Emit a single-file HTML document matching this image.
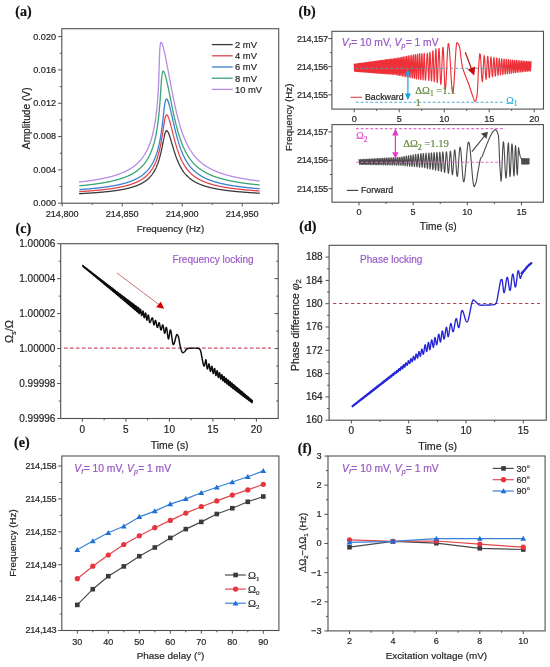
<!DOCTYPE html>
<html><head><meta charset="utf-8"><style>
html,body{margin:0;padding:0;background:#fff;width:550px;height:667px;overflow:hidden}
svg{display:block;filter:blur(0.3px)}
text{font-family:"Liberation Sans",sans-serif}
</style></head><body>
<svg width="550" height="667" viewBox="0 0 550 667">
<text x="15.3" y="15.8" style="font-family:Liberation Serif;font-weight:bold" font-size="14" fill="#111" stroke="#111" stroke-width="0.2">(a)</text>
<path d="M79.60 193.65 L79.90 193.64 L80.20 193.62 L80.50 193.61 L80.80 193.59 L81.10 193.58 L81.40 193.56 L81.70 193.54 L81.99 193.53 L82.29 193.51 L82.59 193.50 L82.89 193.48 L83.19 193.46 L83.49 193.45 L83.79 193.43 L84.09 193.41 L84.39 193.40 L84.68 193.38 L84.98 193.36 L85.28 193.35 L85.58 193.33 L85.88 193.31 L86.18 193.29 L86.48 193.28 L86.78 193.26 L87.07 193.24 L87.37 193.22 L87.67 193.21 L87.97 193.19 L88.27 193.17 L88.57 193.15 L88.87 193.13 L89.17 193.11 L89.47 193.09 L89.76 193.07 L90.06 193.06 L90.36 193.04 L90.66 193.02 L90.96 193.00 L91.26 192.98 L91.56 192.96 L91.86 192.94 L92.15 192.92 L92.45 192.90 L92.75 192.88 L93.05 192.85 L93.35 192.83 L93.65 192.81 L93.95 192.79 L94.24 192.77 L94.54 192.75 L94.84 192.73 L95.14 192.70 L95.44 192.68 L95.74 192.66 L96.04 192.64 L96.34 192.61 L96.63 192.59 L96.93 192.57 L97.23 192.54 L97.53 192.52 L97.83 192.50 L98.13 192.47 L98.43 192.45 L98.72 192.43 L99.02 192.40 L99.32 192.38 L99.62 192.35 L99.92 192.33 L100.22 192.30 L100.52 192.27 L100.81 192.25 L101.11 192.22 L101.41 192.20 L101.71 192.17 L102.01 192.14 L102.31 192.12 L102.61 192.09 L102.90 192.06 L103.20 192.03 L103.50 192.01 L103.80 191.98 L104.10 191.95 L104.40 191.92 L104.69 191.89 L104.99 191.86 L105.29 191.83 L105.59 191.80 L105.89 191.77 L106.19 191.74 L106.48 191.71 L106.78 191.68 L107.08 191.65 L107.38 191.62 L107.68 191.59 L107.98 191.55 L108.27 191.52 L108.57 191.49 L108.87 191.45 L109.17 191.42 L109.47 191.39 L109.77 191.35 L110.06 191.32 L110.36 191.28 L110.66 191.25 L110.96 191.21 L111.26 191.18 L111.56 191.14 L111.85 191.10 L112.15 191.07 L112.45 191.03 L112.75 190.99 L113.05 190.95 L113.34 190.91 L113.64 190.87 L113.94 190.83 L114.24 190.79 L114.54 190.75 L114.83 190.71 L115.13 190.67 L115.43 190.63 L115.73 190.59 L116.03 190.55 L116.33 190.50 L116.62 190.46 L116.92 190.41 L117.22 190.37 L117.52 190.32 L117.81 190.28 L118.11 190.23 L118.41 190.19 L118.71 190.14 L119.01 190.09 L119.30 190.04 L119.60 189.99 L119.90 189.94 L120.20 189.89 L120.50 189.84 L120.79 189.79 L121.09 189.74 L121.39 189.68 L121.69 189.63 L121.98 189.58 L122.28 189.52 L122.58 189.47 L122.88 189.41 L123.17 189.35 L123.47 189.29 L123.77 189.24 L124.07 189.18 L124.37 189.12 L124.66 189.06 L124.96 188.99 L125.26 188.93 L125.56 188.87 L125.85 188.80 L126.15 188.74 L126.45 188.67 L126.74 188.61 L127.04 188.54 L127.34 188.47 L127.64 188.40 L127.93 188.33 L128.23 188.26 L128.53 188.18 L128.83 188.11 L129.12 188.03 L129.42 187.96 L129.72 187.88 L130.01 187.80 L130.31 187.72 L130.61 187.64 L130.91 187.56 L131.20 187.48 L131.50 187.39 L131.80 187.30 L132.09 187.22 L132.39 187.13 L132.69 187.04 L132.98 186.95 L133.28 186.85 L133.58 186.76 L133.87 186.66 L134.17 186.56 L134.47 186.46 L134.76 186.36 L135.06 186.26 L135.36 186.15 L135.65 186.05 L135.95 185.94 L136.24 185.83 L136.54 185.72 L136.84 185.60 L137.13 185.48 L137.43 185.37 L137.73 185.24 L138.02 185.12 L138.32 185.00 L138.61 184.87 L138.91 184.74 L139.20 184.60 L139.50 184.47 L139.80 184.33 L140.09 184.19 L140.39 184.05 L140.68 183.90 L140.98 183.75 L141.27 183.60 L141.57 183.44 L141.86 183.28 L142.16 183.12 L142.45 182.95 L142.75 182.78 L143.04 182.61 L143.34 182.43 L143.63 182.25 L143.93 182.06 L144.22 181.88 L144.51 181.68 L144.81 181.48 L145.10 181.28 L145.40 181.07 L145.69 180.86 L145.98 180.64 L146.28 180.42 L146.57 180.19 L146.86 179.95 L147.16 179.71 L147.45 179.47 L147.74 179.21 L148.03 178.95 L148.32 178.70 L148.59 178.44 L148.86 178.18 L149.12 177.92 L149.38 177.67 L149.63 177.41 L149.87 177.15 L150.11 176.90 L150.34 176.64 L150.56 176.39 L150.78 176.13 L151.00 175.88 L151.21 175.62 L151.41 175.37 L151.61 175.11 L151.81 174.86 L152.00 174.61 L152.18 174.36 L152.37 174.10 L152.55 173.85 L152.72 173.60 L152.89 173.35 L153.06 173.10 L153.23 172.85 L153.39 172.60 L153.55 172.35 L153.70 172.10 L153.85 171.85 L154.00 171.60 L154.15 171.36 L154.29 171.11 L154.43 170.86 L154.57 170.62 L154.71 170.37 L154.84 170.13 L154.97 169.88 L155.10 169.64 L155.23 169.39 L155.35 169.15 L155.47 168.91 L155.59 168.66 L155.71 168.42 L155.82 168.18 L155.94 167.94 L156.05 167.70 L156.16 167.46 L156.27 167.22 L156.37 166.98 L156.48 166.74 L156.58 166.50 L156.68 166.26 L156.78 166.02 L156.88 165.79 L156.98 165.55 L157.07 165.32 L157.17 165.08 L157.26 164.85 L157.35 164.61 L157.44 164.38 L157.53 164.15 L157.61 163.91 L157.70 163.68 L157.78 163.45 L157.87 163.22 L157.95 162.99 L158.03 162.76 L158.11 162.53 L158.19 162.30 L158.27 162.07 L158.34 161.84 L158.42 161.62 L158.49 161.39 L158.57 161.17 L158.64 160.94 L158.71 160.72 L158.78 160.49 L158.85 160.27 L158.92 160.05 L158.99 159.82 L159.06 159.60 L159.12 159.38 L159.19 159.16 L159.25 158.94 L159.32 158.72 L159.38 158.50 L159.44 158.29 L159.51 158.07 L159.57 157.85 L159.63 157.64 L159.69 157.42 L159.75 157.21 L159.80 156.99 L159.86 156.78 L159.92 156.57 L159.97 156.36 L160.03 156.14 L160.08 155.93 L160.14 155.72 L160.19 155.51 L160.25 155.31 L160.30 155.10 L160.35 154.89 L160.40 154.68 L160.45 154.48 L160.50 154.27 L160.55 154.07 L160.60 153.87 L160.65 153.66 L160.70 153.46 L160.75 153.26 L160.80 153.06 L160.84 152.86 L160.89 152.66 L160.94 152.46 L160.98 152.26 L161.03 152.07 L161.07 151.87 L161.12 151.67 L161.16 151.48 L161.20 151.28 L161.25 151.09 L161.29 150.90 L161.33 150.71 L161.37 150.51 L161.41 150.32 L161.46 150.13 L161.50 149.95 L161.54 149.76 L161.58 149.57 L161.62 149.38 L161.66 149.20 L161.70 149.01 L161.73 148.83 L161.77 148.65 L161.81 148.46 L161.85 148.28 L161.89 148.10 L161.92 147.92 L161.96 147.74 L162.00 147.56 L162.03 147.38 L162.07 147.21 L162.10 147.03 L162.14 146.85 L162.18 146.68 L162.21 146.51 L162.24 146.33 L162.28 146.16 L162.31 145.99 L162.35 145.82 L162.38 145.65 L162.41 145.48 L162.45 145.31 L162.48 145.15 L162.51 144.98 L162.55 144.81 L162.58 144.65 L162.61 144.49 L162.64 144.32 L162.67 144.16 L162.71 144.00 L162.74 143.84 L162.77 143.68 L162.80 143.52 L162.83 143.37 L162.86 143.21 L162.89 143.05 L162.92 142.90 L162.95 142.74 L162.98 142.59 L163.01 142.44 L163.04 142.29 L163.07 142.14 L163.10 141.99 L163.13 141.84 L163.16 141.69 L163.18 141.54 L163.21 141.40 L163.24 141.25 L163.27 141.11 L163.30 140.96 L163.32 140.82 L163.35 140.68 L163.38 140.54 L163.41 140.40 L163.43 140.26 L163.46 140.12 L163.49 139.99 L163.52 139.85 L163.54 139.72 L163.57 139.58 L163.60 139.45 L163.62 139.32 L163.65 139.19 L163.67 139.06 L163.70 138.93 L163.73 138.80 L163.75 138.67 L163.78 138.54 L163.80 138.42 L163.83 138.29 L163.86 138.17 L163.88 138.05 L163.91 137.93 L163.93 137.81 L163.96 137.69 L163.98 137.57 L164.01 137.45 L164.03 137.33 L164.06 137.22 L164.08 137.10 L164.10 136.99 L164.13 136.87 L164.15 136.76 L164.18 136.65 L164.20 136.54 L164.23 136.43 L164.25 136.32 L164.28 136.22 L164.30 136.11 L164.32 136.01 L164.35 135.90 L164.37 135.80 L164.39 135.70 L164.42 135.60 L164.44 135.50 L164.47 135.40 L164.49 135.30 L164.51 135.20 L164.54 135.11 L164.56 135.01 L164.58 134.92 L164.61 134.82 L164.63 134.73 L164.65 134.64 L164.68 134.55 L164.70 134.46 L164.72 134.37 L164.74 134.29 L164.77 134.20 L164.79 134.12 L164.81 134.03 L164.84 133.95 L164.86 133.87 L164.88 133.79 L164.91 133.71 L164.93 133.63 L164.95 133.55 L164.97 133.47 L165.00 133.40 L165.02 133.32 L165.04 133.25 L165.06 133.18 L165.09 133.11 L165.11 133.04 L165.13 132.97 L165.15 132.90 L165.18 132.83 L165.20 132.76 L165.22 132.70 L165.24 132.63 L165.27 132.57 L165.29 132.51 L165.31 132.45 L165.33 132.39 L165.36 132.33 L165.38 132.27 L165.40 132.21 L165.42 132.16 L165.45 132.10 L165.47 132.05 L165.49 132.00 L165.51 131.95 L165.54 131.90 L165.56 131.85 L165.58 131.80 L165.60 131.75 L165.63 131.70 L165.65 131.66 L165.67 131.62 L165.69 131.57 L165.72 131.53 L165.74 131.49 L165.76 131.45 L165.78 131.41 L165.81 131.37 L165.83 131.34 L165.85 131.30 L165.87 131.27 L165.90 131.23 L165.92 131.20 L165.94 131.17 L165.96 131.14 L165.99 131.11 L166.01 131.08 L166.03 131.05 L166.06 131.03 L166.08 131.00 L166.10 130.98 L166.12 130.96 L166.15 130.94 L166.17 130.92 L166.19 130.90 L166.22 130.88 L166.24 130.86 L166.26 130.84 L166.28 130.83 L166.31 130.81 L166.33 130.80 L166.35 130.79 L166.38 130.78 L166.40 130.77 L166.42 130.76 L166.45 130.75 L166.47 130.75 L166.49 130.74 L166.52 130.74 L166.54 130.73 L166.56 130.73 L166.59 130.73 L166.61 130.73 L166.64 130.73 L166.67 130.73 L166.69 130.74 L166.72 130.74 L166.75 130.74 L166.77 130.75 L166.80 130.76 L166.83 130.77 L166.86 130.78 L166.88 130.79 L166.91 130.80 L166.94 130.81 L166.96 130.83 L166.99 130.84 L167.02 130.86 L167.05 130.87 L167.08 130.89 L167.10 130.91 L167.13 130.93 L167.16 130.95 L167.19 130.98 L167.21 131.00 L167.24 131.02 L167.27 131.05 L167.30 131.08 L167.33 131.10 L167.36 131.13 L167.38 131.16 L167.41 131.19 L167.44 131.23 L167.47 131.26 L167.50 131.29 L167.53 131.33 L167.56 131.37 L167.58 131.40 L167.61 131.44 L167.64 131.48 L167.67 131.52 L167.70 131.56 L167.73 131.61 L167.76 131.65 L167.79 131.70 L167.82 131.74 L167.85 131.79 L167.88 131.84 L167.91 131.89 L167.94 131.94 L167.97 131.99 L168.00 132.04 L168.03 132.09 L168.06 132.15 L168.09 132.20 L168.12 132.26 L168.15 132.32 L168.18 132.38 L168.21 132.44 L168.24 132.50 L168.27 132.56 L168.30 132.62 L168.33 132.69 L168.36 132.75 L168.39 132.82 L168.42 132.89 L168.46 132.95 L168.49 133.02 L168.52 133.09 L168.55 133.16 L168.58 133.24 L168.61 133.31 L168.65 133.38 L168.68 133.46 L168.71 133.54 L168.74 133.61 L168.77 133.69 L168.81 133.77 L168.84 133.85 L168.87 133.93 L168.90 134.02 L168.94 134.10 L168.97 134.19 L169.00 134.27 L169.04 134.36 L169.07 134.45 L169.10 134.53 L169.14 134.62 L169.17 134.72 L169.20 134.81 L169.24 134.90 L169.27 134.99 L169.31 135.09 L169.34 135.18 L169.38 135.28 L169.41 135.38 L169.44 135.48 L169.48 135.58 L169.51 135.68 L169.55 135.78 L169.58 135.88 L169.62 135.99 L169.65 136.09 L169.69 136.20 L169.73 136.31 L169.76 136.41 L169.80 136.52 L169.83 136.63 L169.87 136.74 L169.91 136.85 L169.94 136.97 L169.98 137.08 L170.02 137.20 L170.05 137.31 L170.09 137.43 L170.13 137.55 L170.17 137.66 L170.20 137.78 L170.24 137.91 L170.28 138.03 L170.32 138.15 L170.36 138.27 L170.39 138.40 L170.43 138.52 L170.47 138.65 L170.51 138.78 L170.55 138.90 L170.59 139.03 L170.63 139.16 L170.67 139.29 L170.71 139.43 L170.75 139.56 L170.79 139.69 L170.83 139.83 L170.87 139.96 L170.91 140.10 L170.95 140.24 L170.99 140.38 L171.03 140.52 L171.08 140.66 L171.12 140.80 L171.16 140.94 L171.20 141.08 L171.24 141.23 L171.29 141.37 L171.33 141.52 L171.37 141.66 L171.42 141.81 L171.46 141.96 L171.50 142.11 L171.55 142.26 L171.59 142.41 L171.64 142.56 L171.68 142.72 L171.73 142.87 L171.77 143.03 L171.82 143.18 L171.86 143.34 L171.91 143.50 L171.95 143.65 L172.00 143.81 L172.05 143.97 L172.09 144.13 L172.14 144.30 L172.19 144.46 L172.24 144.62 L172.28 144.79 L172.33 144.95 L172.38 145.12 L172.43 145.28 L172.48 145.45 L172.53 145.62 L172.58 145.79 L172.63 145.96 L172.68 146.13 L172.73 146.30 L172.78 146.48 L172.83 146.65 L172.88 146.82 L172.93 147.00 L172.99 147.18 L173.04 147.35 L173.09 147.53 L173.14 147.71 L173.20 147.89 L173.25 148.07 L173.31 148.25 L173.36 148.43 L173.42 148.61 L173.47 148.80 L173.53 148.98 L173.58 149.17 L173.64 149.35 L173.70 149.54 L173.75 149.73 L173.81 149.91 L173.87 150.10 L173.93 150.29 L173.99 150.48 L174.05 150.67 L174.11 150.86 L174.17 151.06 L174.23 151.25 L174.29 151.44 L174.35 151.64 L174.41 151.83 L174.47 152.03 L174.54 152.23 L174.60 152.43 L174.66 152.62 L174.73 152.82 L174.79 153.02 L174.86 153.22 L174.93 153.43 L174.99 153.63 L175.06 153.83 L175.13 154.03 L175.20 154.24 L175.27 154.44 L175.34 154.65 L175.41 154.86 L175.48 155.06 L175.55 155.27 L175.62 155.48 L175.69 155.69 L175.77 155.90 L175.84 156.11 L175.92 156.32 L175.99 156.53 L176.07 156.74 L176.14 156.96 L176.22 157.17 L176.30 157.38 L176.38 157.60 L176.46 157.82 L176.54 158.03 L176.62 158.25 L176.70 158.47 L176.79 158.68 L176.87 158.90 L176.96 159.12 L177.04 159.34 L177.13 159.56 L177.22 159.79 L177.31 160.01 L177.40 160.23 L177.49 160.45 L177.58 160.68 L177.67 160.90 L177.76 161.13 L177.86 161.35 L177.96 161.58 L178.05 161.81 L178.15 162.03 L178.25 162.26 L178.35 162.49 L178.45 162.72 L178.56 162.95 L178.66 163.18 L178.77 163.41 L178.87 163.64 L178.98 163.87 L179.09 164.11 L179.20 164.34 L179.31 164.57 L179.43 164.81 L179.54 165.04 L179.66 165.28 L179.78 165.51 L179.90 165.75 L180.02 165.98 L180.15 166.22 L180.27 166.46 L180.40 166.70 L180.53 166.94 L180.66 167.18 L180.79 167.41 L180.93 167.65 L181.06 167.90 L181.20 168.14 L181.34 168.38 L181.49 168.62 L181.63 168.86 L181.78 169.11 L181.93 169.35 L182.09 169.59 L182.24 169.84 L182.40 170.08 L182.56 170.33 L182.72 170.57 L182.89 170.82 L183.06 171.07 L183.23 171.31 L183.41 171.56 L183.59 171.81 L183.77 172.06 L183.96 172.31 L184.14 172.56 L184.34 172.81 L184.53 173.06 L184.73 173.31 L184.94 173.56 L185.15 173.81 L185.36 174.06 L185.58 174.31 L185.80 174.56 L186.02 174.82 L186.25 175.07 L186.49 175.32 L186.73 175.58 L186.98 175.83 L187.23 176.09 L187.49 176.34 L187.75 176.60 L188.02 176.85 L188.30 177.11 L188.58 177.37 L188.87 177.62 L189.17 177.88 L189.48 178.14 L189.78 178.39 L190.09 178.64 L190.40 178.88 L190.70 179.11 L191.01 179.34 L191.32 179.57 L191.62 179.79 L191.93 180.00 L192.24 180.21 L192.54 180.42 L192.85 180.62 L193.15 180.81 L193.46 181.00 L193.76 181.19 L194.07 181.38 L194.38 181.56 L194.68 181.73 L194.99 181.91 L195.29 182.07 L195.60 182.24 L195.90 182.40 L196.21 182.56 L196.51 182.72 L196.82 182.87 L197.12 183.02 L197.42 183.17 L197.73 183.31 L198.03 183.46 L198.34 183.59 L198.64 183.73 L198.95 183.87 L199.25 184.00 L199.55 184.13 L199.86 184.25 L200.16 184.38 L200.47 184.50 L200.77 184.62 L201.07 184.74 L201.38 184.86 L201.68 184.97 L201.98 185.08 L202.29 185.19 L202.59 185.30 L202.90 185.41 L203.20 185.51 L203.50 185.62 L203.81 185.72 L204.11 185.82 L204.41 185.92 L204.72 186.02 L205.02 186.11 L205.32 186.21 L205.63 186.30 L205.93 186.39 L206.23 186.48 L206.54 186.57 L206.84 186.66 L207.14 186.74 L207.44 186.83 L207.75 186.91 L208.05 186.99 L208.35 187.07 L208.66 187.15 L208.96 187.23 L209.26 187.31 L209.56 187.38 L209.87 187.46 L210.17 187.53 L210.47 187.61 L210.78 187.68 L211.08 187.75 L211.38 187.82 L211.68 187.89 L211.99 187.96 L212.29 188.03 L212.59 188.10 L212.89 188.16 L213.20 188.23 L213.50 188.29 L213.80 188.35 L214.10 188.42 L214.41 188.48 L214.71 188.54 L215.01 188.60 L215.31 188.66 L215.62 188.72 L215.92 188.78 L216.22 188.83 L216.52 188.89 L216.82 188.95 L217.13 189.00 L217.43 189.06 L217.73 189.11 L218.03 189.16 L218.34 189.22 L218.64 189.27 L218.94 189.32 L219.24 189.37 L219.54 189.42 L219.85 189.47 L220.15 189.52 L220.45 189.57 L220.75 189.62 L221.05 189.66 L221.36 189.71 L221.66 189.76 L221.96 189.80 L222.26 189.85 L222.56 189.89 L222.87 189.94 L223.17 189.98 L223.47 190.03 L223.77 190.07 L224.07 190.11 L224.38 190.15 L224.68 190.20 L224.98 190.24 L225.28 190.28 L225.58 190.32 L225.88 190.36 L226.19 190.40 L226.49 190.44 L226.79 190.48 L227.09 190.52 L227.39 190.55 L227.70 190.59 L228.00 190.63 L228.30 190.67 L228.60 190.70 L228.90 190.74 L229.20 190.78 L229.51 190.81 L229.81 190.85 L230.11 190.88 L230.41 190.92 L230.71 190.95 L231.01 190.98 L231.32 191.02 L231.62 191.05 L231.92 191.08 L232.22 191.12 L232.52 191.15 L232.82 191.18 L233.13 191.21 L233.43 191.24 L233.73 191.28 L234.03 191.31 L234.33 191.34 L234.63 191.37 L234.93 191.40 L235.24 191.43 L235.54 191.46 L235.84 191.49 L236.14 191.52 L236.44 191.54 L236.74 191.57 L237.05 191.60 L237.35 191.63 L237.65 191.66 L237.95 191.68 L238.25 191.71 L238.55 191.74 L238.85 191.77 L239.16 191.79 L239.46 191.82 L239.76 191.85 L240.06 191.87 L240.36 191.90 L240.66 191.92 L240.96 191.95 L241.27 191.97 L241.57 192.00 L241.87 192.02 L242.17 192.05 L242.47 192.07 L242.77 192.10 L243.07 192.12 L243.37 192.14 L243.68 192.17 L243.98 192.19 L244.28 192.21 L244.58 192.24 L244.88 192.26 L245.18 192.28 L245.48 192.31 L245.79 192.33 L246.09 192.35 L246.39 192.37 L246.69 192.39 L246.99 192.42 L247.29 192.44 L247.59 192.46 L247.89 192.48 L248.20 192.50 L248.50 192.52 L248.80 192.54 L249.10 192.56 L249.40 192.58 L249.70 192.60 L250.00 192.62 L250.30 192.64 L250.61 192.66 L250.91 192.68 L251.21 192.70 L251.51 192.72 L251.81 192.74 L252.11 192.76 L252.41 192.78 L252.71 192.80 L253.01 192.82 L253.32 192.84 L253.62 192.85 L253.92 192.87 L254.22 192.89 L254.52 192.91 L254.82 192.93 L255.12 192.95 L255.42 192.96 L255.72 192.98 L256.03 193.00 L256.33 193.02 L256.63 193.03 L256.93 193.05 L257.23 193.07 L257.53 193.08 L257.83 193.10 L258.13 193.12 L258.43 193.13 L258.74 193.15 L259.04 193.17 L259.34 193.18" fill="none" stroke="#3a3a3a" stroke-width="1.3" stroke-linejoin="round" stroke-linecap="round" />
<path d="M79.68 191.60 L79.97 191.59 L80.27 191.57 L80.57 191.55 L80.87 191.53 L81.17 191.51 L81.47 191.49 L81.77 191.47 L82.07 191.46 L82.37 191.44 L82.66 191.42 L82.96 191.40 L83.26 191.38 L83.56 191.36 L83.86 191.34 L84.16 191.32 L84.46 191.30 L84.76 191.28 L85.06 191.26 L85.35 191.24 L85.65 191.22 L85.95 191.20 L86.25 191.17 L86.55 191.15 L86.85 191.13 L87.15 191.11 L87.45 191.09 L87.74 191.07 L88.04 191.04 L88.34 191.02 L88.64 191.00 L88.94 190.98 L89.24 190.96 L89.54 190.93 L89.84 190.91 L90.13 190.89 L90.43 190.86 L90.73 190.84 L91.03 190.82 L91.33 190.79 L91.63 190.77 L91.93 190.74 L92.22 190.72 L92.52 190.70 L92.82 190.67 L93.12 190.65 L93.42 190.62 L93.72 190.59 L94.02 190.57 L94.32 190.54 L94.61 190.52 L94.91 190.49 L95.21 190.46 L95.51 190.44 L95.81 190.41 L96.11 190.38 L96.41 190.36 L96.70 190.33 L97.00 190.30 L97.30 190.27 L97.60 190.25 L97.90 190.22 L98.20 190.19 L98.50 190.16 L98.79 190.13 L99.09 190.10 L99.39 190.07 L99.69 190.04 L99.99 190.01 L100.29 189.98 L100.59 189.95 L100.88 189.92 L101.18 189.89 L101.48 189.86 L101.78 189.83 L102.08 189.79 L102.38 189.76 L102.67 189.73 L102.97 189.70 L103.27 189.66 L103.57 189.63 L103.87 189.60 L104.17 189.56 L104.46 189.53 L104.76 189.49 L105.06 189.46 L105.36 189.42 L105.66 189.39 L105.96 189.35 L106.25 189.31 L106.55 189.28 L106.85 189.24 L107.15 189.20 L107.45 189.16 L107.75 189.13 L108.04 189.09 L108.34 189.05 L108.64 189.01 L108.94 188.97 L109.24 188.93 L109.54 188.89 L109.83 188.85 L110.13 188.81 L110.43 188.77 L110.73 188.72 L111.03 188.68 L111.32 188.64 L111.62 188.59 L111.92 188.55 L112.22 188.51 L112.52 188.46 L112.81 188.42 L113.11 188.37 L113.41 188.32 L113.71 188.28 L114.01 188.23 L114.30 188.18 L114.60 188.13 L114.90 188.09 L115.20 188.04 L115.50 187.99 L115.79 187.94 L116.09 187.89 L116.39 187.83 L116.69 187.78 L116.99 187.73 L117.28 187.68 L117.58 187.62 L117.88 187.57 L118.18 187.51 L118.48 187.46 L118.77 187.40 L119.07 187.34 L119.37 187.28 L119.67 187.23 L119.96 187.17 L120.26 187.11 L120.56 187.05 L120.86 186.99 L121.15 186.92 L121.45 186.86 L121.75 186.80 L122.05 186.73 L122.34 186.67 L122.64 186.60 L122.94 186.53 L123.24 186.47 L123.53 186.40 L123.83 186.33 L124.13 186.26 L124.43 186.19 L124.72 186.11 L125.02 186.04 L125.32 185.97 L125.62 185.89 L125.91 185.82 L126.21 185.74 L126.51 185.66 L126.80 185.58 L127.10 185.50 L127.40 185.42 L127.70 185.34 L127.99 185.25 L128.29 185.17 L128.59 185.08 L128.88 184.99 L129.18 184.90 L129.48 184.81 L129.78 184.72 L130.07 184.63 L130.37 184.54 L130.67 184.44 L130.96 184.34 L131.26 184.24 L131.56 184.14 L131.85 184.04 L132.15 183.94 L132.45 183.83 L132.74 183.73 L133.04 183.62 L133.33 183.51 L133.63 183.40 L133.93 183.28 L134.22 183.17 L134.52 183.05 L134.82 182.93 L135.11 182.81 L135.41 182.69 L135.70 182.56 L136.00 182.43 L136.30 182.30 L136.59 182.17 L136.89 182.03 L137.18 181.90 L137.48 181.76 L137.77 181.62 L138.07 181.47 L138.37 181.32 L138.66 181.17 L138.96 181.02 L139.25 180.86 L139.55 180.71 L139.84 180.54 L140.14 180.38 L140.43 180.21 L140.73 180.04 L141.02 179.86 L141.32 179.68 L141.61 179.50 L141.90 179.32 L142.20 179.13 L142.49 178.93 L142.79 178.73 L143.08 178.53 L143.38 178.32 L143.67 178.11 L143.96 177.90 L144.26 177.68 L144.55 177.45 L144.84 177.22 L145.14 176.98 L145.43 176.74 L145.72 176.49 L146.02 176.24 L146.31 175.98 L146.60 175.71 L146.89 175.44 L147.18 175.16 L147.48 174.88 L147.77 174.58 L148.06 174.28 L148.35 173.97 L148.64 173.66 L148.92 173.34 L149.20 173.03 L149.46 172.72 L149.72 172.40 L149.98 172.09 L150.22 171.78 L150.46 171.46 L150.70 171.15 L150.93 170.84 L151.15 170.53 L151.37 170.22 L151.58 169.91 L151.79 169.60 L151.99 169.29 L152.19 168.98 L152.38 168.67 L152.57 168.36 L152.76 168.06 L152.94 167.75 L153.12 167.44 L153.29 167.14 L153.46 166.83 L153.63 166.53 L153.79 166.22 L153.95 165.92 L154.11 165.61 L154.26 165.31 L154.41 165.01 L154.56 164.70 L154.70 164.40 L154.84 164.10 L154.98 163.80 L155.12 163.50 L155.25 163.20 L155.38 162.90 L155.51 162.60 L155.64 162.31 L155.76 162.01 L155.88 161.71 L156.00 161.42 L156.12 161.12 L156.23 160.82 L156.35 160.53 L156.46 160.24 L156.57 159.94 L156.68 159.65 L156.78 159.36 L156.89 159.07 L156.99 158.78 L157.09 158.48 L157.19 158.20 L157.29 157.91 L157.38 157.62 L157.48 157.33 L157.57 157.04 L157.66 156.76 L157.75 156.47 L157.84 156.18 L157.93 155.90 L158.01 155.62 L158.10 155.33 L158.18 155.05 L158.26 154.77 L158.34 154.49 L158.42 154.21 L158.50 153.93 L158.58 153.65 L158.65 153.37 L158.73 153.09 L158.80 152.81 L158.88 152.54 L158.95 152.26 L159.02 151.99 L159.09 151.71 L159.16 151.44 L159.23 151.17 L159.30 150.89 L159.36 150.62 L159.43 150.35 L159.49 150.08 L159.56 149.81 L159.62 149.54 L159.68 149.28 L159.74 149.01 L159.80 148.74 L159.86 148.48 L159.92 148.21 L159.98 147.95 L160.04 147.69 L160.10 147.42 L160.15 147.16 L160.21 146.90 L160.26 146.64 L160.32 146.38 L160.37 146.13 L160.42 145.87 L160.48 145.61 L160.53 145.36 L160.58 145.10 L160.63 144.85 L160.68 144.59 L160.73 144.34 L160.78 144.09 L160.83 143.84 L160.87 143.59 L160.92 143.34 L160.97 143.09 L161.02 142.84 L161.06 142.60 L161.11 142.35 L161.15 142.11 L161.20 141.86 L161.24 141.62 L161.28 141.38 L161.33 141.14 L161.37 140.90 L161.41 140.66 L161.45 140.42 L161.49 140.18 L161.53 139.95 L161.58 139.71 L161.62 139.48 L161.65 139.24 L161.69 139.01 L161.73 138.78 L161.77 138.55 L161.81 138.32 L161.85 138.09 L161.89 137.86 L161.92 137.63 L161.96 137.40 L162.00 137.18 L162.03 136.95 L162.07 136.73 L162.10 136.51 L162.14 136.29 L162.17 136.07 L162.21 135.85 L162.24 135.63 L162.28 135.41 L162.31 135.19 L162.34 134.98 L162.38 134.76 L162.41 134.55 L162.44 134.34 L162.47 134.13 L162.51 133.91 L162.54 133.70 L162.57 133.50 L162.60 133.29 L162.63 133.08 L162.66 132.88 L162.69 132.67 L162.73 132.47 L162.76 132.27 L162.79 132.06 L162.82 131.86 L162.84 131.66 L162.87 131.47 L162.90 131.27 L162.93 131.07 L162.96 130.88 L162.99 130.68 L163.02 130.49 L163.05 130.30 L163.07 130.11 L163.10 129.92 L163.13 129.73 L163.16 129.54 L163.19 129.35 L163.21 129.17 L163.24 128.98 L163.27 128.80 L163.29 128.62 L163.32 128.44 L163.35 128.26 L163.37 128.08 L163.40 127.90 L163.42 127.72 L163.45 127.55 L163.48 127.37 L163.50 127.20 L163.53 127.03 L163.55 126.86 L163.58 126.69 L163.60 126.52 L163.63 126.35 L163.65 126.18 L163.68 126.02 L163.70 125.85 L163.73 125.69 L163.75 125.53 L163.77 125.37 L163.80 125.21 L163.82 125.05 L163.85 124.89 L163.87 124.73 L163.89 124.58 L163.92 124.42 L163.94 124.27 L163.96 124.12 L163.99 123.97 L164.01 123.82 L164.03 123.67 L164.06 123.52 L164.08 123.38 L164.10 123.23 L164.13 123.09 L164.15 122.95 L164.17 122.81 L164.20 122.67 L164.22 122.53 L164.24 122.39 L164.26 122.25 L164.29 122.12 L164.31 121.98 L164.33 121.85 L164.35 121.72 L164.37 121.59 L164.40 121.46 L164.42 121.33 L164.44 121.20 L164.46 121.08 L164.48 120.95 L164.51 120.83 L164.53 120.71 L164.55 120.59 L164.57 120.47 L164.59 120.35 L164.62 120.23 L164.64 120.12 L164.66 120.00 L164.68 119.89 L164.70 119.78 L164.72 119.67 L164.75 119.56 L164.77 119.45 L164.79 119.34 L164.81 119.24 L164.83 119.13 L164.85 119.03 L164.87 118.93 L164.90 118.82 L164.92 118.73 L164.94 118.63 L164.96 118.53 L164.98 118.43 L165.00 118.34 L165.02 118.25 L165.05 118.15 L165.07 118.06 L165.09 117.97 L165.11 117.88 L165.13 117.80 L165.15 117.71 L165.17 117.63 L165.19 117.54 L165.22 117.46 L165.24 117.38 L165.26 117.30 L165.28 117.22 L165.30 117.15 L165.32 117.07 L165.34 117.00 L165.37 116.92 L165.39 116.85 L165.41 116.78 L165.43 116.71 L165.45 116.64 L165.47 116.58 L165.49 116.51 L165.52 116.45 L165.54 116.39 L165.56 116.32 L165.58 116.26 L165.60 116.20 L165.62 116.15 L165.64 116.09 L165.67 116.04 L165.69 115.98 L165.71 115.93 L165.73 115.88 L165.75 115.83 L165.77 115.78 L165.80 115.73 L165.82 115.69 L165.84 115.64 L165.86 115.60 L165.88 115.56 L165.91 115.52 L165.93 115.48 L165.95 115.44 L165.97 115.40 L165.99 115.37 L166.02 115.33 L166.04 115.30 L166.06 115.27 L166.08 115.24 L166.11 115.21 L166.13 115.18 L166.15 115.15 L166.17 115.13 L166.20 115.11 L166.22 115.08 L166.24 115.06 L166.26 115.04 L166.29 115.02 L166.31 115.01 L166.33 114.99 L166.35 114.98 L166.38 114.96 L166.40 114.95 L166.42 114.94 L166.45 114.93 L166.47 114.92 L166.49 114.92 L166.52 114.91 L166.54 114.91 L166.56 114.90 L166.59 114.90 L166.61 114.90 L166.64 114.90 L166.67 114.91 L166.69 114.91 L166.72 114.91 L166.75 114.92 L166.77 114.93 L166.80 114.94 L166.83 114.95 L166.86 114.96 L166.88 114.97 L166.91 114.99 L166.94 115.00 L166.97 115.02 L166.99 115.04 L167.02 115.06 L167.05 115.08 L167.08 115.10 L167.11 115.12 L167.13 115.15 L167.16 115.18 L167.19 115.20 L167.22 115.23 L167.25 115.26 L167.28 115.29 L167.31 115.33 L167.33 115.36 L167.36 115.40 L167.39 115.43 L167.42 115.47 L167.45 115.51 L167.48 115.55 L167.51 115.59 L167.54 115.63 L167.57 115.68 L167.60 115.72 L167.63 115.77 L167.66 115.82 L167.69 115.87 L167.72 115.92 L167.75 115.97 L167.78 116.03 L167.81 116.08 L167.84 116.14 L167.87 116.19 L167.90 116.25 L167.93 116.31 L167.96 116.37 L167.99 116.44 L168.02 116.50 L168.05 116.57 L168.08 116.63 L168.11 116.70 L168.15 116.77 L168.18 116.84 L168.21 116.91 L168.24 116.98 L168.27 117.06 L168.30 117.13 L168.34 117.21 L168.37 117.29 L168.40 117.37 L168.43 117.45 L168.46 117.53 L168.50 117.61 L168.53 117.70 L168.56 117.78 L168.60 117.87 L168.63 117.96 L168.66 118.05 L168.69 118.14 L168.73 118.23 L168.76 118.32 L168.80 118.42 L168.83 118.51 L168.86 118.61 L168.90 118.71 L168.93 118.81 L168.97 118.91 L169.00 119.01 L169.03 119.11 L169.07 119.22 L169.10 119.32 L169.14 119.43 L169.17 119.54 L169.21 119.65 L169.24 119.76 L169.28 119.87 L169.31 119.98 L169.35 120.10 L169.39 120.21 L169.42 120.33 L169.46 120.45 L169.49 120.57 L169.53 120.69 L169.57 120.81 L169.60 120.93 L169.64 121.06 L169.68 121.18 L169.71 121.31 L169.75 121.44 L169.79 121.57 L169.83 121.70 L169.86 121.83 L169.90 121.96 L169.94 122.09 L169.98 122.23 L170.02 122.37 L170.06 122.50 L170.09 122.64 L170.13 122.78 L170.17 122.92 L170.21 123.06 L170.25 123.21 L170.29 123.35 L170.33 123.50 L170.37 123.65 L170.41 123.79 L170.45 123.94 L170.49 124.09 L170.53 124.24 L170.57 124.40 L170.61 124.55 L170.65 124.71 L170.70 124.86 L170.74 125.02 L170.78 125.18 L170.82 125.34 L170.86 125.50 L170.90 125.66 L170.95 125.82 L170.99 125.99 L171.03 126.15 L171.08 126.32 L171.12 126.49 L171.16 126.66 L171.21 126.83 L171.25 127.00 L171.29 127.17 L171.34 127.34 L171.38 127.52 L171.43 127.69 L171.47 127.87 L171.52 128.05 L171.56 128.23 L171.61 128.41 L171.65 128.59 L171.70 128.77 L171.75 128.95 L171.79 129.14 L171.84 129.32 L171.89 129.51 L171.93 129.70 L171.98 129.88 L172.03 130.07 L172.08 130.26 L172.13 130.46 L172.18 130.65 L172.22 130.84 L172.27 131.04 L172.32 131.23 L172.37 131.43 L172.42 131.63 L172.47 131.83 L172.52 132.03 L172.57 132.23 L172.62 132.43 L172.68 132.64 L172.73 132.84 L172.78 133.05 L172.83 133.25 L172.88 133.46 L172.94 133.67 L172.99 133.88 L173.04 134.09 L173.10 134.30 L173.15 134.51 L173.21 134.73 L173.26 134.94 L173.31 135.16 L173.37 135.37 L173.43 135.59 L173.48 135.81 L173.54 136.03 L173.60 136.25 L173.65 136.47 L173.71 136.69 L173.77 136.92 L173.83 137.14 L173.89 137.37 L173.94 137.59 L174.00 137.82 L174.06 138.05 L174.12 138.28 L174.18 138.51 L174.25 138.74 L174.31 138.97 L174.37 139.20 L174.43 139.43 L174.49 139.67 L174.56 139.91 L174.62 140.14 L174.69 140.38 L174.75 140.62 L174.82 140.86 L174.88 141.10 L174.95 141.34 L175.01 141.58 L175.08 141.82 L175.15 142.07 L175.22 142.31 L175.29 142.56 L175.36 142.80 L175.43 143.05 L175.50 143.30 L175.57 143.55 L175.64 143.80 L175.71 144.05 L175.78 144.30 L175.86 144.55 L175.93 144.80 L176.01 145.06 L176.08 145.31 L176.16 145.57 L176.24 145.82 L176.31 146.08 L176.39 146.34 L176.47 146.60 L176.55 146.86 L176.63 147.12 L176.71 147.38 L176.79 147.64 L176.87 147.90 L176.96 148.17 L177.04 148.43 L177.13 148.70 L177.21 148.96 L177.30 149.23 L177.39 149.50 L177.48 149.77 L177.56 150.03 L177.65 150.30 L177.75 150.57 L177.84 150.85 L177.93 151.12 L178.03 151.39 L178.12 151.66 L178.22 151.94 L178.31 152.21 L178.41 152.49 L178.51 152.77 L178.61 153.04 L178.71 153.32 L178.82 153.60 L178.92 153.88 L179.03 154.16 L179.13 154.44 L179.24 154.72 L179.35 155.00 L179.46 155.28 L179.57 155.57 L179.69 155.85 L179.80 156.14 L179.92 156.42 L180.04 156.71 L180.16 156.99 L180.28 157.28 L180.40 157.57 L180.52 157.86 L180.65 158.15 L180.78 158.43 L180.91 158.73 L181.04 159.02 L181.17 159.31 L181.31 159.60 L181.44 159.89 L181.58 160.19 L181.73 160.48 L181.87 160.77 L182.01 161.07 L182.16 161.36 L182.31 161.66 L182.47 161.96 L182.62 162.25 L182.78 162.55 L182.94 162.85 L183.10 163.15 L183.27 163.45 L183.44 163.75 L183.61 164.05 L183.78 164.35 L183.96 164.65 L184.14 164.95 L184.33 165.26 L184.51 165.56 L184.70 165.86 L184.90 166.17 L185.10 166.47 L185.30 166.78 L185.51 167.08 L185.72 167.39 L185.93 167.70 L186.15 168.00 L186.37 168.31 L186.60 168.62 L186.83 168.93 L187.07 169.24 L187.31 169.55 L187.56 169.86 L187.82 170.17 L188.08 170.48 L188.34 170.79 L188.61 171.10 L188.89 171.41 L189.18 171.72 L189.47 172.04 L189.77 172.35 L190.08 172.66 L190.39 172.97 L190.69 173.27 L191.00 173.56 L191.31 173.85 L191.62 174.13 L191.93 174.41 L192.23 174.67 L192.54 174.93 L192.85 175.19 L193.16 175.44 L193.46 175.68 L193.77 175.92 L194.08 176.16 L194.38 176.39 L194.69 176.61 L195.00 176.83 L195.30 177.04 L195.61 177.25 L195.91 177.46 L196.22 177.66 L196.53 177.86 L196.83 178.06 L197.14 178.25 L197.44 178.43 L197.75 178.61 L198.05 178.79 L198.36 178.97 L198.66 179.14 L198.97 179.31 L199.27 179.48 L199.58 179.64 L199.88 179.80 L200.19 179.96 L200.49 180.12 L200.80 180.27 L201.10 180.42 L201.41 180.56 L201.71 180.71 L202.02 180.85 L202.32 180.99 L202.62 181.13 L202.93 181.26 L203.23 181.39 L203.54 181.52 L203.84 181.65 L204.14 181.78 L204.45 181.90 L204.75 182.02 L205.06 182.14 L205.36 182.26 L205.66 182.38 L205.97 182.49 L206.27 182.61 L206.57 182.72 L206.88 182.83 L207.18 182.94 L207.48 183.04 L207.79 183.15 L208.09 183.25 L208.39 183.35 L208.70 183.45 L209.00 183.55 L209.30 183.65 L209.61 183.74 L209.91 183.84 L210.21 183.93 L210.52 184.02 L210.82 184.11 L211.12 184.20 L211.43 184.29 L211.73 184.38 L212.03 184.46 L212.33 184.55 L212.64 184.63 L212.94 184.71 L213.24 184.80 L213.55 184.88 L213.85 184.96 L214.15 185.03 L214.45 185.11 L214.76 185.19 L215.06 185.26 L215.36 185.34 L215.66 185.41 L215.97 185.48 L216.27 185.55 L216.57 185.63 L216.87 185.70 L217.18 185.76 L217.48 185.83 L217.78 185.90 L218.08 185.97 L218.39 186.03 L218.69 186.10 L218.99 186.16 L219.29 186.23 L219.60 186.29 L219.90 186.35 L220.20 186.41 L220.50 186.47 L220.81 186.53 L221.11 186.59 L221.41 186.65 L221.71 186.71 L222.01 186.77 L222.32 186.82 L222.62 186.88 L222.92 186.93 L223.22 186.99 L223.53 187.04 L223.83 187.10 L224.13 187.15 L224.43 187.20 L224.73 187.25 L225.04 187.31 L225.34 187.36 L225.64 187.41 L225.94 187.46 L226.24 187.51 L226.55 187.56 L226.85 187.60 L227.15 187.65 L227.45 187.70 L227.75 187.75 L228.06 187.79 L228.36 187.84 L228.66 187.88 L228.96 187.93 L229.26 187.97 L229.56 188.02 L229.87 188.06 L230.17 188.11 L230.47 188.15 L230.77 188.19 L231.07 188.23 L231.38 188.27 L231.68 188.32 L231.98 188.36 L232.28 188.40 L232.58 188.44 L232.88 188.48 L233.19 188.52 L233.49 188.56 L233.79 188.59 L234.09 188.63 L234.39 188.67 L234.69 188.71 L235.00 188.75 L235.30 188.78 L235.60 188.82 L235.90 188.86 L236.20 188.89 L236.50 188.93 L236.81 188.96 L237.11 189.00 L237.41 189.03 L237.71 189.07 L238.01 189.10 L238.31 189.14 L238.61 189.17 L238.92 189.20 L239.22 189.24 L239.52 189.27 L239.82 189.30 L240.12 189.33 L240.42 189.37 L240.73 189.40 L241.03 189.43 L241.33 189.46 L241.63 189.49 L241.93 189.52 L242.23 189.55 L242.53 189.58 L242.84 189.61 L243.14 189.64 L243.44 189.67 L243.74 189.70 L244.04 189.73 L244.34 189.76 L244.64 189.79 L244.95 189.81 L245.25 189.84 L245.55 189.87 L245.85 189.90 L246.15 189.93 L246.45 189.95 L246.75 189.98 L247.05 190.01 L247.36 190.03 L247.66 190.06 L247.96 190.09 L248.26 190.11 L248.56 190.14 L248.86 190.16 L249.16 190.19 L249.47 190.21 L249.77 190.24 L250.07 190.26 L250.37 190.29 L250.67 190.31 L250.97 190.34 L251.27 190.36 L251.57 190.39 L251.88 190.41 L252.18 190.43 L252.48 190.46 L252.78 190.48 L253.08 190.50 L253.38 190.53 L253.68 190.55 L253.98 190.57 L254.28 190.60 L254.59 190.62 L254.89 190.64 L255.19 190.66 L255.49 190.68 L255.79 190.71 L256.09 190.73 L256.39 190.75 L256.69 190.77 L257.00 190.79 L257.30 190.81 L257.60 190.83 L257.90 190.85 L258.20 190.87 L258.50 190.89 L258.80 190.92 L259.10 190.94" fill="none" stroke="#e0464e" stroke-width="1.3" stroke-linejoin="round" stroke-linecap="round" />
<path d="M79.76 189.57 L80.06 189.55 L80.36 189.53 L80.66 189.50 L80.96 189.48 L81.25 189.46 L81.55 189.44 L81.85 189.42 L82.15 189.40 L82.45 189.37 L82.75 189.35 L83.05 189.33 L83.35 189.30 L83.65 189.28 L83.94 189.26 L84.24 189.24 L84.54 189.21 L84.84 189.19 L85.14 189.16 L85.44 189.14 L85.74 189.12 L86.04 189.09 L86.33 189.07 L86.63 189.04 L86.93 189.02 L87.23 188.99 L87.53 188.97 L87.83 188.94 L88.13 188.92 L88.43 188.89 L88.72 188.87 L89.02 188.84 L89.32 188.81 L89.62 188.79 L89.92 188.76 L90.22 188.73 L90.52 188.71 L90.81 188.68 L91.11 188.65 L91.41 188.62 L91.71 188.60 L92.01 188.57 L92.31 188.54 L92.61 188.51 L92.90 188.48 L93.20 188.45 L93.50 188.42 L93.80 188.39 L94.10 188.37 L94.40 188.34 L94.70 188.31 L95.00 188.27 L95.29 188.24 L95.59 188.21 L95.89 188.18 L96.19 188.15 L96.49 188.12 L96.79 188.09 L97.08 188.06 L97.38 188.02 L97.68 187.99 L97.98 187.96 L98.28 187.92 L98.58 187.89 L98.88 187.86 L99.17 187.82 L99.47 187.79 L99.77 187.75 L100.07 187.72 L100.37 187.68 L100.67 187.65 L100.96 187.61 L101.26 187.58 L101.56 187.54 L101.86 187.50 L102.16 187.47 L102.46 187.43 L102.75 187.39 L103.05 187.35 L103.35 187.31 L103.65 187.28 L103.95 187.24 L104.25 187.20 L104.54 187.16 L104.84 187.12 L105.14 187.08 L105.44 187.03 L105.74 186.99 L106.04 186.95 L106.33 186.91 L106.63 186.87 L106.93 186.82 L107.23 186.78 L107.53 186.74 L107.83 186.69 L108.12 186.65 L108.42 186.60 L108.72 186.56 L109.02 186.51 L109.32 186.47 L109.61 186.42 L109.91 186.37 L110.21 186.32 L110.51 186.28 L110.81 186.23 L111.10 186.18 L111.40 186.13 L111.70 186.08 L112.00 186.03 L112.30 185.98 L112.59 185.92 L112.89 185.87 L113.19 185.82 L113.49 185.77 L113.79 185.71 L114.08 185.66 L114.38 185.60 L114.68 185.55 L114.98 185.49 L115.28 185.43 L115.57 185.38 L115.87 185.32 L116.17 185.26 L116.47 185.20 L116.76 185.14 L117.06 185.08 L117.36 185.02 L117.66 184.96 L117.96 184.89 L118.25 184.83 L118.55 184.77 L118.85 184.70 L119.15 184.63 L119.44 184.57 L119.74 184.50 L120.04 184.43 L120.34 184.36 L120.63 184.29 L120.93 184.22 L121.23 184.15 L121.53 184.08 L121.82 184.01 L122.12 183.93 L122.42 183.86 L122.72 183.78 L123.01 183.70 L123.31 183.63 L123.61 183.55 L123.90 183.47 L124.20 183.39 L124.50 183.30 L124.80 183.22 L125.09 183.14 L125.39 183.05 L125.69 182.97 L125.98 182.88 L126.28 182.79 L126.58 182.70 L126.88 182.61 L127.17 182.52 L127.47 182.42 L127.77 182.33 L128.06 182.23 L128.36 182.13 L128.66 182.03 L128.95 181.93 L129.25 181.83 L129.55 181.73 L129.84 181.62 L130.14 181.52 L130.44 181.41 L130.73 181.30 L131.03 181.19 L131.32 181.08 L131.62 180.96 L131.92 180.85 L132.21 180.73 L132.51 180.61 L132.81 180.49 L133.10 180.36 L133.40 180.24 L133.69 180.11 L133.99 179.98 L134.29 179.85 L134.58 179.71 L134.88 179.58 L135.17 179.44 L135.47 179.30 L135.76 179.15 L136.06 179.01 L136.36 178.86 L136.65 178.71 L136.95 178.56 L137.24 178.40 L137.54 178.24 L137.83 178.08 L138.13 177.91 L138.42 177.75 L138.72 177.58 L139.01 177.40 L139.31 177.23 L139.60 177.04 L139.90 176.86 L140.19 176.67 L140.48 176.48 L140.78 176.29 L141.07 176.09 L141.37 175.89 L141.66 175.68 L141.95 175.47 L142.25 175.25 L142.54 175.03 L142.83 174.81 L143.13 174.58 L143.42 174.35 L143.71 174.11 L144.01 173.86 L144.30 173.62 L144.59 173.36 L144.88 173.10 L145.18 172.83 L145.47 172.56 L145.76 172.28 L146.05 172.00 L146.34 171.71 L146.64 171.41 L146.93 171.10 L147.22 170.79 L147.51 170.47 L147.80 170.14 L148.09 169.80 L148.38 169.45 L148.67 169.10 L148.96 168.74 L149.24 168.36 L149.52 167.99 L149.80 167.62 L150.06 167.25 L150.32 166.88 L150.57 166.51 L150.82 166.14 L151.05 165.78 L151.29 165.41 L151.51 165.04 L151.73 164.67 L151.95 164.31 L152.16 163.94 L152.37 163.58 L152.57 163.21 L152.76 162.85 L152.96 162.48 L153.14 162.12 L153.33 161.76 L153.50 161.40 L153.68 161.03 L153.85 160.67 L154.02 160.31 L154.18 159.95 L154.34 159.59 L154.50 159.23 L154.65 158.88 L154.80 158.52 L154.95 158.16 L155.10 157.80 L155.24 157.45 L155.38 157.09 L155.51 156.74 L155.65 156.39 L155.78 156.03 L155.91 155.68 L156.03 155.33 L156.16 154.98 L156.28 154.63 L156.40 154.28 L156.51 153.93 L156.63 153.58 L156.74 153.23 L156.85 152.88 L156.96 152.54 L157.07 152.19 L157.17 151.84 L157.28 151.50 L157.38 151.16 L157.48 150.81 L157.58 150.47 L157.67 150.13 L157.77 149.79 L157.86 149.45 L157.95 149.11 L158.04 148.77 L158.13 148.43 L158.22 148.09 L158.30 147.76 L158.39 147.42 L158.47 147.09 L158.55 146.75 L158.63 146.42 L158.71 146.09 L158.79 145.76 L158.87 145.42 L158.94 145.09 L159.02 144.76 L159.09 144.44 L159.16 144.11 L159.23 143.78 L159.31 143.46 L159.37 143.13 L159.44 142.81 L159.51 142.48 L159.58 142.16 L159.64 141.84 L159.71 141.52 L159.77 141.20 L159.83 140.88 L159.89 140.56 L159.95 140.24 L160.01 139.93 L160.07 139.61 L160.13 139.30 L160.19 138.98 L160.25 138.67 L160.30 138.36 L160.36 138.05 L160.41 137.74 L160.47 137.43 L160.52 137.12 L160.57 136.81 L160.62 136.50 L160.68 136.20 L160.73 135.89 L160.78 135.59 L160.83 135.29 L160.87 134.99 L160.92 134.69 L160.97 134.39 L161.02 134.09 L161.06 133.79 L161.11 133.49 L161.15 133.20 L161.20 132.90 L161.24 132.61 L161.29 132.32 L161.33 132.03 L161.37 131.74 L161.42 131.45 L161.46 131.16 L161.50 130.87 L161.54 130.58 L161.58 130.30 L161.62 130.01 L161.66 129.73 L161.70 129.45 L161.74 129.17 L161.77 128.89 L161.81 128.61 L161.85 128.33 L161.89 128.05 L161.92 127.78 L161.96 127.50 L161.99 127.23 L162.03 126.96 L162.07 126.69 L162.10 126.41 L162.13 126.15 L162.17 125.88 L162.20 125.61 L162.24 125.34 L162.27 125.08 L162.30 124.82 L162.33 124.55 L162.37 124.29 L162.40 124.03 L162.43 123.77 L162.46 123.52 L162.49 123.26 L162.52 123.00 L162.55 122.75 L162.58 122.50 L162.61 122.24 L162.64 121.99 L162.67 121.74 L162.70 121.50 L162.73 121.25 L162.76 121.00 L162.79 120.76 L162.81 120.51 L162.84 120.27 L162.87 120.03 L162.90 119.79 L162.92 119.55 L162.95 119.31 L162.98 119.08 L163.01 118.84 L163.03 118.61 L163.06 118.38 L163.08 118.14 L163.11 117.91 L163.14 117.68 L163.16 117.46 L163.19 117.23 L163.21 117.01 L163.24 116.78 L163.26 116.56 L163.29 116.34 L163.31 116.12 L163.33 115.90 L163.36 115.68 L163.38 115.46 L163.41 115.25 L163.43 115.04 L163.45 114.82 L163.48 114.61 L163.50 114.40 L163.52 114.19 L163.55 113.99 L163.57 113.78 L163.59 113.58 L163.62 113.37 L163.64 113.17 L163.66 112.97 L163.68 112.77 L163.71 112.57 L163.73 112.38 L163.75 112.18 L163.77 111.99 L163.79 111.80 L163.81 111.60 L163.84 111.41 L163.86 111.23 L163.88 111.04 L163.90 110.85 L163.92 110.67 L163.94 110.49 L163.96 110.30 L163.99 110.12 L164.01 109.94 L164.03 109.77 L164.05 109.59 L164.07 109.42 L164.09 109.24 L164.11 109.07 L164.13 108.90 L164.15 108.73 L164.17 108.56 L164.19 108.40 L164.21 108.23 L164.23 108.07 L164.25 107.90 L164.27 107.74 L164.29 107.58 L164.31 107.43 L164.33 107.27 L164.35 107.11 L164.37 106.96 L164.39 106.81 L164.41 106.66 L164.43 106.51 L164.45 106.36 L164.47 106.21 L164.49 106.07 L164.51 105.92 L164.53 105.78 L164.55 105.64 L164.57 105.50 L164.59 105.36 L164.61 105.23 L164.63 105.09 L164.65 104.96 L164.67 104.83 L164.69 104.69 L164.71 104.57 L164.73 104.44 L164.75 104.31 L164.77 104.19 L164.79 104.06 L164.81 103.94 L164.83 103.82 L164.85 103.70 L164.87 103.58 L164.89 103.47 L164.91 103.35 L164.93 103.24 L164.94 103.13 L164.96 103.02 L164.98 102.91 L165.00 102.80 L165.02 102.70 L165.04 102.59 L165.06 102.49 L165.08 102.39 L165.10 102.29 L165.12 102.19 L165.14 102.09 L165.16 102.00 L165.18 101.90 L165.20 101.81 L165.22 101.72 L165.24 101.63 L165.26 101.54 L165.28 101.46 L165.30 101.37 L165.32 101.29 L165.34 101.21 L165.36 101.13 L165.38 101.05 L165.40 100.97 L165.42 100.90 L165.44 100.82 L165.46 100.75 L165.48 100.68 L165.51 100.61 L165.53 100.54 L165.55 100.48 L165.57 100.41 L165.59 100.35 L165.61 100.29 L165.63 100.23 L165.65 100.17 L165.67 100.11 L165.69 100.05 L165.71 100.00 L165.73 99.95 L165.75 99.90 L165.78 99.85 L165.80 99.80 L165.82 99.75 L165.84 99.71 L165.86 99.66 L165.88 99.62 L165.90 99.58 L165.93 99.54 L165.95 99.51 L165.97 99.47 L165.99 99.44 L166.01 99.40 L166.03 99.37 L166.06 99.34 L166.08 99.31 L166.10 99.29 L166.12 99.26 L166.15 99.24 L166.17 99.22 L166.19 99.20 L166.21 99.18 L166.24 99.16 L166.26 99.15 L166.28 99.13 L166.30 99.12 L166.33 99.11 L166.35 99.10 L166.37 99.09 L166.40 99.08 L166.42 99.08 L166.44 99.08 L166.47 99.08 L166.49 99.08 L166.52 99.08 L166.55 99.08 L166.57 99.08 L166.60 99.09 L166.63 99.10 L166.65 99.11 L166.68 99.12 L166.71 99.13 L166.74 99.14 L166.76 99.16 L166.79 99.18 L166.82 99.19 L166.85 99.21 L166.88 99.24 L166.91 99.26 L166.93 99.28 L166.96 99.31 L166.99 99.34 L167.02 99.37 L167.05 99.40 L167.08 99.43 L167.11 99.46 L167.13 99.50 L167.16 99.54 L167.19 99.57 L167.22 99.61 L167.25 99.66 L167.28 99.70 L167.31 99.74 L167.34 99.79 L167.37 99.84 L167.40 99.89 L167.43 99.94 L167.46 99.99 L167.49 100.04 L167.52 100.10 L167.55 100.16 L167.58 100.22 L167.61 100.28 L167.65 100.34 L167.68 100.40 L167.71 100.47 L167.74 100.53 L167.77 100.60 L167.80 100.67 L167.83 100.74 L167.87 100.81 L167.90 100.89 L167.93 100.96 L167.96 101.04 L167.99 101.12 L168.03 101.20 L168.06 101.28 L168.09 101.36 L168.13 101.44 L168.16 101.53 L168.19 101.62 L168.22 101.71 L168.26 101.80 L168.29 101.89 L168.32 101.98 L168.36 102.08 L168.39 102.17 L168.43 102.27 L168.46 102.37 L168.49 102.47 L168.53 102.57 L168.56 102.68 L168.60 102.78 L168.63 102.89 L168.67 103.00 L168.70 103.11 L168.74 103.22 L168.77 103.33 L168.81 103.45 L168.85 103.56 L168.88 103.68 L168.92 103.80 L168.95 103.92 L168.99 104.04 L169.03 104.16 L169.06 104.29 L169.10 104.42 L169.14 104.54 L169.17 104.67 L169.21 104.80 L169.25 104.93 L169.29 105.07 L169.32 105.20 L169.36 105.34 L169.40 105.48 L169.44 105.62 L169.48 105.76 L169.51 105.90 L169.55 106.04 L169.59 106.19 L169.63 106.33 L169.67 106.48 L169.71 106.63 L169.75 106.78 L169.79 106.93 L169.83 107.09 L169.87 107.24 L169.91 107.40 L169.95 107.56 L169.99 107.72 L170.03 107.88 L170.07 108.04 L170.11 108.20 L170.15 108.37 L170.19 108.53 L170.24 108.70 L170.28 108.87 L170.32 109.04 L170.36 109.21 L170.40 109.39 L170.45 109.56 L170.49 109.74 L170.53 109.91 L170.58 110.09 L170.62 110.27 L170.66 110.45 L170.71 110.64 L170.75 110.82 L170.79 111.01 L170.84 111.19 L170.88 111.38 L170.93 111.57 L170.97 111.76 L171.02 111.95 L171.06 112.15 L171.11 112.34 L171.15 112.54 L171.20 112.74 L171.25 112.94 L171.29 113.14 L171.34 113.34 L171.39 113.54 L171.43 113.75 L171.48 113.95 L171.53 114.16 L171.57 114.37 L171.62 114.58 L171.67 114.79 L171.72 115.00 L171.77 115.21 L171.82 115.43 L171.87 115.64 L171.92 115.86 L171.97 116.08 L172.02 116.30 L172.07 116.52 L172.12 116.74 L172.17 116.97 L172.22 117.19 L172.27 117.42 L172.32 117.65 L172.37 117.87 L172.42 118.10 L172.48 118.34 L172.53 118.57 L172.58 118.80 L172.63 119.04 L172.69 119.27 L172.74 119.51 L172.80 119.75 L172.85 119.99 L172.90 120.23 L172.96 120.47 L173.02 120.71 L173.07 120.96 L173.13 121.21 L173.18 121.45 L173.24 121.70 L173.30 121.95 L173.35 122.20 L173.41 122.45 L173.47 122.71 L173.53 122.96 L173.58 123.21 L173.64 123.47 L173.70 123.73 L173.76 123.99 L173.82 124.25 L173.88 124.51 L173.94 124.77 L174.00 125.03 L174.07 125.30 L174.13 125.56 L174.19 125.83 L174.25 126.10 L174.32 126.37 L174.38 126.64 L174.44 126.91 L174.51 127.18 L174.57 127.46 L174.64 127.73 L174.70 128.01 L174.77 128.28 L174.83 128.56 L174.90 128.84 L174.97 129.12 L175.04 129.40 L175.11 129.68 L175.17 129.96 L175.24 130.25 L175.31 130.53 L175.38 130.82 L175.45 131.11 L175.53 131.40 L175.60 131.69 L175.67 131.98 L175.74 132.27 L175.82 132.56 L175.89 132.85 L175.97 133.15 L176.04 133.44 L176.12 133.74 L176.19 134.04 L176.27 134.34 L176.35 134.63 L176.43 134.94 L176.51 135.24 L176.59 135.54 L176.67 135.84 L176.75 136.15 L176.83 136.45 L176.91 136.76 L177.00 137.07 L177.08 137.37 L177.17 137.68 L177.25 137.99 L177.34 138.30 L177.42 138.62 L177.51 138.93 L177.60 139.24 L177.69 139.56 L177.78 139.87 L177.87 140.19 L177.97 140.51 L178.06 140.82 L178.15 141.14 L178.25 141.46 L178.34 141.78 L178.44 142.10 L178.54 142.43 L178.64 142.75 L178.74 143.07 L178.84 143.40 L178.94 143.73 L179.05 144.05 L179.15 144.38 L179.26 144.71 L179.36 145.04 L179.47 145.37 L179.58 145.70 L179.69 146.03 L179.80 146.36 L179.92 146.70 L180.03 147.03 L180.15 147.36 L180.27 147.70 L180.39 148.04 L180.51 148.37 L180.63 148.71 L180.75 149.05 L180.88 149.39 L181.00 149.73 L181.13 150.07 L181.26 150.41 L181.40 150.75 L181.53 151.10 L181.67 151.44 L181.80 151.78 L181.94 152.13 L182.09 152.48 L182.23 152.82 L182.38 153.17 L182.53 153.52 L182.68 153.87 L182.83 154.21 L182.98 154.56 L183.14 154.92 L183.30 155.27 L183.47 155.62 L183.63 155.97 L183.80 156.32 L183.97 156.68 L184.14 157.03 L184.32 157.39 L184.50 157.74 L184.68 158.10 L184.87 158.46 L185.06 158.81 L185.25 159.17 L185.45 159.53 L185.65 159.89 L185.86 160.25 L186.07 160.61 L186.28 160.97 L186.49 161.33 L186.72 161.69 L186.94 162.06 L187.17 162.42 L187.41 162.78 L187.65 163.15 L187.89 163.51 L188.14 163.88 L188.40 164.24 L188.66 164.61 L188.93 164.98 L189.20 165.34 L189.48 165.71 L189.77 166.08 L190.06 166.45 L190.37 166.82 L190.68 167.19 L190.99 167.55 L191.30 167.91 L191.61 168.25 L191.92 168.59 L192.23 168.92 L192.54 169.24 L192.85 169.56 L193.15 169.87 L193.46 170.17 L193.77 170.46 L194.08 170.75 L194.39 171.03 L194.70 171.31 L195.00 171.58 L195.31 171.84 L195.62 172.10 L195.93 172.36 L196.23 172.60 L196.54 172.85 L196.85 173.09 L197.16 173.32 L197.46 173.55 L197.77 173.77 L198.08 173.99 L198.38 174.21 L198.69 174.42 L198.99 174.63 L199.30 174.83 L199.61 175.03 L199.91 175.23 L200.22 175.42 L200.52 175.61 L200.83 175.80 L201.13 175.98 L201.44 176.16 L201.74 176.33 L202.05 176.51 L202.35 176.68 L202.66 176.84 L202.96 177.01 L203.27 177.17 L203.57 177.33 L203.88 177.48 L204.18 177.64 L204.49 177.79 L204.79 177.94 L205.10 178.08 L205.40 178.23 L205.71 178.37 L206.01 178.51 L206.31 178.65 L206.62 178.78 L206.92 178.92 L207.23 179.05 L207.53 179.18 L207.83 179.30 L208.14 179.43 L208.44 179.55 L208.75 179.67 L209.05 179.79 L209.35 179.91 L209.66 180.03 L209.96 180.14 L210.26 180.26 L210.57 180.37 L210.87 180.48 L211.17 180.59 L211.48 180.69 L211.78 180.80 L212.09 180.90 L212.39 181.00 L212.69 181.11 L212.99 181.21 L213.30 181.30 L213.60 181.40 L213.90 181.50 L214.21 181.59 L214.51 181.69 L214.81 181.78 L215.12 181.87 L215.42 181.96 L215.72 182.05 L216.03 182.14 L216.33 182.22 L216.63 182.31 L216.93 182.39 L217.24 182.48 L217.54 182.56 L217.84 182.64 L218.14 182.72 L218.45 182.80 L218.75 182.88 L219.05 182.96 L219.36 183.03 L219.66 183.11 L219.96 183.18 L220.26 183.26 L220.57 183.33 L220.87 183.40 L221.17 183.47 L221.47 183.54 L221.78 183.61 L222.08 183.68 L222.38 183.75 L222.68 183.82 L222.99 183.89 L223.29 183.95 L223.59 184.02 L223.89 184.08 L224.19 184.15 L224.50 184.21 L224.80 184.27 L225.10 184.33 L225.40 184.40 L225.71 184.46 L226.01 184.52 L226.31 184.58 L226.61 184.64 L226.91 184.69 L227.22 184.75 L227.52 184.81 L227.82 184.86 L228.12 184.92 L228.42 184.98 L228.73 185.03 L229.03 185.08 L229.33 185.14 L229.63 185.19 L229.93 185.24 L230.24 185.30 L230.54 185.35 L230.84 185.40 L231.14 185.45 L231.44 185.50 L231.75 185.55 L232.05 185.60 L232.35 185.65 L232.65 185.70 L232.95 185.74 L233.26 185.79 L233.56 185.84 L233.86 185.88 L234.16 185.93 L234.46 185.98 L234.76 186.02 L235.07 186.07 L235.37 186.11 L235.67 186.16 L235.97 186.20 L236.27 186.24 L236.58 186.28 L236.88 186.33 L237.18 186.37 L237.48 186.41 L237.78 186.45 L238.08 186.49 L238.39 186.53 L238.69 186.57 L238.99 186.61 L239.29 186.65 L239.59 186.69 L239.89 186.73 L240.20 186.77 L240.50 186.81 L240.80 186.85 L241.10 186.89 L241.40 186.92 L241.70 186.96 L242.00 187.00 L242.31 187.03 L242.61 187.07 L242.91 187.11 L243.21 187.14 L243.51 187.18 L243.81 187.21 L244.12 187.25 L244.42 187.28 L244.72 187.31 L245.02 187.35 L245.32 187.38 L245.62 187.42 L245.92 187.45 L246.23 187.48 L246.53 187.51 L246.83 187.55 L247.13 187.58 L247.43 187.61 L247.73 187.64 L248.03 187.67 L248.34 187.71 L248.64 187.74 L248.94 187.77 L249.24 187.80 L249.54 187.83 L249.84 187.86 L250.14 187.89 L250.45 187.92 L250.75 187.95 L251.05 187.98 L251.35 188.00 L251.65 188.03 L251.95 188.06 L252.25 188.09 L252.55 188.12 L252.86 188.15 L253.16 188.17 L253.46 188.20 L253.76 188.23 L254.06 188.26 L254.36 188.28 L254.66 188.31 L254.96 188.34 L255.27 188.36 L255.57 188.39 L255.87 188.41 L256.17 188.44 L256.47 188.47 L256.77 188.49 L257.07 188.52 L257.37 188.54 L257.68 188.57 L257.98 188.59 L258.28 188.62 L258.58 188.64 L258.88 188.66 L259.18 188.69" fill="none" stroke="#3a7fd0" stroke-width="1.3" stroke-linejoin="round" stroke-linecap="round" />
<path d="M79.75 185.78 L80.05 185.75 L80.35 185.72 L80.65 185.70 L80.95 185.67 L81.24 185.64 L81.54 185.61 L81.84 185.58 L82.14 185.55 L82.44 185.52 L82.74 185.49 L83.04 185.46 L83.33 185.43 L83.63 185.40 L83.93 185.37 L84.23 185.34 L84.53 185.31 L84.83 185.28 L85.13 185.25 L85.43 185.22 L85.72 185.19 L86.02 185.15 L86.32 185.12 L86.62 185.09 L86.92 185.06 L87.22 185.02 L87.52 184.99 L87.81 184.96 L88.11 184.92 L88.41 184.89 L88.71 184.86 L89.01 184.82 L89.31 184.79 L89.61 184.75 L89.90 184.72 L90.20 184.68 L90.50 184.65 L90.80 184.61 L91.10 184.57 L91.40 184.54 L91.69 184.50 L91.99 184.46 L92.29 184.43 L92.59 184.39 L92.89 184.35 L93.19 184.31 L93.49 184.27 L93.78 184.24 L94.08 184.20 L94.38 184.16 L94.68 184.12 L94.98 184.08 L95.28 184.04 L95.57 184.00 L95.87 183.96 L96.17 183.91 L96.47 183.87 L96.77 183.83 L97.07 183.79 L97.36 183.74 L97.66 183.70 L97.96 183.66 L98.26 183.61 L98.56 183.57 L98.86 183.53 L99.15 183.48 L99.45 183.43 L99.75 183.39 L100.05 183.34 L100.35 183.30 L100.64 183.25 L100.94 183.20 L101.24 183.15 L101.54 183.11 L101.84 183.06 L102.14 183.01 L102.43 182.96 L102.73 182.91 L103.03 182.86 L103.33 182.81 L103.63 182.75 L103.92 182.70 L104.22 182.65 L104.52 182.60 L104.82 182.54 L105.12 182.49 L105.41 182.44 L105.71 182.38 L106.01 182.33 L106.31 182.27 L106.61 182.21 L106.90 182.16 L107.20 182.10 L107.50 182.04 L107.80 181.98 L108.09 181.92 L108.39 181.86 L108.69 181.80 L108.99 181.74 L109.29 181.68 L109.58 181.62 L109.88 181.55 L110.18 181.49 L110.48 181.43 L110.77 181.36 L111.07 181.29 L111.37 181.23 L111.67 181.16 L111.97 181.09 L112.26 181.03 L112.56 180.96 L112.86 180.89 L113.16 180.82 L113.45 180.74 L113.75 180.67 L114.05 180.60 L114.35 180.53 L114.64 180.45 L114.94 180.38 L115.24 180.30 L115.54 180.22 L115.83 180.14 L116.13 180.07 L116.43 179.99 L116.72 179.91 L117.02 179.82 L117.32 179.74 L117.62 179.66 L117.91 179.57 L118.21 179.49 L118.51 179.40 L118.80 179.32 L119.10 179.23 L119.40 179.14 L119.70 179.05 L119.99 178.95 L120.29 178.86 L120.59 178.77 L120.88 178.67 L121.18 178.58 L121.48 178.48 L121.77 178.38 L122.07 178.28 L122.37 178.18 L122.66 178.08 L122.96 177.97 L123.26 177.87 L123.55 177.76 L123.85 177.65 L124.15 177.54 L124.44 177.43 L124.74 177.32 L125.04 177.21 L125.33 177.09 L125.63 176.97 L125.92 176.85 L126.22 176.73 L126.52 176.61 L126.81 176.49 L127.11 176.36 L127.41 176.24 L127.70 176.11 L128.00 175.98 L128.29 175.84 L128.59 175.71 L128.88 175.57 L129.18 175.43 L129.48 175.29 L129.77 175.15 L130.07 175.00 L130.36 174.85 L130.66 174.71 L130.95 174.55 L131.25 174.40 L131.54 174.24 L131.84 174.08 L132.13 173.92 L132.43 173.76 L132.72 173.59 L133.02 173.42 L133.31 173.25 L133.61 173.07 L133.90 172.89 L134.20 172.71 L134.49 172.52 L134.79 172.34 L135.08 172.15 L135.37 171.95 L135.67 171.75 L135.96 171.55 L136.26 171.35 L136.55 171.14 L136.84 170.93 L137.14 170.71 L137.43 170.49 L137.72 170.26 L138.02 170.04 L138.31 169.80 L138.60 169.56 L138.89 169.32 L139.19 169.07 L139.48 168.82 L139.77 168.57 L140.06 168.30 L140.36 168.04 L140.65 167.76 L140.94 167.49 L141.23 167.20 L141.52 166.91 L141.81 166.61 L142.10 166.31 L142.39 166.00 L142.68 165.69 L142.97 165.36 L143.26 165.03 L143.55 164.70 L143.84 164.35 L144.13 164.00 L144.42 163.63 L144.71 163.26 L145.00 162.89 L145.28 162.50 L145.57 162.10 L145.86 161.69 L146.15 161.28 L146.43 160.85 L146.72 160.41 L147.00 159.96 L147.29 159.50 L147.57 159.03 L147.85 158.56 L148.12 158.09 L148.38 157.62 L148.63 157.15 L148.88 156.68 L149.12 156.21 L149.35 155.75 L149.58 155.28 L149.80 154.81 L150.02 154.35 L150.23 153.88 L150.44 153.42 L150.64 152.96 L150.83 152.49 L151.02 152.03 L151.21 151.57 L151.39 151.11 L151.57 150.65 L151.75 150.19 L151.92 149.73 L152.08 149.28 L152.25 148.82 L152.40 148.36 L152.56 147.91 L152.71 147.45 L152.86 147.00 L153.01 146.54 L153.15 146.09 L153.29 145.64 L153.42 145.19 L153.56 144.74 L153.69 144.29 L153.82 143.84 L153.94 143.39 L154.07 142.94 L154.19 142.50 L154.30 142.05 L154.42 141.61 L154.53 141.16 L154.65 140.72 L154.75 140.28 L154.86 139.84 L154.97 139.40 L155.07 138.96 L155.17 138.52 L155.27 138.08 L155.37 137.64 L155.46 137.21 L155.56 136.77 L155.65 136.34 L155.74 135.91 L155.83 135.47 L155.92 135.04 L156.00 134.61 L156.09 134.18 L156.17 133.75 L156.25 133.33 L156.33 132.90 L156.41 132.47 L156.48 132.05 L156.56 131.62 L156.63 131.20 L156.71 130.78 L156.78 130.36 L156.85 129.94 L156.92 129.52 L156.99 129.10 L157.06 128.69 L157.12 128.27 L157.19 127.86 L157.25 127.44 L157.31 127.03 L157.37 126.62 L157.44 126.21 L157.50 125.80 L157.55 125.39 L157.61 124.99 L157.67 124.58 L157.73 124.18 L157.78 123.77 L157.84 123.37 L157.89 122.97 L157.94 122.57 L157.99 122.17 L158.04 121.77 L158.09 121.37 L158.14 120.98 L158.19 120.58 L158.24 120.19 L158.29 119.80 L158.34 119.41 L158.38 119.02 L158.43 118.63 L158.47 118.24 L158.51 117.86 L158.56 117.47 L158.60 117.09 L158.64 116.71 L158.68 116.33 L158.73 115.95 L158.77 115.57 L158.80 115.19 L158.84 114.81 L158.88 114.44 L158.92 114.06 L158.96 113.69 L158.99 113.32 L159.03 112.95 L159.07 112.58 L159.10 112.22 L159.14 111.85 L159.17 111.49 L159.21 111.12 L159.24 110.76 L159.27 110.40 L159.31 110.04 L159.34 109.68 L159.37 109.33 L159.40 108.97 L159.43 108.62 L159.46 108.26 L159.49 107.91 L159.52 107.56 L159.55 107.22 L159.58 106.87 L159.61 106.52 L159.64 106.18 L159.67 105.84 L159.69 105.49 L159.72 105.16 L159.75 104.82 L159.77 104.48 L159.80 104.14 L159.83 103.81 L159.85 103.48 L159.88 103.15 L159.90 102.82 L159.93 102.49 L159.95 102.16 L159.98 101.84 L160.00 101.51 L160.02 101.19 L160.05 100.87 L160.07 100.55 L160.09 100.23 L160.12 99.91 L160.14 99.60 L160.16 99.28 L160.18 98.97 L160.21 98.66 L160.23 98.35 L160.25 98.05 L160.27 97.74 L160.29 97.44 L160.31 97.13 L160.33 96.83 L160.35 96.53 L160.37 96.23 L160.39 95.94 L160.41 95.64 L160.43 95.35 L160.45 95.06 L160.47 94.77 L160.49 94.48 L160.51 94.19 L160.53 93.91 L160.55 93.62 L160.56 93.34 L160.58 93.06 L160.60 92.78 L160.62 92.50 L160.64 92.23 L160.66 91.95 L160.67 91.68 L160.69 91.41 L160.71 91.14 L160.73 90.87 L160.74 90.61 L160.76 90.34 L160.78 90.08 L160.79 89.82 L160.81 89.56 L160.83 89.30 L160.84 89.04 L160.86 88.79 L160.88 88.54 L160.89 88.29 L160.91 88.04 L160.93 87.79 L160.94 87.54 L160.96 87.30 L160.97 87.06 L160.99 86.82 L161.01 86.58 L161.02 86.34 L161.04 86.10 L161.05 85.87 L161.07 85.64 L161.08 85.41 L161.10 85.18 L161.12 84.95 L161.13 84.73 L161.15 84.50 L161.16 84.28 L161.18 84.06 L161.19 83.84 L161.21 83.63 L161.22 83.41 L161.24 83.20 L161.25 82.99 L161.27 82.78 L161.28 82.57 L161.30 82.37 L161.31 82.16 L161.33 81.96 L161.35 81.76 L161.36 81.56 L161.38 81.36 L161.39 81.17 L161.41 80.97 L161.42 80.78 L161.44 80.59 L161.45 80.41 L161.47 80.22 L161.48 80.04 L161.50 79.85 L161.51 79.67 L161.53 79.49 L161.54 79.32 L161.56 79.14 L161.57 78.97 L161.59 78.80 L161.60 78.63 L161.62 78.46 L161.64 78.29 L161.65 78.13 L161.67 77.97 L161.68 77.81 L161.70 77.65 L161.71 77.49 L161.73 77.34 L161.74 77.19 L161.76 77.04 L161.78 76.89 L161.79 76.74 L161.81 76.59 L161.82 76.45 L161.84 76.31 L161.86 76.17 L161.87 76.03 L161.89 75.90 L161.90 75.76 L161.92 75.63 L161.94 75.50 L161.95 75.37 L161.97 75.24 L161.99 75.12 L162.00 75.00 L162.02 74.88 L162.04 74.76 L162.05 74.64 L162.07 74.53 L162.09 74.41 L162.10 74.30 L162.12 74.19 L162.14 74.08 L162.16 73.98 L162.17 73.88 L162.19 73.77 L162.21 73.67 L162.23 73.58 L162.24 73.48 L162.26 73.39 L162.28 73.30 L162.30 73.21 L162.32 73.12 L162.34 73.03 L162.35 72.95 L162.37 72.86 L162.39 72.78 L162.41 72.71 L162.43 72.63 L162.45 72.55 L162.47 72.48 L162.48 72.41 L162.50 72.34 L162.52 72.28 L162.54 72.21 L162.56 72.15 L162.58 72.09 L162.60 72.03 L162.62 71.97 L162.64 71.92 L162.66 71.86 L162.68 71.81 L162.70 71.76 L162.72 71.72 L162.74 71.67 L162.76 71.63 L162.78 71.59 L162.81 71.55 L162.83 71.51 L162.85 71.47 L162.87 71.44 L162.89 71.41 L162.91 71.38 L162.93 71.35 L162.95 71.33 L162.98 71.30 L163.00 71.28 L163.02 71.26 L163.04 71.24 L163.07 71.23 L163.09 71.21 L163.11 71.20 L163.13 71.19 L163.16 71.18 L163.18 71.18 L163.20 71.17 L163.23 71.17 L163.25 71.17 L163.28 71.17 L163.31 71.18 L163.33 71.18 L163.36 71.19 L163.39 71.20 L163.42 71.21 L163.44 71.22 L163.47 71.24 L163.50 71.26 L163.53 71.28 L163.56 71.30 L163.58 71.32 L163.61 71.35 L163.64 71.37 L163.67 71.40 L163.70 71.43 L163.73 71.47 L163.76 71.50 L163.79 71.54 L163.82 71.58 L163.85 71.62 L163.88 71.66 L163.91 71.71 L163.94 71.75 L163.97 71.80 L164.00 71.85 L164.03 71.91 L164.06 71.96 L164.09 72.02 L164.13 72.08 L164.16 72.14 L164.19 72.20 L164.22 72.26 L164.25 72.33 L164.28 72.40 L164.32 72.47 L164.35 72.54 L164.38 72.62 L164.42 72.69 L164.45 72.77 L164.48 72.85 L164.52 72.93 L164.55 73.02 L164.58 73.10 L164.62 73.19 L164.65 73.28 L164.68 73.37 L164.72 73.46 L164.75 73.56 L164.79 73.66 L164.82 73.76 L164.86 73.86 L164.89 73.96 L164.93 74.07 L164.96 74.17 L165.00 74.28 L165.04 74.39 L165.07 74.51 L165.11 74.62 L165.15 74.74 L165.18 74.86 L165.22 74.98 L165.26 75.10 L165.29 75.22 L165.33 75.35 L165.37 75.48 L165.41 75.61 L165.44 75.74 L165.48 75.87 L165.52 76.01 L165.56 76.15 L165.60 76.28 L165.64 76.43 L165.68 76.57 L165.72 76.71 L165.75 76.86 L165.79 77.01 L165.83 77.16 L165.87 77.31 L165.91 77.47 L165.95 77.62 L166.00 77.78 L166.04 77.94 L166.08 78.10 L166.12 78.27 L166.16 78.43 L166.20 78.60 L166.24 78.77 L166.29 78.94 L166.33 79.11 L166.37 79.29 L166.41 79.46 L166.46 79.64 L166.50 79.82 L166.54 80.00 L166.58 80.19 L166.63 80.37 L166.67 80.56 L166.72 80.75 L166.76 80.94 L166.80 81.13 L166.85 81.33 L166.89 81.53 L166.94 81.72 L166.98 81.92 L167.03 82.13 L167.08 82.33 L167.12 82.54 L167.17 82.74 L167.21 82.95 L167.26 83.16 L167.31 83.37 L167.35 83.59 L167.40 83.81 L167.45 84.02 L167.50 84.24 L167.54 84.46 L167.59 84.69 L167.64 84.91 L167.69 85.14 L167.74 85.37 L167.79 85.60 L167.84 85.83 L167.89 86.06 L167.94 86.30 L167.99 86.54 L168.04 86.77 L168.09 87.01 L168.14 87.26 L168.19 87.50 L168.24 87.75 L168.29 87.99 L168.34 88.24 L168.39 88.49 L168.44 88.75 L168.50 89.00 L168.55 89.26 L168.60 89.51 L168.66 89.77 L168.71 90.03 L168.76 90.30 L168.82 90.56 L168.87 90.83 L168.92 91.09 L168.98 91.36 L169.03 91.63 L169.09 91.90 L169.14 92.18 L169.20 92.45 L169.26 92.73 L169.31 93.01 L169.37 93.29 L169.42 93.57 L169.48 93.86 L169.54 94.14 L169.60 94.43 L169.65 94.72 L169.71 95.01 L169.77 95.30 L169.83 95.59 L169.89 95.89 L169.95 96.18 L170.01 96.48 L170.07 96.78 L170.13 97.08 L170.19 97.38 L170.25 97.69 L170.31 97.99 L170.37 98.30 L170.43 98.61 L170.50 98.92 L170.56 99.23 L170.62 99.54 L170.68 99.86 L170.75 100.18 L170.81 100.49 L170.87 100.81 L170.94 101.13 L171.00 101.46 L171.07 101.78 L171.13 102.10 L171.20 102.43 L171.27 102.76 L171.33 103.09 L171.40 103.42 L171.47 103.75 L171.54 104.09 L171.60 104.42 L171.67 104.76 L171.74 105.10 L171.81 105.44 L171.88 105.78 L171.95 106.12 L172.02 106.46 L172.09 106.81 L172.16 107.16 L172.24 107.50 L172.31 107.85 L172.38 108.20 L172.45 108.56 L172.53 108.91 L172.60 109.26 L172.68 109.62 L172.75 109.98 L172.83 110.34 L172.90 110.70 L172.98 111.06 L173.06 111.42 L173.13 111.79 L173.21 112.15 L173.29 112.52 L173.37 112.89 L173.45 113.26 L173.53 113.63 L173.61 114.00 L173.69 114.37 L173.78 114.75 L173.86 115.12 L173.94 115.50 L174.03 115.88 L174.11 116.26 L174.19 116.64 L174.28 117.02 L174.37 117.41 L174.45 117.79 L174.54 118.18 L174.63 118.56 L174.72 118.95 L174.81 119.34 L174.90 119.73 L174.99 120.12 L175.08 120.52 L175.18 120.91 L175.27 121.31 L175.37 121.70 L175.46 122.10 L175.56 122.50 L175.65 122.90 L175.75 123.30 L175.85 123.70 L175.95 124.11 L176.05 124.51 L176.15 124.92 L176.26 125.32 L176.36 125.73 L176.46 126.14 L176.57 126.55 L176.68 126.96 L176.78 127.37 L176.89 127.79 L177.00 128.20 L177.11 128.62 L177.23 129.03 L177.34 129.45 L177.45 129.87 L177.57 130.29 L177.69 130.71 L177.80 131.13 L177.92 131.55 L178.04 131.98 L178.17 132.40 L178.29 132.83 L178.42 133.25 L178.54 133.68 L178.67 134.11 L178.80 134.54 L178.93 134.97 L179.07 135.40 L179.20 135.83 L179.34 136.26 L179.47 136.70 L179.61 137.13 L179.76 137.57 L179.90 138.01 L180.05 138.44 L180.19 138.88 L180.34 139.32 L180.50 139.76 L180.65 140.20 L180.81 140.64 L180.96 141.09 L181.13 141.53 L181.29 141.98 L181.45 142.42 L181.62 142.87 L181.79 143.31 L181.97 143.76 L182.14 144.21 L182.32 144.66 L182.51 145.11 L182.69 145.56 L182.88 146.01 L183.07 146.47 L183.27 146.92 L183.47 147.37 L183.67 147.83 L183.87 148.28 L184.08 148.74 L184.30 149.20 L184.51 149.65 L184.74 150.11 L184.96 150.57 L185.19 151.03 L185.43 151.49 L185.67 151.95 L185.91 152.41 L186.16 152.88 L186.42 153.34 L186.68 153.80 L186.95 154.27 L187.22 154.73 L187.50 155.20 L187.78 155.67 L188.07 156.13 L188.37 156.60 L188.68 157.07 L188.99 157.54 L189.31 158.00 L189.62 158.45 L189.93 158.89 L190.25 159.32 L190.56 159.73 L190.87 160.14 L191.19 160.54 L191.50 160.93 L191.81 161.32 L192.12 161.69 L192.44 162.06 L192.75 162.41 L193.06 162.76 L193.37 163.11 L193.68 163.44 L193.99 163.77 L194.30 164.09 L194.61 164.40 L194.92 164.71 L195.23 165.01 L195.54 165.31 L195.85 165.60 L196.15 165.89 L196.46 166.16 L196.77 166.44 L197.08 166.71 L197.39 166.97 L197.70 167.23 L198.00 167.48 L198.31 167.73 L198.62 167.98 L198.93 168.22 L199.23 168.45 L199.54 168.68 L199.85 168.91 L200.15 169.13 L200.46 169.35 L200.77 169.57 L201.07 169.78 L201.38 169.99 L201.69 170.19 L201.99 170.39 L202.30 170.59 L202.60 170.79 L202.91 170.98 L203.22 171.17 L203.52 171.35 L203.83 171.54 L204.13 171.72 L204.44 171.89 L204.74 172.07 L205.05 172.24 L205.35 172.41 L205.66 172.57 L205.96 172.74 L206.27 172.90 L206.57 173.06 L206.88 173.21 L207.18 173.37 L207.49 173.52 L207.79 173.67 L208.10 173.82 L208.40 173.96 L208.71 174.11 L209.01 174.25 L209.31 174.39 L209.62 174.52 L209.92 174.66 L210.23 174.79 L210.53 174.93 L210.83 175.06 L211.14 175.18 L211.44 175.31 L211.75 175.44 L212.05 175.56 L212.35 175.68 L212.66 175.80 L212.96 175.92 L213.27 176.04 L213.57 176.15 L213.87 176.27 L214.18 176.38 L214.48 176.49 L214.78 176.60 L215.09 176.71 L215.39 176.82 L215.69 176.92 L216.00 177.03 L216.30 177.13 L216.60 177.23 L216.91 177.33 L217.21 177.43 L217.51 177.53 L217.82 177.63 L218.12 177.72 L218.42 177.82 L218.72 177.91 L219.03 178.01 L219.33 178.10 L219.63 178.19 L219.94 178.28 L220.24 178.37 L220.54 178.45 L220.85 178.54 L221.15 178.63 L221.45 178.71 L221.75 178.79 L222.06 178.88 L222.36 178.96 L222.66 179.04 L222.96 179.12 L223.27 179.20 L223.57 179.28 L223.87 179.36 L224.17 179.43 L224.48 179.51 L224.78 179.59 L225.08 179.66 L225.38 179.73 L225.69 179.81 L225.99 179.88 L226.29 179.95 L226.59 180.02 L226.90 180.09 L227.20 180.16 L227.50 180.23 L227.80 180.30 L228.11 180.37 L228.41 180.43 L228.71 180.50 L229.01 180.56 L229.32 180.63 L229.62 180.69 L229.92 180.76 L230.22 180.82 L230.52 180.88 L230.83 180.94 L231.13 181.01 L231.43 181.07 L231.73 181.13 L232.03 181.19 L232.34 181.24 L232.64 181.30 L232.94 181.36 L233.24 181.42 L233.55 181.47 L233.85 181.53 L234.15 181.59 L234.45 181.64 L234.75 181.70 L235.06 181.75 L235.36 181.81 L235.66 181.86 L235.96 181.91 L236.26 181.96 L236.56 182.02 L236.87 182.07 L237.17 182.12 L237.47 182.17 L237.77 182.22 L238.07 182.27 L238.38 182.32 L238.68 182.37 L238.98 182.42 L239.28 182.47 L239.58 182.51 L239.88 182.56 L240.19 182.61 L240.49 182.65 L240.79 182.70 L241.09 182.75 L241.39 182.79 L241.70 182.84 L242.00 182.88 L242.30 182.93 L242.60 182.97 L242.90 183.01 L243.20 183.06 L243.51 183.10 L243.81 183.14 L244.11 183.19 L244.41 183.23 L244.71 183.27 L245.01 183.31 L245.32 183.35 L245.62 183.39 L245.92 183.43 L246.22 183.47 L246.52 183.51 L246.82 183.55 L247.12 183.59 L247.43 183.63 L247.73 183.67 L248.03 183.71 L248.33 183.75 L248.63 183.78 L248.93 183.82 L249.24 183.86 L249.54 183.90 L249.84 183.93 L250.14 183.97 L250.44 184.00 L250.74 184.04 L251.04 184.08 L251.35 184.11 L251.65 184.15 L251.95 184.18 L252.25 184.22 L252.55 184.25 L252.85 184.28 L253.15 184.32 L253.46 184.35 L253.76 184.39 L254.06 184.42 L254.36 184.45 L254.66 184.48 L254.96 184.52 L255.26 184.55 L255.56 184.58 L255.87 184.61 L256.17 184.65 L256.47 184.68 L256.77 184.71 L257.07 184.74 L257.37 184.77 L257.67 184.80 L257.98 184.83 L258.28 184.86 L258.58 184.89 L258.88 184.92 L259.18 184.95" fill="none" stroke="#3aa574" stroke-width="1.3" stroke-linejoin="round" stroke-linecap="round" />
<path d="M79.51 182.02 L79.81 181.99 L80.11 181.95 L80.40 181.92 L80.70 181.89 L81.00 181.85 L81.30 181.82 L81.60 181.78 L81.90 181.75 L82.20 181.71 L82.49 181.67 L82.79 181.64 L83.09 181.60 L83.39 181.57 L83.69 181.53 L83.99 181.49 L84.29 181.46 L84.58 181.42 L84.88 181.38 L85.18 181.34 L85.48 181.30 L85.78 181.27 L86.08 181.23 L86.37 181.19 L86.67 181.15 L86.97 181.11 L87.27 181.07 L87.57 181.03 L87.87 180.99 L88.16 180.95 L88.46 180.91 L88.76 180.86 L89.06 180.82 L89.36 180.78 L89.66 180.74 L89.96 180.70 L90.25 180.65 L90.55 180.61 L90.85 180.56 L91.15 180.52 L91.45 180.48 L91.74 180.43 L92.04 180.39 L92.34 180.34 L92.64 180.30 L92.94 180.25 L93.24 180.20 L93.53 180.16 L93.83 180.11 L94.13 180.06 L94.43 180.01 L94.73 179.96 L95.03 179.92 L95.32 179.87 L95.62 179.82 L95.92 179.77 L96.22 179.72 L96.52 179.67 L96.81 179.61 L97.11 179.56 L97.41 179.51 L97.71 179.46 L98.01 179.40 L98.30 179.35 L98.60 179.30 L98.90 179.24 L99.20 179.19 L99.50 179.13 L99.79 179.08 L100.09 179.02 L100.39 178.96 L100.69 178.91 L100.99 178.85 L101.28 178.79 L101.58 178.73 L101.88 178.67 L102.18 178.61 L102.48 178.55 L102.77 178.49 L103.07 178.43 L103.37 178.37 L103.67 178.30 L103.96 178.24 L104.26 178.18 L104.56 178.11 L104.86 178.05 L105.16 177.98 L105.45 177.92 L105.75 177.85 L106.05 177.78 L106.35 177.71 L106.64 177.64 L106.94 177.57 L107.24 177.50 L107.54 177.43 L107.83 177.36 L108.13 177.29 L108.43 177.22 L108.73 177.14 L109.02 177.07 L109.32 176.99 L109.62 176.92 L109.92 176.84 L110.21 176.76 L110.51 176.69 L110.81 176.61 L111.11 176.53 L111.40 176.45 L111.70 176.36 L112.00 176.28 L112.29 176.20 L112.59 176.11 L112.89 176.03 L113.19 175.94 L113.48 175.86 L113.78 175.77 L114.08 175.68 L114.37 175.59 L114.67 175.50 L114.97 175.41 L115.27 175.32 L115.56 175.22 L115.86 175.13 L116.16 175.03 L116.45 174.93 L116.75 174.84 L117.05 174.74 L117.34 174.64 L117.64 174.53 L117.94 174.43 L118.23 174.33 L118.53 174.22 L118.83 174.12 L119.12 174.01 L119.42 173.90 L119.72 173.79 L120.01 173.68 L120.31 173.56 L120.60 173.45 L120.90 173.33 L121.20 173.22 L121.49 173.10 L121.79 172.98 L122.09 172.86 L122.38 172.73 L122.68 172.61 L122.97 172.48 L123.27 172.35 L123.57 172.22 L123.86 172.09 L124.16 171.96 L124.45 171.82 L124.75 171.69 L125.04 171.55 L125.34 171.41 L125.64 171.26 L125.93 171.12 L126.23 170.97 L126.52 170.82 L126.82 170.67 L127.11 170.52 L127.41 170.37 L127.70 170.21 L128.00 170.05 L128.29 169.89 L128.59 169.72 L128.88 169.56 L129.18 169.39 L129.47 169.22 L129.77 169.04 L130.06 168.86 L130.35 168.69 L130.65 168.50 L130.94 168.32 L131.24 168.13 L131.53 167.94 L131.82 167.74 L132.12 167.55 L132.41 167.35 L132.71 167.14 L133.00 166.94 L133.29 166.73 L133.59 166.51 L133.88 166.29 L134.17 166.07 L134.47 165.85 L134.76 165.62 L135.05 165.39 L135.34 165.15 L135.64 164.91 L135.93 164.66 L136.22 164.41 L136.51 164.16 L136.80 163.90 L137.10 163.64 L137.39 163.37 L137.68 163.09 L137.97 162.82 L138.26 162.53 L138.55 162.24 L138.84 161.95 L139.13 161.65 L139.42 161.34 L139.71 161.03 L140.00 160.71 L140.29 160.38 L140.58 160.05 L140.87 159.71 L141.16 159.37 L141.45 159.01 L141.73 158.65 L142.02 158.28 L142.31 157.91 L142.60 157.52 L142.88 157.13 L143.17 156.73 L143.46 156.31 L143.74 155.89 L144.03 155.46 L144.31 155.02 L144.60 154.57 L144.88 154.11 L145.17 153.64 L145.45 153.15 L145.73 152.66 L146.01 152.15 L146.30 151.63 L146.58 151.10 L146.86 150.55 L147.14 149.99 L147.42 149.41 L147.69 148.84 L147.95 148.27 L148.20 147.70 L148.45 147.13 L148.69 146.56 L148.93 145.99 L149.16 145.42 L149.38 144.85 L149.60 144.28 L149.81 143.72 L150.01 143.15 L150.21 142.59 L150.41 142.02 L150.60 141.46 L150.78 140.90 L150.96 140.33 L151.14 139.77 L151.31 139.21 L151.48 138.65 L151.64 138.10 L151.80 137.54 L151.96 136.98 L152.11 136.43 L152.26 135.87 L152.41 135.32 L152.55 134.76 L152.69 134.21 L152.82 133.66 L152.95 133.11 L153.08 132.56 L153.21 132.01 L153.34 131.46 L153.46 130.92 L153.58 130.37 L153.69 129.83 L153.81 129.28 L153.92 128.74 L154.03 128.20 L154.13 127.66 L154.24 127.12 L154.34 126.58 L154.44 126.05 L154.54 125.51 L154.63 124.97 L154.73 124.44 L154.82 123.91 L154.91 123.37 L155.00 122.84 L155.08 122.31 L155.17 121.78 L155.25 121.26 L155.33 120.73 L155.41 120.21 L155.49 119.68 L155.56 119.16 L155.64 118.64 L155.71 118.12 L155.79 117.60 L155.86 117.08 L155.92 116.56 L155.99 116.05 L156.06 115.53 L156.12 115.02 L156.19 114.51 L156.25 113.99 L156.31 113.48 L156.37 112.98 L156.43 112.47 L156.49 111.96 L156.55 111.46 L156.60 110.95 L156.66 110.45 L156.71 109.95 L156.76 109.45 L156.82 108.95 L156.87 108.46 L156.92 107.96 L156.97 107.47 L157.01 106.98 L157.06 106.48 L157.11 105.99 L157.15 105.51 L157.20 105.02 L157.24 104.53 L157.28 104.05 L157.32 103.56 L157.37 103.08 L157.41 102.60 L157.45 102.12 L157.48 101.65 L157.52 101.17 L157.56 100.70 L157.60 100.22 L157.63 99.75 L157.67 99.28 L157.70 98.81 L157.74 98.35 L157.77 97.88 L157.80 97.42 L157.84 96.95 L157.87 96.49 L157.90 96.03 L157.93 95.57 L157.96 95.12 L157.99 94.66 L158.02 94.21 L158.05 93.76 L158.07 93.31 L158.10 92.86 L158.13 92.41 L158.15 91.97 L158.18 91.52 L158.20 91.08 L158.23 90.64 L158.25 90.20 L158.28 89.76 L158.30 89.33 L158.32 88.89 L158.35 88.46 L158.37 88.03 L158.39 87.60 L158.41 87.17 L158.43 86.75 L158.46 86.32 L158.48 85.90 L158.50 85.48 L158.52 85.06 L158.54 84.64 L158.55 84.23 L158.57 83.81 L158.59 83.40 L158.61 82.99 L158.63 82.58 L158.64 82.18 L158.66 81.77 L158.68 81.37 L158.69 80.97 L158.71 80.57 L158.73 80.17 L158.74 79.77 L158.76 79.38 L158.77 78.98 L158.79 78.59 L158.80 78.20 L158.82 77.82 L158.83 77.43 L158.85 77.05 L158.86 76.67 L158.87 76.29 L158.89 75.91 L158.90 75.53 L158.91 75.16 L158.93 74.79 L158.94 74.41 L158.95 74.05 L158.96 73.68 L158.98 73.31 L158.99 72.95 L159.00 72.59 L159.01 72.23 L159.02 71.87 L159.03 71.52 L159.04 71.16 L159.06 70.81 L159.07 70.46 L159.08 70.12 L159.09 69.77 L159.10 69.43 L159.11 69.08 L159.12 68.74 L159.13 68.41 L159.14 68.07 L159.15 67.74 L159.16 67.40 L159.17 67.07 L159.18 66.75 L159.19 66.42 L159.20 66.10 L159.21 65.78 L159.22 65.46 L159.23 65.14 L159.24 64.82 L159.24 64.51 L159.25 64.20 L159.26 63.89 L159.27 63.58 L159.28 63.27 L159.29 62.97 L159.30 62.67 L159.31 62.37 L159.32 62.07 L159.32 61.78 L159.33 61.48 L159.34 61.19 L159.35 60.90 L159.36 60.62 L159.37 60.33 L159.38 60.05 L159.38 59.77 L159.39 59.49 L159.40 59.21 L159.41 58.94 L159.42 58.67 L159.43 58.40 L159.44 58.13 L159.45 57.86 L159.45 57.60 L159.46 57.34 L159.47 57.08 L159.48 56.82 L159.49 56.57 L159.50 56.31 L159.51 56.06 L159.51 55.82 L159.52 55.57 L159.53 55.32 L159.54 55.08 L159.55 54.84 L159.56 54.61 L159.57 54.37 L159.58 54.14 L159.59 53.91 L159.60 53.68 L159.61 53.45 L159.61 53.23 L159.62 53.01 L159.63 52.79 L159.64 52.57 L159.65 52.35 L159.66 52.14 L159.67 51.93 L159.68 51.72 L159.69 51.51 L159.70 51.31 L159.71 51.11 L159.72 50.91 L159.73 50.71 L159.74 50.52 L159.75 50.32 L159.76 50.13 L159.77 49.94 L159.79 49.76 L159.80 49.57 L159.81 49.39 L159.82 49.21 L159.83 49.04 L159.84 48.86 L159.85 48.69 L159.86 48.52 L159.88 48.35 L159.89 48.19 L159.90 48.02 L159.91 47.86 L159.92 47.70 L159.93 47.55 L159.95 47.39 L159.96 47.24 L159.97 47.09 L159.99 46.94 L160.00 46.80 L160.01 46.66 L160.02 46.52 L160.04 46.38 L160.05 46.24 L160.06 46.11 L160.08 45.98 L160.09 45.85 L160.11 45.73 L160.12 45.60 L160.13 45.48 L160.15 45.36 L160.16 45.25 L160.18 45.13 L160.19 45.02 L160.21 44.91 L160.22 44.80 L160.24 44.70 L160.25 44.60 L160.27 44.49 L160.29 44.40 L160.30 44.30 L160.32 44.21 L160.33 44.12 L160.35 44.03 L160.37 43.94 L160.38 43.86 L160.40 43.78 L160.42 43.70 L160.44 43.62 L160.45 43.55 L160.47 43.48 L160.49 43.41 L160.51 43.34 L160.52 43.28 L160.54 43.21 L160.56 43.15 L160.58 43.10 L160.60 43.04 L160.62 42.99 L160.64 42.94 L160.66 42.89 L160.68 42.84 L160.70 42.80 L160.72 42.76 L160.74 42.72 L160.76 42.69 L160.78 42.65 L160.80 42.62 L160.82 42.59 L160.84 42.57 L160.86 42.54 L160.89 42.52 L160.91 42.50 L160.93 42.48 L160.95 42.47 L160.97 42.46 L161.00 42.45 L161.02 42.44 L161.04 42.43 L161.07 42.43 L161.09 42.43 L161.12 42.43 L161.15 42.44 L161.17 42.44 L161.20 42.45 L161.23 42.47 L161.26 42.48 L161.29 42.50 L161.31 42.52 L161.34 42.54 L161.37 42.56 L161.40 42.59 L161.43 42.62 L161.46 42.65 L161.49 42.68 L161.52 42.72 L161.55 42.75 L161.58 42.79 L161.61 42.84 L161.64 42.88 L161.67 42.93 L161.70 42.98 L161.74 43.03 L161.77 43.09 L161.80 43.14 L161.83 43.20 L161.86 43.26 L161.90 43.33 L161.93 43.40 L161.96 43.46 L162.00 43.54 L162.03 43.61 L162.06 43.69 L162.10 43.76 L162.13 43.85 L162.17 43.93 L162.20 44.01 L162.24 44.10 L162.27 44.19 L162.31 44.29 L162.34 44.38 L162.38 44.48 L162.41 44.58 L162.45 44.68 L162.49 44.78 L162.52 44.89 L162.56 45.00 L162.60 45.11 L162.64 45.23 L162.67 45.34 L162.71 45.46 L162.75 45.58 L162.79 45.70 L162.83 45.83 L162.87 45.96 L162.91 46.09 L162.95 46.22 L162.99 46.36 L163.03 46.49 L163.07 46.63 L163.11 46.78 L163.15 46.92 L163.19 47.07 L163.23 47.22 L163.27 47.37 L163.31 47.52 L163.35 47.68 L163.40 47.83 L163.44 47.99 L163.48 48.16 L163.52 48.32 L163.57 48.49 L163.61 48.66 L163.65 48.83 L163.70 49.01 L163.74 49.18 L163.78 49.36 L163.83 49.54 L163.87 49.73 L163.92 49.91 L163.96 50.10 L164.01 50.29 L164.06 50.48 L164.10 50.68 L164.15 50.87 L164.19 51.07 L164.24 51.27 L164.29 51.48 L164.34 51.68 L164.38 51.89 L164.43 52.10 L164.48 52.32 L164.53 52.53 L164.58 52.75 L164.62 52.97 L164.67 53.19 L164.72 53.41 L164.77 53.64 L164.82 53.87 L164.87 54.10 L164.92 54.33 L164.97 54.57 L165.02 54.80 L165.07 55.04 L165.13 55.28 L165.18 55.53 L165.23 55.77 L165.28 56.02 L165.33 56.27 L165.39 56.52 L165.44 56.78 L165.49 57.03 L165.55 57.29 L165.60 57.55 L165.65 57.82 L165.71 58.08 L165.76 58.35 L165.82 58.62 L165.87 58.89 L165.93 59.17 L165.98 59.44 L166.04 59.72 L166.09 60.00 L166.15 60.28 L166.21 60.57 L166.26 60.85 L166.32 61.14 L166.38 61.43 L166.43 61.73 L166.49 62.02 L166.55 62.32 L166.61 62.62 L166.67 62.92 L166.73 63.22 L166.79 63.53 L166.85 63.83 L166.90 64.14 L166.97 64.45 L167.03 64.77 L167.09 65.08 L167.15 65.40 L167.21 65.72 L167.27 66.04 L167.33 66.36 L167.39 66.69 L167.46 67.02 L167.52 67.35 L167.58 67.68 L167.64 68.01 L167.71 68.35 L167.77 68.69 L167.84 69.03 L167.90 69.37 L167.97 69.71 L168.03 70.06 L168.10 70.40 L168.16 70.75 L168.23 71.10 L168.29 71.46 L168.36 71.81 L168.43 72.17 L168.49 72.53 L168.56 72.89 L168.63 73.25 L168.70 73.62 L168.77 73.98 L168.83 74.35 L168.90 74.72 L168.97 75.09 L169.04 75.47 L169.11 75.84 L169.18 76.22 L169.25 76.60 L169.33 76.98 L169.40 77.37 L169.47 77.75 L169.54 78.14 L169.61 78.53 L169.69 78.92 L169.76 79.31 L169.83 79.70 L169.91 80.10 L169.98 80.50 L170.06 80.90 L170.13 81.30 L170.21 81.70 L170.28 82.11 L170.36 82.51 L170.44 82.92 L170.51 83.33 L170.59 83.74 L170.67 84.16 L170.75 84.57 L170.83 84.99 L170.91 85.41 L170.99 85.83 L171.07 86.25 L171.15 86.67 L171.23 87.10 L171.31 87.53 L171.39 87.96 L171.47 88.39 L171.56 88.82 L171.64 89.25 L171.72 89.69 L171.81 90.12 L171.89 90.56 L171.98 91.00 L172.06 91.45 L172.15 91.89 L172.24 92.33 L172.32 92.78 L172.41 93.23 L172.50 93.68 L172.59 94.13 L172.68 94.58 L172.77 95.04 L172.86 95.50 L172.95 95.95 L173.04 96.41 L173.13 96.87 L173.23 97.34 L173.32 97.80 L173.42 98.26 L173.51 98.73 L173.61 99.20 L173.70 99.67 L173.80 100.14 L173.90 100.61 L174.00 101.09 L174.09 101.56 L174.19 102.04 L174.30 102.52 L174.40 103.00 L174.50 103.48 L174.60 103.96 L174.71 104.45 L174.81 104.93 L174.92 105.42 L175.02 105.91 L175.13 106.40 L175.24 106.89 L175.35 107.38 L175.46 107.88 L175.57 108.37 L175.68 108.87 L175.79 109.37 L175.90 109.87 L176.02 110.37 L176.14 110.87 L176.25 111.37 L176.37 111.88 L176.49 112.38 L176.61 112.89 L176.73 113.40 L176.85 113.91 L176.98 114.42 L177.10 114.93 L177.23 115.44 L177.36 115.96 L177.48 116.47 L177.61 116.99 L177.75 117.51 L177.88 118.03 L178.01 118.55 L178.15 119.07 L178.29 119.59 L178.43 120.12 L178.57 120.64 L178.71 121.17 L178.85 121.69 L179.00 122.22 L179.15 122.75 L179.29 123.28 L179.45 123.81 L179.60 124.35 L179.75 124.88 L179.91 125.42 L180.07 125.95 L180.23 126.49 L180.40 127.03 L180.56 127.57 L180.73 128.11 L180.90 128.65 L181.07 129.19 L181.25 129.73 L181.43 130.28 L181.61 130.82 L181.79 131.37 L181.98 131.92 L182.16 132.47 L182.36 133.01 L182.55 133.57 L182.75 134.12 L182.95 134.67 L183.16 135.22 L183.37 135.77 L183.58 136.33 L183.79 136.89 L184.01 137.44 L184.24 138.00 L184.47 138.56 L184.70 139.12 L184.94 139.68 L185.18 140.24 L185.42 140.80 L185.67 141.36 L185.93 141.92 L186.19 142.49 L186.46 143.05 L186.73 143.62 L187.01 144.18 L187.29 144.75 L187.58 145.32 L187.88 145.89 L188.19 146.46 L188.50 147.03 L188.82 147.60 L189.14 148.16 L189.46 148.71 L189.78 149.24 L190.09 149.76 L190.41 150.27 L190.73 150.77 L191.05 151.26 L191.36 151.73 L191.68 152.20 L192.00 152.66 L192.31 153.10 L192.63 153.54 L192.94 153.96 L193.26 154.38 L193.57 154.79 L193.88 155.19 L194.20 155.58 L194.51 155.96 L194.82 156.34 L195.13 156.70 L195.45 157.06 L195.76 157.42 L196.07 157.76 L196.38 158.10 L196.69 158.44 L197.00 158.76 L197.31 159.08 L197.62 159.40 L197.93 159.71 L198.24 160.01 L198.55 160.31 L198.86 160.60 L199.17 160.89 L199.48 161.17 L199.79 161.45 L200.10 161.72 L200.41 161.99 L200.72 162.25 L201.02 162.51 L201.33 162.76 L201.64 163.01 L201.95 163.25 L202.26 163.50 L202.56 163.73 L202.87 163.97 L203.18 164.20 L203.49 164.42 L203.79 164.64 L204.10 164.86 L204.41 165.08 L204.71 165.29 L205.02 165.50 L205.33 165.71 L205.63 165.91 L205.94 166.11 L206.24 166.30 L206.55 166.50 L206.86 166.69 L207.16 166.88 L207.47 167.06 L207.77 167.24 L208.08 167.42 L208.39 167.60 L208.69 167.77 L209.00 167.95 L209.30 168.12 L209.61 168.28 L209.91 168.45 L210.22 168.61 L210.52 168.77 L210.83 168.93 L211.13 169.09 L211.44 169.24 L211.74 169.39 L212.05 169.54 L212.35 169.69 L212.66 169.84 L212.96 169.98 L213.27 170.12 L213.57 170.27 L213.87 170.40 L214.18 170.54 L214.48 170.68 L214.79 170.81 L215.09 170.94 L215.40 171.07 L215.70 171.20 L216.00 171.33 L216.31 171.45 L216.61 171.58 L216.92 171.70 L217.22 171.82 L217.52 171.94 L217.83 172.06 L218.13 172.18 L218.43 172.29 L218.74 172.41 L219.04 172.52 L219.34 172.63 L219.65 172.74 L219.95 172.85 L220.26 172.96 L220.56 173.07 L220.86 173.17 L221.17 173.28 L221.47 173.38 L221.77 173.48 L222.08 173.58 L222.38 173.68 L222.68 173.78 L222.98 173.88 L223.29 173.98 L223.59 174.07 L223.89 174.17 L224.20 174.26 L224.50 174.35 L224.80 174.45 L225.11 174.54 L225.41 174.63 L225.71 174.72 L226.01 174.80 L226.32 174.89 L226.62 174.98 L226.92 175.06 L227.23 175.15 L227.53 175.23 L227.83 175.31 L228.13 175.40 L228.44 175.48 L228.74 175.56 L229.04 175.64 L229.35 175.72 L229.65 175.79 L229.95 175.87 L230.25 175.95 L230.56 176.02 L230.86 176.10 L231.16 176.17 L231.46 176.25 L231.77 176.32 L232.07 176.39 L232.37 176.47 L232.67 176.54 L232.97 176.61 L233.28 176.68 L233.58 176.75 L233.88 176.81 L234.18 176.88 L234.49 176.95 L234.79 177.02 L235.09 177.08 L235.39 177.15 L235.70 177.21 L236.00 177.28 L236.30 177.34 L236.60 177.41 L236.90 177.47 L237.21 177.53 L237.51 177.59 L237.81 177.65 L238.11 177.71 L238.42 177.77 L238.72 177.83 L239.02 177.89 L239.32 177.95 L239.62 178.01 L239.93 178.07 L240.23 178.13 L240.53 178.18 L240.83 178.24 L241.13 178.29 L241.44 178.35 L241.74 178.40 L242.04 178.46 L242.34 178.51 L242.64 178.57 L242.94 178.62 L243.25 178.67 L243.55 178.73 L243.85 178.78 L244.15 178.83 L244.45 178.88 L244.76 178.93 L245.06 178.98 L245.36 179.03 L245.66 179.08 L245.96 179.13 L246.26 179.18 L246.57 179.23 L246.87 179.28 L247.17 179.32 L247.47 179.37 L247.77 179.42 L248.08 179.46 L248.38 179.51 L248.68 179.56 L248.98 179.60 L249.28 179.65 L249.58 179.69 L249.89 179.74 L250.19 179.78 L250.49 179.83 L250.79 179.87 L251.09 179.91 L251.39 179.96 L251.70 180.00 L252.00 180.04 L252.30 180.08 L252.60 180.13 L252.90 180.17 L253.20 180.21 L253.50 180.25 L253.81 180.29 L254.11 180.33 L254.41 180.37 L254.71 180.41 L255.01 180.45 L255.31 180.49 L255.62 180.53 L255.92 180.57 L256.22 180.61 L256.52 180.64 L256.82 180.68 L257.12 180.72 L257.42 180.76 L257.73 180.80 L258.03 180.83 L258.33 180.87 L258.63 180.91 L258.93 180.94 L259.23 180.98" fill="none" stroke="#b68be6" stroke-width="1.3" stroke-linejoin="round" stroke-linecap="round" />
<rect x="61.8" y="28.7" width="216.9" height="174.5" fill="none" stroke="#505050" stroke-width="1.1"/>
<path d="M58.2 203.2H61.8M58.2 169.88H61.8M58.2 136.56H61.8M58.2 103.24H61.8M58.2 69.92H61.8M58.2 36.6H61.8M59.8 186.54H61.8M59.8 153.22H61.8M59.8 119.9H61.8M59.8 86.58H61.8M59.8 53.26H61.8" stroke="#505050" stroke-width="1" fill="none"/>
<text x="56" y="206.11" font-size="9.1" text-anchor="end" fill="#262626" stroke="#262626" stroke-width="0.2">0.000</text>
<text x="56" y="172.79" font-size="9.1" text-anchor="end" fill="#262626" stroke="#262626" stroke-width="0.2">0.004</text>
<text x="56" y="139.47" font-size="9.1" text-anchor="end" fill="#262626" stroke="#262626" stroke-width="0.2">0.008</text>
<text x="56" y="106.15" font-size="9.1" text-anchor="end" fill="#262626" stroke="#262626" stroke-width="0.2">0.012</text>
<text x="56" y="72.83" font-size="9.1" text-anchor="end" fill="#262626" stroke="#262626" stroke-width="0.2">0.016</text>
<text x="56" y="39.51" font-size="9.1" text-anchor="end" fill="#262626" stroke="#262626" stroke-width="0.2">0.020</text>
<path d="M62.2 203.2V206.4M122.2 203.2V206.4M182.2 203.2V206.4M242.2 203.2V206.4M92.2 203.2V205M152.2 203.2V205M212.2 203.2V205M272.2 203.2V205" stroke="#505050" stroke-width="1" fill="none"/>
<text x="62.2" y="217" font-size="9.1" text-anchor="middle" fill="#262626" stroke="#262626" stroke-width="0.2">214,800</text>
<text x="122.2" y="217" font-size="9.1" text-anchor="middle" fill="#262626" stroke="#262626" stroke-width="0.2">214,850</text>
<text x="182.2" y="217" font-size="9.1" text-anchor="middle" fill="#262626" stroke="#262626" stroke-width="0.2">214,900</text>
<text x="242.2" y="217" font-size="9.1" text-anchor="middle" fill="#262626" stroke="#262626" stroke-width="0.2">214,950</text>
<text x="170.4" y="231.9" font-size="9.8" text-anchor="middle" fill="#262626"  stroke="#262626" stroke-width="0.2">Frequency (Hz)</text>
<text transform="translate(30,118.3) rotate(-90)" font-size="10.2" text-anchor="middle" fill="#262626"  stroke="#262626" stroke-width="0.2">Amplitude (V)</text>
<path d="M211.8 44.6H232.7" stroke="#3a3a3a" stroke-width="1.3"/>
<text x="235" y="47.9" font-size="9.4" text-anchor="start" fill="#262626"  stroke="#262626" stroke-width="0.2">2 mV</text>
<path d="M211.8 55.8H232.7" stroke="#e0464e" stroke-width="1.3"/>
<text x="235" y="59.1" font-size="9.4" text-anchor="start" fill="#262626"  stroke="#262626" stroke-width="0.2">4 mV</text>
<path d="M211.8 67.0H232.7" stroke="#3a7fd0" stroke-width="1.3"/>
<text x="235" y="70.3" font-size="9.4" text-anchor="start" fill="#262626"  stroke="#262626" stroke-width="0.2">6 mV</text>
<path d="M211.8 78.2H232.7" stroke="#3aa574" stroke-width="1.3"/>
<text x="235" y="81.5" font-size="9.4" text-anchor="start" fill="#262626"  stroke="#262626" stroke-width="0.2">8 mV</text>
<path d="M211.8 89.4H232.7" stroke="#b68be6" stroke-width="1.3"/>
<text x="235" y="92.7" font-size="9.4" text-anchor="start" fill="#262626"  stroke="#262626" stroke-width="0.2">10 mV</text>
<text x="298.6" y="15.6" style="font-family:Liberation Serif;font-weight:bold" font-size="14" fill="#111" stroke="#111" stroke-width="0.2">(b)</text>
<text transform="translate(292.4,117.3) rotate(-90)" font-size="9.8" text-anchor="middle" fill="#262626"  stroke="#262626" stroke-width="0.2">Frequency (Hz)</text>
<path d="M355.9 102.2H505" stroke="#47a9d3" stroke-width="1.1" stroke-dasharray="2.8 2"/>
<path d="M354.20 64.20 L354.35 65.96 L354.50 69.48 L354.65 71.24 L354.80 69.45 L354.95 65.87 L355.10 64.07 L355.25 65.88 L355.40 69.50 L355.55 71.31 L355.70 69.47 L355.85 65.79 L356.00 63.95 L356.15 65.81 L356.30 69.52 L356.45 71.38 L356.61 69.49 L356.76 65.71 L356.91 63.82 L357.06 65.73 L357.22 69.55 L357.37 71.46 L357.52 69.52 L357.68 65.63 L357.83 63.69 L357.98 65.65 L358.14 69.57 L358.29 71.53 L358.45 69.54 L358.60 65.56 L358.76 63.56 L358.91 65.57 L359.07 69.60 L359.22 71.61 L359.38 69.56 L359.53 65.48 L359.69 63.43 L359.85 65.50 L360.00 69.62 L360.16 71.68 L360.32 69.59 L360.48 65.40 L360.63 63.30 L360.79 65.42 L360.95 69.64 L361.11 71.76 L361.27 69.61 L361.43 65.32 L361.58 63.17 L361.74 65.34 L361.90 69.67 L362.06 71.84 L362.18 70.55 L362.30 67.44 L362.42 64.32 L362.54 63.03 L362.66 64.33 L362.79 67.47 L362.91 70.61 L363.03 71.91 L363.15 70.59 L363.27 67.41 L363.39 64.22 L363.51 62.90 L363.63 64.23 L363.76 67.45 L363.88 70.66 L364.00 71.99 L364.12 70.64 L364.25 67.38 L364.37 64.11 L364.49 62.76 L364.61 64.13 L364.74 67.42 L364.86 70.71 L364.98 72.07 L365.11 70.69 L365.23 67.35 L365.35 64.01 L365.48 62.62 L365.60 64.02 L365.73 67.39 L365.85 70.76 L365.98 72.15 L366.10 70.74 L366.23 67.32 L366.35 63.90 L366.48 62.48 L366.60 63.91 L366.73 67.36 L366.85 70.81 L366.98 72.23 L367.10 70.79 L367.23 67.29 L367.36 63.79 L367.48 62.34 L367.61 63.80 L367.74 67.33 L367.86 70.86 L367.99 72.32 L368.12 70.83 L368.25 67.26 L368.37 63.68 L368.50 62.20 L368.63 63.70 L368.76 67.30 L368.89 70.90 L369.01 72.40 L369.14 70.88 L369.27 67.23 L369.40 63.57 L369.53 62.06 L369.66 63.58 L369.79 67.27 L369.92 70.96 L370.05 72.48 L370.18 70.93 L370.31 67.20 L370.44 63.46 L370.57 61.91 L370.70 63.47 L370.83 67.24 L370.96 71.01 L371.09 72.57 L371.22 70.98 L371.36 67.17 L371.49 63.35 L371.62 61.77 L371.75 63.36 L371.88 67.21 L372.02 71.06 L372.15 72.65 L372.28 71.04 L372.42 67.13 L372.55 63.23 L372.68 61.62 L372.82 63.25 L372.95 67.18 L373.08 71.11 L373.22 72.74 L373.35 71.09 L373.49 67.10 L373.62 63.12 L373.76 61.47 L373.89 63.13 L374.03 67.15 L374.16 71.16 L374.30 72.83 L374.44 71.14 L374.57 67.07 L374.71 63.00 L374.84 61.32 L374.98 63.01 L375.12 67.12 L375.26 71.22 L375.39 72.91 L375.53 71.19 L375.67 67.04 L375.81 62.88 L375.94 61.16 L376.08 62.90 L376.22 67.08 L376.36 71.27 L376.50 73.00 L376.64 71.25 L376.78 67.01 L376.92 62.76 L377.06 61.01 L377.20 62.78 L377.34 67.05 L377.48 71.32 L377.62 73.09 L377.76 71.30 L377.90 66.97 L378.04 62.64 L378.19 60.85 L378.33 62.66 L378.47 67.02 L378.61 71.38 L378.76 73.19 L378.90 71.36 L379.04 66.94 L379.19 62.52 L379.33 60.69 L379.47 62.53 L379.62 66.98 L379.76 71.44 L379.91 73.28 L380.05 71.41 L380.20 66.90 L380.34 62.40 L380.49 60.53 L380.63 62.41 L380.78 66.95 L380.92 71.49 L381.07 73.37 L381.22 71.47 L381.37 66.87 L381.51 62.27 L381.66 60.36 L381.81 62.28 L381.96 66.92 L382.10 71.55 L382.25 73.47 L382.40 71.53 L382.55 66.83 L382.70 62.14 L382.85 60.20 L382.97 61.47 L383.09 64.82 L383.21 68.95 L383.33 72.29 L383.45 73.57 L383.57 72.27 L383.69 68.89 L383.81 64.71 L383.94 61.32 L384.06 60.03 L384.18 61.33 L384.30 64.74 L384.42 68.95 L384.54 72.36 L384.67 73.66 L384.79 72.35 L384.91 68.89 L385.04 64.63 L385.16 61.18 L385.28 59.86 L385.41 61.19 L385.53 64.66 L385.65 68.96 L385.78 72.44 L385.90 73.76 L386.03 72.42 L386.15 68.90 L386.28 64.55 L386.40 61.03 L386.53 59.68 L386.65 61.04 L386.78 64.58 L386.90 68.97 L387.03 72.51 L387.15 73.87 L387.28 72.49 L387.41 68.90 L387.53 64.47 L387.66 60.88 L387.79 59.51 L387.92 60.89 L388.04 64.50 L388.17 68.97 L388.30 72.59 L388.43 73.97 L388.56 72.57 L388.69 68.91 L388.81 64.39 L388.94 60.73 L389.07 59.33 L389.20 60.74 L389.33 64.42 L389.46 68.98 L389.59 72.67 L389.72 74.07 L389.85 72.65 L389.98 68.92 L390.12 64.30 L390.25 60.57 L390.38 59.15 L390.51 60.58 L390.64 64.34 L390.77 68.99 L390.91 72.74 L391.04 74.18 L391.17 72.73 L391.31 68.92 L391.44 64.22 L391.57 60.41 L391.71 58.96 L391.84 60.42 L391.98 64.26 L392.11 68.99 L392.24 72.82 L392.38 74.29 L392.51 72.81 L392.65 68.93 L392.79 64.13 L392.92 60.25 L393.06 58.77 L393.20 60.26 L393.33 64.17 L393.47 69.00 L393.61 72.91 L393.74 74.40 L393.88 72.89 L394.02 68.93 L394.16 64.04 L394.30 60.09 L394.44 58.58 L394.58 60.10 L394.71 64.09 L394.85 69.02 L394.99 73.00 L395.13 74.53 L395.28 72.98 L395.42 68.93 L395.56 63.93 L395.70 59.88 L395.84 58.34 L395.98 59.91 L396.12 64.03 L396.27 69.12 L396.41 73.24 L396.55 74.81 L396.70 73.21 L396.84 69.02 L396.98 63.84 L397.13 59.65 L397.27 58.05 L397.39 59.20 L397.51 62.32 L397.64 66.58 L397.76 70.84 L397.88 73.96 L398.00 75.10 L398.12 73.94 L398.24 70.77 L398.37 66.43 L398.49 62.10 L398.61 58.93 L398.74 57.77 L398.86 58.95 L398.98 62.17 L399.11 66.58 L399.23 70.99 L399.35 74.21 L399.48 75.40 L399.60 74.20 L399.73 70.92 L399.85 66.44 L399.98 61.96 L400.10 58.68 L400.23 57.47 L400.36 58.70 L400.48 62.03 L400.61 66.59 L400.74 71.14 L400.86 74.48 L400.99 75.70 L401.12 74.46 L401.25 71.07 L401.37 66.44 L401.50 61.81 L401.63 58.42 L401.76 57.18 L401.89 58.44 L402.02 61.88 L402.15 66.59 L402.28 71.30 L402.41 74.75 L402.54 76.01 L402.67 74.73 L402.80 71.22 L402.93 66.44 L403.06 61.65 L403.19 58.15 L403.33 56.87 L403.46 58.17 L403.59 61.73 L403.72 66.60 L403.86 71.46 L403.99 75.02 L404.12 76.32 L404.26 75.00 L404.39 71.38 L404.53 66.44 L404.66 61.50 L404.80 57.88 L404.93 56.55 L405.07 57.90 L405.20 61.58 L405.34 66.60 L405.48 71.63 L405.61 75.30 L405.75 76.65 L405.89 75.28 L406.03 71.55 L406.17 66.44 L406.30 61.34 L406.44 57.60 L406.58 56.23 L406.70 57.26 L406.82 60.14 L406.94 64.30 L407.06 68.92 L407.18 73.08 L407.30 75.96 L407.42 76.98 L407.54 75.94 L407.67 73.01 L407.79 68.79 L407.91 64.10 L408.03 59.87 L408.15 56.94 L408.28 55.90 L408.40 56.96 L408.52 59.93 L408.65 64.23 L408.77 69.00 L408.89 73.29 L409.02 76.27 L409.14 77.33 L409.27 76.25 L409.39 73.23 L409.52 68.86 L409.64 64.02 L409.77 59.65 L409.90 56.63 L410.02 55.56 L410.15 56.65 L410.28 59.72 L410.40 64.16 L410.53 69.08 L410.66 73.52 L410.79 76.59 L410.91 77.68 L411.04 76.57 L411.17 73.45 L411.30 68.94 L411.43 63.94 L411.56 59.43 L411.69 56.32 L411.82 55.20 L411.95 56.33 L412.09 59.50 L412.22 64.08 L412.35 69.17 L412.48 73.75 L412.61 76.92 L412.74 78.05 L412.88 76.90 L413.01 73.68 L413.15 69.03 L413.28 63.86 L413.42 59.21 L413.55 55.99 L413.68 54.84 L413.82 56.01 L413.96 59.28 L414.09 64.01 L414.23 69.26 L414.37 73.99 L414.50 77.26 L414.64 78.43 L414.76 77.52 L414.88 74.92 L415.00 71.03 L415.13 66.44 L415.25 61.86 L415.37 57.97 L415.49 55.37 L415.61 54.46 L415.74 55.39 L415.86 58.03 L415.98 61.98 L416.11 66.64 L416.23 71.30 L416.36 75.25 L416.48 77.89 L416.60 78.82 L416.73 77.88 L416.86 75.20 L416.98 71.18 L417.11 66.44 L417.24 61.71 L417.36 57.69 L417.49 55.01 L417.62 54.07 L417.75 55.02 L417.88 57.75 L418.00 61.83 L418.13 66.65 L418.26 71.46 L418.39 75.55 L418.52 78.27 L418.65 79.23 L418.78 78.26 L418.91 75.49 L419.05 71.34 L419.18 66.44 L419.31 61.55 L419.44 57.40 L419.57 54.63 L419.71 53.66 L419.83 54.44 L419.95 56.69 L420.07 60.14 L420.19 64.37 L420.31 68.87 L420.43 73.11 L420.55 76.56 L420.67 78.81 L420.79 79.59 L420.91 78.80 L421.03 76.54 L421.16 73.07 L421.28 68.82 L421.40 64.29 L421.52 60.04 L421.65 56.57 L421.77 54.31 L421.89 53.52 L422.02 54.32 L422.14 56.60 L422.27 60.10 L422.40 64.40 L422.52 68.97 L422.65 73.26 L422.77 76.76 L422.90 79.05 L423.03 79.84 L423.16 79.05 L423.28 76.75 L423.41 73.24 L423.54 68.93 L423.67 64.34 L423.80 60.03 L423.93 56.52 L424.06 54.23 L424.19 53.43 L424.32 54.23 L424.46 56.55 L424.59 60.10 L424.72 64.45 L424.85 69.09 L424.99 73.44 L425.12 76.99 L425.25 79.31 L425.39 80.11 L425.51 79.85 L425.64 79.09 L425.76 77.85 L425.89 76.19 L426.01 74.15 L426.14 71.84 L426.27 69.32 L426.39 66.71 L426.52 64.09 L426.64 61.58 L426.77 59.26 L426.90 57.23 L427.02 55.56 L427.15 54.32 L427.27 53.56 L427.40 53.30 L427.53 53.85 L427.65 55.46 L427.78 57.99 L427.91 61.25 L428.04 64.96 L428.16 68.84 L428.29 72.55 L428.42 75.81 L428.55 78.34 L428.67 79.95 L428.80 80.50 L428.92 79.65 L429.04 77.19 L429.17 73.42 L429.29 68.81 L429.41 63.89 L429.53 59.28 L429.66 55.51 L429.78 53.05 L429.90 52.20 L430.02 52.62 L430.15 53.85 L430.27 55.82 L430.39 58.42 L430.52 61.49 L430.64 64.86 L430.76 68.34 L430.88 71.71 L431.01 74.78 L431.13 77.38 L431.25 79.35 L431.38 80.58 L431.50 81.00 L431.63 80.38 L431.75 78.58 L431.88 75.74 L432.01 72.09 L432.14 67.92 L432.26 63.58 L432.39 59.41 L432.52 55.76 L432.65 52.92 L432.77 51.12 L432.90 50.50 L433.03 51.13 L433.15 52.97 L433.28 55.87 L433.41 59.59 L433.54 63.84 L433.66 68.26 L433.79 72.51 L433.92 76.23 L434.05 79.13 L434.17 80.97 L434.30 81.60 L434.42 81.12 L434.55 79.73 L434.67 77.49 L434.79 74.54 L434.92 71.05 L435.04 67.22 L435.16 63.28 L435.28 59.45 L435.41 55.96 L435.53 53.01 L435.65 50.77 L435.78 49.38 L435.90 48.90 L436.03 49.73 L436.16 52.13 L436.29 55.87 L436.42 60.58 L436.55 65.80 L436.68 71.02 L436.81 75.73 L436.94 79.47 L437.07 81.87 L437.20 82.70 L437.32 82.33 L437.44 81.22 L437.56 79.42 L437.68 77.03 L437.80 74.12 L437.92 70.85 L438.04 67.34 L438.16 63.76 L438.28 60.25 L438.40 56.98 L438.52 54.07 L438.64 51.68 L438.76 49.88 L438.88 48.77 L439.00 48.40 L439.12 48.79 L439.24 49.95 L439.36 51.83 L439.48 54.34 L439.60 57.38 L439.72 60.80 L439.84 64.47 L439.96 68.23 L440.08 71.90 L440.20 75.32 L440.32 78.36 L440.44 80.87 L440.56 82.75 L440.68 83.91 L440.80 84.30 L440.92 84.02 L441.04 83.18 L441.17 81.82 L441.29 79.97 L441.41 77.69 L441.53 75.05 L441.66 72.13 L441.78 69.01 L441.90 65.80 L442.02 62.59 L442.14 59.47 L442.27 56.55 L442.39 53.91 L442.51 51.63 L442.63 49.78 L442.76 48.42 L442.88 47.58 L443.00 47.30 L443.12 47.62 L443.24 48.57 L443.37 50.11 L443.49 52.21 L443.61 54.80 L443.73 57.80 L443.86 61.12 L443.98 64.65 L444.10 68.30 L444.22 71.95 L444.34 75.48 L444.47 78.80 L444.59 81.80 L444.71 84.39 L444.83 86.49 L444.96 88.03 L445.08 88.98 L445.20 89.30 L445.32 89.13 L445.45 88.63 L445.57 87.81 L445.69 86.68 L445.82 85.25 L445.94 83.54 L446.06 81.59 L446.18 79.41 L446.31 77.04 L446.43 74.52 L446.55 71.88 L446.68 69.16 L446.80 66.40 L446.92 63.64 L447.05 60.92 L447.17 58.28 L447.29 55.76 L447.42 53.39 L447.54 51.21 L447.66 49.26 L447.78 47.55 L447.91 46.12 L448.03 44.99 L448.15 44.17 L448.28 43.67 L448.40 43.50 L448.52 43.59 L448.64 43.87 L448.77 44.33 L448.89 44.98 L449.01 45.80 L449.13 46.78 L449.26 47.93 L449.38 49.23 L449.50 50.68 L449.62 52.25 L449.74 53.95 L449.87 55.75 L449.99 57.65 L450.11 59.62 L450.23 61.66 L450.36 63.75 L450.48 65.86 L450.60 68.00 L450.72 70.14 L450.84 72.25 L450.97 74.34 L451.09 76.38 L451.21 78.35 L451.33 80.25 L451.46 82.05 L451.58 83.75 L451.70 85.32 L451.82 86.77 L451.94 88.07 L452.07 89.22 L452.19 90.20 L452.31 91.02 L452.43 91.67 L452.56 92.13 L452.68 92.41 L452.80 92.50 L452.92 92.39 L453.05 92.08 L453.17 91.55 L453.29 90.82 L453.42 89.88 L453.54 88.76 L453.66 87.46 L453.79 85.99 L453.91 84.36 L454.04 82.59 L454.16 80.68 L454.28 78.67 L454.41 76.56 L454.53 74.38 L454.65 72.13 L454.78 69.85 L454.90 67.55 L455.02 65.25 L455.15 62.97 L455.27 60.72 L455.39 58.54 L455.52 56.43 L455.64 54.42 L455.76 52.51 L455.89 50.74 L456.01 49.11 L456.14 47.64 L456.26 46.34 L456.38 45.22 L456.51 44.28 L456.63 43.55 L456.75 43.02 L456.88 42.71 L457.00 42.60 L457.10 42.71 L457.22 42.84 L457.37 42.98 L457.54 43.15 L457.72 43.33 L457.90 43.54 L458.09 43.77 L458.27 44.02 L458.44 44.30 L458.60 44.60 L458.74 44.87 L458.86 45.09 L458.97 45.27 L459.07 45.47 L459.18 45.72 L459.29 46.05 L459.42 46.49 L459.56 47.09 L459.71 47.88 L459.90 48.90 L460.10 50.18 L460.30 51.72 L460.50 53.47 L460.72 55.38 L460.96 57.39 L461.22 59.47 L461.50 61.56 L461.83 63.61 L462.19 65.57 L462.60 67.40 L463.07 69.14 L463.61 70.87 L464.21 72.58 L464.84 74.27 L465.49 75.94 L466.16 77.58 L466.81 79.19 L467.45 80.76 L468.05 82.30 L468.60 83.80 L469.11 85.28 L469.61 86.77 L470.10 88.25 L470.57 89.70 L471.03 91.11 L471.46 92.45 L471.88 93.72 L472.27 94.90 L472.65 95.96 L473.00 96.90 L473.32 97.74 L473.62 98.53 L473.88 99.25 L474.13 99.88 L474.36 100.41 L474.57 100.84 L474.78 101.14 L474.98 101.31 L475.19 101.34 L475.40 101.20 L475.61 100.92 L475.82 100.50 L476.03 99.96 L476.23 99.28 L476.43 98.48 L476.62 97.55 L476.80 96.48 L476.98 95.29 L477.14 93.96 L477.30 92.50 L477.44 90.82 L477.57 88.87 L477.69 86.72 L477.80 84.41 L477.90 82.01 L478.00 79.58 L478.10 77.17 L478.19 74.85 L478.29 72.68 L478.40 70.70 L478.51 68.84 L478.63 67.00 L478.75 65.19 L478.86 63.44 L478.98 61.77 L479.10 60.20 L479.21 58.76 L479.31 57.46 L479.41 56.33 L479.50 55.40 L479.58 54.70 L479.66 54.22 L479.74 53.94 L479.80 53.81 L479.87 53.79 L479.93 53.85 L479.98 53.95 L480.03 54.05 L480.07 54.11 L480.10 54.10 L480.22 54.31 L480.34 54.93 L480.47 55.94 L480.59 57.32 L480.71 59.01 L480.83 60.97 L480.96 63.15 L481.08 65.46 L481.20 67.85 L481.32 70.24 L481.44 72.55 L481.57 74.72 L481.69 76.69 L481.81 78.38 L481.93 79.76 L482.06 80.77 L482.18 81.39 L482.30 81.60 L482.42 81.35 L482.54 80.61 L482.66 79.41 L482.78 77.80 L482.90 75.83 L483.02 73.59 L483.14 71.15 L483.26 68.62 L483.38 66.09 L483.50 63.66 L483.62 61.41 L483.74 59.45 L483.86 57.83 L483.98 56.63 L484.11 55.89 L484.23 55.65 L484.35 55.90 L484.47 56.67 L484.59 57.90 L484.71 59.56 L484.83 61.55 L484.95 63.81 L485.07 66.23 L485.19 68.70 L485.31 71.12 L485.43 73.37 L485.55 75.37 L485.68 77.03 L485.80 78.26 L485.92 79.02 L486.04 79.28 L486.16 79.00 L486.28 78.15 L486.41 76.78 L486.53 74.97 L486.65 72.79 L486.77 70.37 L486.90 67.82 L487.02 65.27 L487.14 62.84 L487.27 60.67 L487.39 58.85 L487.51 57.49 L487.63 56.64 L487.76 56.35 L487.88 56.66 L488.01 57.58 L488.13 59.04 L488.26 60.98 L488.39 63.26 L488.51 65.77 L488.64 68.35 L488.76 70.86 L488.89 73.15 L489.01 75.08 L489.14 76.55 L489.27 77.46 L489.39 77.77 L489.51 77.47 L489.63 76.58 L489.75 75.16 L489.87 73.28 L489.99 71.06 L490.12 68.62 L490.24 66.11 L490.36 63.68 L490.48 61.46 L490.60 59.58 L490.72 58.15 L490.84 57.27 L490.96 56.96 L491.08 57.30 L491.21 58.30 L491.33 59.88 L491.46 61.94 L491.59 64.35 L491.71 66.92 L491.84 69.50 L491.96 71.90 L492.09 73.97 L492.21 75.55 L492.34 76.54 L492.46 76.88 L492.58 76.55 L492.70 75.58 L492.82 74.04 L492.95 72.03 L493.07 69.69 L493.19 67.17 L493.31 64.66 L493.43 62.32 L493.55 60.31 L493.67 58.77 L493.79 57.80 L493.91 57.46 L494.04 57.84 L494.17 58.95 L494.29 60.69 L494.42 62.93 L494.55 65.49 L494.68 68.15 L494.80 70.70 L494.93 72.94 L495.06 74.69 L495.18 75.79 L495.31 76.17 L495.43 75.80 L495.56 74.72 L495.68 73.02 L495.80 70.84 L495.93 68.35 L496.05 65.75 L496.17 63.26 L496.30 61.08 L496.42 59.38 L496.54 58.30 L496.67 57.93 L496.80 58.36 L496.93 59.61 L497.06 61.55 L497.19 64.00 L497.32 66.72 L497.46 69.43 L497.59 71.88 L497.72 73.83 L497.85 75.07 L497.98 75.50 L498.11 75.09 L498.24 73.87 L498.36 71.97 L498.49 69.59 L498.62 66.94 L498.75 64.29 L498.87 61.90 L499.00 60.01 L499.13 58.79 L499.26 58.37 L499.38 58.78 L499.51 59.95 L499.63 61.78 L499.76 64.09 L499.88 66.65 L500.00 69.21 L500.13 71.51 L500.25 73.34 L500.38 74.52 L500.50 74.92 L500.62 74.53 L500.74 73.37 L500.86 71.58 L500.99 69.32 L501.11 66.81 L501.23 64.31 L501.35 62.05 L501.47 60.25 L501.59 59.10 L501.71 58.71 L501.84 59.18 L501.98 60.56 L502.11 62.67 L502.24 65.25 L502.37 68.01 L502.50 70.59 L502.63 72.70 L502.76 74.08 L502.90 74.56 L503.02 74.09 L503.15 72.73 L503.28 70.66 L503.41 68.12 L503.54 65.42 L503.67 62.88 L503.79 60.81 L503.92 59.46 L504.05 58.99 L504.18 59.45 L504.30 60.77 L504.43 62.79 L504.55 65.27 L504.68 67.92 L504.80 70.40 L504.93 72.43 L505.06 73.75 L505.18 74.21 L505.30 73.75 L505.43 72.46 L505.55 70.47 L505.67 68.03 L505.80 65.43 L505.92 62.99 L506.04 61.00 L506.16 59.71 L506.29 59.25 L506.41 59.70 L506.53 60.96 L506.65 62.91 L506.77 65.29 L506.89 67.83 L507.01 70.22 L507.13 72.16 L507.25 73.43 L507.37 73.87 L507.50 73.32 L507.64 71.77 L507.77 69.44 L507.90 66.69 L508.04 63.94 L508.17 61.61 L508.30 60.06 L508.43 59.51 L508.57 60.05 L508.70 61.57 L508.83 63.84 L508.96 66.53 L509.09 69.21 L509.22 71.49 L509.35 73.01 L509.48 73.55 L509.61 73.02 L509.73 71.53 L509.86 69.29 L509.99 66.65 L510.12 64.02 L510.25 61.78 L510.37 60.29 L510.50 59.76 L510.63 60.27 L510.75 61.73 L510.88 63.92 L511.01 66.50 L511.13 69.08 L511.26 71.26 L511.38 72.72 L511.51 73.24 L511.63 72.73 L511.76 71.30 L511.88 69.15 L512.00 66.62 L512.13 64.09 L512.25 61.94 L512.38 60.50 L512.50 60.00 L512.62 60.49 L512.74 61.89 L512.86 63.99 L512.99 66.47 L513.11 68.94 L513.23 71.04 L513.35 72.44 L513.47 72.93 L513.61 72.31 L513.75 70.54 L513.88 68.00 L514.02 65.17 L514.16 62.62 L514.29 60.86 L514.43 60.23 L514.57 60.85 L514.70 62.57 L514.84 65.06 L514.97 67.83 L515.11 70.32 L515.24 72.04 L515.38 72.66 L515.51 72.05 L515.64 70.35 L515.77 67.89 L515.91 65.17 L516.04 62.71 L516.17 61.01 L516.31 60.40 L516.44 61.00 L516.57 62.67 L516.70 65.08 L516.83 67.76 L516.96 70.18 L517.09 71.85 L517.22 72.44 L517.35 71.85 L517.48 70.20 L517.61 67.82 L517.74 65.17 L517.87 62.79 L518.00 61.14 L518.13 60.55 L518.25 61.13 L518.38 62.75 L518.51 65.09 L518.64 67.69 L518.76 70.04 L518.89 71.66 L519.02 72.24 L519.14 71.67 L519.27 70.06 L519.39 67.75 L519.52 65.18 L519.65 62.86 L519.77 61.26 L519.90 60.69 L520.02 61.25 L520.15 62.82 L520.27 65.10 L520.39 67.62 L520.52 69.90 L520.64 71.47 L520.77 72.04 L520.89 71.48 L521.01 69.92 L521.13 67.68 L521.26 65.18 L521.38 62.93 L521.50 61.38 L521.62 60.82 L521.75 61.37 L521.87 62.90 L521.99 65.10 L522.11 67.56 L522.23 69.77 L522.35 71.29 L522.47 71.84 L522.61 71.11 L522.75 69.12 L522.89 66.40 L523.03 63.68 L523.17 61.68 L523.31 60.95 L523.45 61.67 L523.58 63.63 L523.72 66.30 L523.86 68.97 L524.00 70.93 L524.14 71.65 L524.27 70.94 L524.41 69.01 L524.55 66.37 L524.68 63.73 L524.82 61.79 L524.95 61.08 L525.09 61.78 L525.22 63.68 L525.36 66.27 L525.49 68.87 L525.63 70.77 L525.76 71.46 L525.90 70.77 L526.03 68.90 L526.16 66.34 L526.30 63.77 L526.43 61.90 L526.56 61.21 L526.70 61.89 L526.83 63.73 L526.96 66.24 L527.09 68.76 L527.22 70.60 L527.35 71.28 L527.49 70.61 L527.62 68.79 L527.75 66.31 L527.88 63.82 L528.01 62.00 L528.14 61.34 L528.27 61.99 L528.40 63.78 L528.53 66.22 L528.65 68.66 L528.78 70.44 L528.91 71.10 L529.04 70.45 L529.17 68.69 L529.30 66.28 L529.43 63.87 L529.55 62.10 L529.68 61.46 L529.81 62.09 L529.93 63.82 L530.06 66.19 L530.19 68.56 L530.31 70.29 L530.44 70.92 L530.57 70.30 L530.69 68.59 L530.82 66.25 L530.94 63.91 L531.07 62.20 L531.19 61.58" fill="none" stroke="#ee3139" stroke-width="1.15" stroke-linejoin="round" stroke-linecap="round" />
<path d="M355.5 68.3H505" stroke="#4f9fbf" stroke-width="1" stroke-dasharray="2.6 2.4"/>
<rect x="331.9" y="31.3" width="211.6" height="77.8" fill="none" stroke="#505050" stroke-width="1.1"/>
<path d="M328.3 38.6H331.9M328.3 66.7H331.9M328.3 94.8H331.9M329.9 52.65H331.9M329.9 80.75H331.9" stroke="#505050" stroke-width="1" fill="none"/>
<text x="327.7" y="41.51" font-size="9.1" text-anchor="end" fill="#262626" letter-spacing="-0.3" stroke="#262626" stroke-width="0.2">214,157</text>
<text x="327.7" y="69.61" font-size="9.1" text-anchor="end" fill="#262626" letter-spacing="-0.3" stroke="#262626" stroke-width="0.2">214,156</text>
<text x="327.7" y="97.71" font-size="9.1" text-anchor="end" fill="#262626" letter-spacing="-0.3" stroke="#262626" stroke-width="0.2">214,155</text>
<path d="M354.2 109.1V112.3M399.2 109.1V112.3M444.2 109.1V112.3M489.2 109.1V112.3M534.2 109.1V112.3M376.7 109.1V110.9M421.7 109.1V110.9M466.7 109.1V110.9M511.7 109.1V110.9" stroke="#505050" stroke-width="1" fill="none"/>
<text x="354.2" y="121.6" font-size="9.1" text-anchor="middle" fill="#262626" stroke="#262626" stroke-width="0.2">0</text>
<text x="399.2" y="121.6" font-size="9.1" text-anchor="middle" fill="#262626" stroke="#262626" stroke-width="0.2">5</text>
<text x="444.2" y="121.6" font-size="9.1" text-anchor="middle" fill="#262626" stroke="#262626" stroke-width="0.2">10</text>
<text x="489.2" y="121.6" font-size="9.1" text-anchor="middle" fill="#262626" stroke="#262626" stroke-width="0.2">15</text>
<text x="534.2" y="121.6" font-size="9.1" text-anchor="middle" fill="#262626" stroke="#262626" stroke-width="0.2">20</text>
<text x="341.8" y="46" font-size="10.3" fill="#9658c2" stroke="#9658c2" stroke-width="0.2"><tspan font-style="italic">V</tspan><tspan font-size="7" font-style="italic" dy="2">f</tspan><tspan dy="-2" dx="0.5">= 10 mV, </tspan><tspan font-style="italic">V</tspan><tspan font-size="7" font-style="italic" dy="2">p</tspan><tspan dy="-2" dx="0.3">= 1 mV</tspan></text>
<path d="M350.5 97.3H362" stroke="#d9434a" stroke-width="1.1"/>
<text x="365" y="100" font-size="8.8" text-anchor="start" fill="#262626"  stroke="#262626" stroke-width="0.2">Backward</text>
<path d="M407.9 74V95" stroke="#2aa7df" stroke-width="1.3"/>
<path d="M404.9 75.3L407.9 69.2L410.9 75.3Z M404.9 93.6L407.9 100.2L410.9 93.6Z" fill="#18a2e0"/>
<text x="415.2" y="93.6" font-size="10.6" fill="#64883f" style="font-family:Liberation Serif" stroke="#64883f" stroke-width="0.2">ΔΩ<tspan font-size="7.5" dy="2.5">1</tspan><tspan dy="-2.5"> =1.1</tspan></text>
<text x="415.5" y="105.9" font-size="10.6" fill="#64883f" style="font-family:Liberation Serif" stroke="#64883f" stroke-width="0.2">1</text>
<text x="506.2" y="103.6" font-size="10" fill="#2ab0d8" style="font-family:Liberation Serif" stroke="#2ab0d8" stroke-width="0.2">Ω<tspan font-size="7.5" dy="2.3">1</tspan></text>
<path d="M465.3 52.2L471.2 68" stroke="#b32222" stroke-width="1.3"/>
<path d="M467.6 69.6L475.3 66.6L474.2 75.5Z" fill="#c00d0d"/>
<path d="M356 128.6H505" stroke="#e070cf" stroke-width="1.1" stroke-dasharray="2.8 2"/>
<path d="M359.00 159.60 L359.12 159.92 L359.24 160.80 L359.36 162.01 L359.48 163.21 L359.60 164.09 L359.72 164.41 L359.85 164.09 L359.97 163.19 L360.09 161.96 L360.21 160.74 L360.33 159.84 L360.45 159.52 L360.57 159.85 L360.70 160.75 L360.82 161.98 L360.94 163.21 L361.06 164.11 L361.18 164.44 L361.31 164.11 L361.43 163.19 L361.55 161.94 L361.67 160.68 L361.80 159.76 L361.92 159.43 L362.04 159.77 L362.17 160.69 L362.29 161.95 L362.41 163.21 L362.54 164.13 L362.66 164.47 L362.78 164.13 L362.91 163.19 L363.03 161.91 L363.16 160.62 L363.28 159.69 L363.40 159.34 L363.53 159.69 L363.65 160.63 L363.78 161.92 L363.90 163.21 L364.03 164.15 L364.15 164.50 L364.28 164.15 L364.40 163.19 L364.53 161.88 L364.65 160.57 L364.78 159.61 L364.90 159.25 L365.03 159.61 L365.16 160.57 L365.28 161.89 L365.41 163.21 L365.54 164.18 L365.66 164.53 L365.79 164.17 L365.92 163.19 L366.04 161.85 L366.17 160.51 L366.30 159.52 L366.42 159.17 L366.55 159.53 L366.68 160.51 L366.81 161.86 L366.93 163.21 L367.06 164.20 L367.19 164.56 L367.32 164.19 L367.45 163.19 L367.58 161.82 L367.70 160.45 L367.83 159.44 L367.96 159.08 L368.09 159.44 L368.22 160.45 L368.35 161.83 L368.48 163.21 L368.61 164.22 L368.74 164.59 L368.87 164.21 L369.00 163.19 L369.13 161.79 L369.26 160.39 L369.39 159.36 L369.52 158.98 L369.65 159.36 L369.78 160.39 L369.91 161.80 L370.04 163.21 L370.17 164.24 L370.30 164.62 L370.43 164.24 L370.57 163.19 L370.70 161.76 L370.83 160.32 L370.96 159.28 L371.09 158.89 L371.23 159.28 L371.36 160.33 L371.49 161.77 L371.62 163.21 L371.76 164.27 L371.89 164.65 L372.02 164.26 L372.16 163.19 L372.29 161.73 L372.42 160.26 L372.56 159.19 L372.69 158.80 L372.82 159.19 L372.96 160.27 L373.09 161.74 L373.23 163.21 L373.36 164.29 L373.50 164.68 L373.63 164.28 L373.77 163.19 L373.90 161.69 L374.04 160.20 L374.17 159.10 L374.31 158.70 L374.44 159.11 L374.58 160.21 L374.72 161.71 L374.85 163.21 L374.99 164.31 L375.13 164.71 L375.26 164.31 L375.40 163.19 L375.54 161.66 L375.67 160.13 L375.81 159.02 L375.95 158.61 L376.09 159.02 L376.22 160.14 L376.36 161.68 L376.50 163.21 L376.64 164.34 L376.78 164.75 L376.92 164.33 L377.06 163.19 L377.19 161.63 L377.33 160.07 L377.47 158.93 L377.61 158.51 L377.73 158.82 L377.85 159.69 L377.97 160.95 L378.09 162.34 L378.21 163.60 L378.33 164.47 L378.45 164.78 L378.57 164.46 L378.69 163.58 L378.82 162.30 L378.94 160.89 L379.06 159.61 L379.18 158.73 L379.30 158.41 L379.42 158.73 L379.54 159.62 L379.66 160.90 L379.79 162.32 L379.91 163.61 L380.03 164.50 L380.15 164.81 L380.28 164.49 L380.40 163.59 L380.52 162.29 L380.64 160.84 L380.77 159.54 L380.89 158.63 L381.01 158.31 L381.14 158.64 L381.26 159.54 L381.38 160.85 L381.51 162.31 L381.63 163.62 L381.75 164.52 L381.88 164.85 L382.00 164.52 L382.13 163.60 L382.25 162.27 L382.38 160.79 L382.50 159.46 L382.63 158.54 L382.75 158.21 L382.88 158.54 L383.00 159.47 L383.13 160.80 L383.25 162.29 L383.38 163.62 L383.51 164.55 L383.63 164.88 L383.76 164.55 L383.88 163.61 L384.01 162.25 L384.14 160.74 L384.26 159.38 L384.39 158.44 L384.52 158.11 L384.65 158.44 L384.77 159.39 L384.90 160.75 L385.03 162.27 L385.16 163.63 L385.28 164.58 L385.41 164.92 L385.54 164.57 L385.67 163.61 L385.80 162.23 L385.93 160.69 L386.06 159.30 L386.18 158.34 L386.31 158.00 L386.44 158.35 L386.57 159.31 L386.70 160.70 L386.83 162.25 L386.96 163.64 L387.09 164.61 L387.22 164.95 L387.35 164.60 L387.48 163.62 L387.62 162.21 L387.75 160.64 L387.88 159.22 L388.01 158.24 L388.14 157.89 L388.27 158.25 L388.40 159.23 L388.54 160.65 L388.67 162.23 L388.80 163.65 L388.93 164.64 L389.06 164.99 L389.20 164.63 L389.33 163.63 L389.46 162.19 L389.60 160.58 L389.73 159.14 L389.86 158.14 L390.00 157.79 L390.13 158.14 L390.27 159.15 L390.40 160.60 L390.54 162.21 L390.67 163.66 L390.81 164.66 L390.94 165.02 L391.08 164.66 L391.21 163.64 L391.35 162.17 L391.48 160.53 L391.62 159.06 L391.75 158.04 L391.89 157.67 L392.03 158.04 L392.16 159.07 L392.30 160.55 L392.44 162.19 L392.58 163.67 L392.71 164.69 L392.85 165.06 L392.97 164.78 L393.09 163.96 L393.21 162.75 L393.33 161.31 L393.45 159.88 L393.58 158.66 L393.70 157.85 L393.82 157.56 L393.94 157.85 L394.06 158.67 L394.18 159.89 L394.31 161.33 L394.43 162.77 L394.55 163.99 L394.67 164.81 L394.80 165.10 L394.92 164.81 L395.04 163.98 L395.17 162.74 L395.29 161.27 L395.41 159.81 L395.54 158.57 L395.66 157.74 L395.78 157.45 L395.91 157.74 L396.03 158.57 L396.16 159.82 L396.28 161.29 L396.41 162.76 L396.53 164.01 L396.66 164.84 L396.78 165.14 L396.91 164.84 L397.03 163.99 L397.16 162.73 L397.29 161.23 L397.41 159.74 L397.54 158.47 L397.66 157.63 L397.79 157.33 L397.92 157.63 L398.04 158.48 L398.17 159.75 L398.30 161.25 L398.43 162.75 L398.55 164.03 L398.68 164.88 L398.81 165.18 L398.94 164.87 L399.07 164.01 L399.19 162.72 L399.32 161.19 L399.45 159.67 L399.58 158.38 L399.71 157.51 L399.84 157.21 L399.97 157.52 L400.10 158.39 L400.23 159.70 L400.36 161.25 L400.49 162.79 L400.62 164.10 L400.75 164.98 L400.88 165.29 L401.01 164.97 L401.14 164.05 L401.27 162.68 L401.41 161.07 L401.54 159.46 L401.67 158.09 L401.80 157.17 L401.93 156.85 L402.07 157.18 L402.20 158.12 L402.33 159.52 L402.46 161.18 L402.60 162.83 L402.73 164.23 L402.86 165.17 L403.00 165.50 L403.13 165.16 L403.27 164.18 L403.40 162.71 L403.54 160.98 L403.67 159.25 L403.81 157.79 L403.94 156.81 L404.08 156.47 L404.20 156.75 L404.32 157.55 L404.44 158.78 L404.56 160.29 L404.68 161.89 L404.80 163.40 L404.92 164.63 L405.04 165.44 L405.17 165.72 L405.29 165.43 L405.41 164.59 L405.53 163.31 L405.66 161.73 L405.78 160.06 L405.90 158.48 L406.03 157.20 L406.15 156.36 L406.27 156.07 L406.39 156.37 L406.52 157.23 L406.64 158.54 L406.77 160.15 L406.89 161.86 L407.02 163.47 L407.14 164.78 L407.26 165.64 L407.39 165.94 L407.51 165.63 L407.64 164.74 L407.77 163.37 L407.89 161.69 L408.02 159.91 L408.14 158.23 L408.27 156.87 L408.40 155.98 L408.52 155.67 L408.65 155.98 L408.78 156.89 L408.90 158.29 L409.03 160.00 L409.16 161.83 L409.29 163.54 L409.41 164.94 L409.54 165.85 L409.67 166.17 L409.80 165.84 L409.93 164.89 L410.06 163.44 L410.19 161.66 L410.32 159.76 L410.45 157.98 L410.58 156.53 L410.70 155.58 L410.83 155.25 L410.97 155.59 L411.10 156.55 L411.23 158.04 L411.36 159.86 L411.49 161.79 L411.62 163.61 L411.75 165.10 L411.88 166.07 L412.01 166.40 L412.15 166.05 L412.28 165.05 L412.41 163.51 L412.55 161.62 L412.68 159.61 L412.81 157.72 L412.95 156.18 L413.08 155.17 L413.21 154.82 L413.33 155.11 L413.46 155.95 L413.58 157.26 L413.70 158.91 L413.82 160.73 L413.94 162.56 L414.06 164.21 L414.19 165.51 L414.31 166.35 L414.43 166.64 L414.55 166.34 L414.68 165.47 L414.80 164.12 L414.92 162.41 L415.05 160.51 L415.17 158.62 L415.29 156.91 L415.42 155.55 L415.54 154.68 L415.66 154.38 L415.79 154.69 L415.91 155.58 L416.04 156.96 L416.16 158.70 L416.29 160.64 L416.42 162.57 L416.54 164.31 L416.67 165.70 L416.79 166.59 L416.92 166.89 L417.04 166.57 L417.17 165.65 L417.30 164.22 L417.43 162.41 L417.55 160.41 L417.68 158.41 L417.81 156.60 L417.94 155.16 L418.06 154.24 L418.19 153.93 L418.32 154.25 L418.45 155.19 L418.58 156.65 L418.71 158.49 L418.84 160.54 L418.97 162.58 L419.10 164.42 L419.23 165.89 L419.36 166.83 L419.49 167.15 L419.62 166.87 L419.75 166.07 L419.87 164.79 L420.00 163.16 L420.13 161.30 L420.26 159.35 L420.39 157.49 L420.52 155.86 L420.64 154.58 L420.77 153.78 L420.90 153.50 L421.02 153.84 L421.14 154.82 L421.26 156.34 L421.38 158.27 L421.50 160.40 L421.62 162.53 L421.74 164.46 L421.86 165.98 L421.98 166.96 L422.10 167.30 L422.23 166.88 L422.37 165.69 L422.50 163.85 L422.63 161.60 L422.77 159.20 L422.90 156.95 L423.03 155.11 L423.17 153.92 L423.30 153.50 L423.43 153.79 L423.55 154.64 L423.68 155.97 L423.81 157.68 L423.94 159.63 L424.06 161.67 L424.19 163.62 L424.32 165.33 L424.45 166.66 L424.57 167.51 L424.70 167.80 L424.83 167.45 L424.96 166.42 L425.09 164.81 L425.22 162.79 L425.35 160.55 L425.48 158.31 L425.61 156.29 L425.74 154.68 L425.87 153.65 L426.00 153.30 L426.13 153.61 L426.25 154.50 L426.38 155.91 L426.51 157.71 L426.64 159.78 L426.76 161.92 L426.89 163.99 L427.02 165.79 L427.15 167.20 L427.27 168.09 L427.40 168.40 L427.52 168.14 L427.65 167.38 L427.77 166.16 L427.90 164.58 L428.02 162.73 L428.15 160.75 L428.27 158.77 L428.40 156.93 L428.52 155.34 L428.65 154.12 L428.77 153.36 L428.90 153.10 L429.02 153.49 L429.14 154.62 L429.26 156.38 L429.38 158.59 L429.50 161.05 L429.62 163.51 L429.74 165.72 L429.86 167.48 L429.98 168.61 L430.10 169.00 L430.23 168.61 L430.36 167.46 L430.49 165.68 L430.62 163.44 L430.75 160.95 L430.88 158.46 L431.01 156.22 L431.14 154.44 L431.27 153.29 L431.40 152.90 L431.52 153.18 L431.65 154.02 L431.77 155.35 L431.90 157.07 L432.02 159.09 L432.15 161.25 L432.27 163.41 L432.40 165.42 L432.52 167.15 L432.65 168.48 L432.77 169.32 L432.90 169.60 L433.02 169.18 L433.14 167.98 L433.26 166.10 L433.38 163.73 L433.50 161.10 L433.62 158.47 L433.74 156.10 L433.86 154.22 L433.98 153.02 L434.10 152.60 L434.23 152.90 L434.35 153.78 L434.48 155.18 L434.60 157.00 L434.73 159.12 L434.85 161.40 L434.98 163.68 L435.10 165.80 L435.23 167.62 L435.35 169.02 L435.48 169.90 L435.60 170.20 L435.73 169.76 L435.86 168.50 L435.99 166.53 L436.12 164.05 L436.25 161.30 L436.38 158.55 L436.51 156.07 L436.64 154.10 L436.77 152.84 L436.90 152.40 L437.02 152.67 L437.15 153.45 L437.27 154.71 L437.39 156.37 L437.52 158.34 L437.64 160.49 L437.76 162.71 L437.88 164.86 L438.01 166.83 L438.13 168.49 L438.25 169.75 L438.38 170.53 L438.50 170.80 L438.63 170.34 L438.76 169.01 L438.89 166.95 L439.02 164.34 L439.15 161.45 L439.28 158.56 L439.41 155.95 L439.54 153.89 L439.67 152.56 L439.80 152.10 L439.92 152.38 L440.05 153.21 L440.17 154.54 L440.29 156.29 L440.42 158.36 L440.54 160.63 L440.66 162.97 L440.78 165.24 L440.91 167.31 L441.03 169.06 L441.15 170.39 L441.28 171.22 L441.40 171.50 L441.53 171.10 L441.65 169.94 L441.78 168.12 L441.91 165.77 L442.04 163.09 L442.16 160.31 L442.29 157.63 L442.42 155.28 L442.55 153.46 L442.67 152.30 L442.80 151.90 L442.92 152.12 L443.04 152.79 L443.16 153.86 L443.28 155.29 L443.40 157.03 L443.52 158.98 L443.64 161.08 L443.76 163.22 L443.88 165.32 L444.00 167.28 L444.12 169.01 L444.24 170.44 L444.36 171.51 L444.48 172.18 L444.60 172.40 L444.73 172.14 L444.86 171.38 L444.99 170.14 L445.11 168.50 L445.24 166.54 L445.37 164.35 L445.50 162.05 L445.63 159.75 L445.76 157.56 L445.89 155.60 L446.01 153.96 L446.14 152.72 L446.27 151.96 L446.40 151.70 L446.52 151.91 L446.65 152.52 L446.77 153.52 L446.90 154.86 L447.02 156.50 L447.15 158.37 L447.27 160.39 L447.40 162.50 L447.52 164.61 L447.65 166.63 L447.77 168.50 L447.90 170.14 L448.02 171.48 L448.15 172.48 L448.27 173.09 L448.40 173.30 L448.52 173.09 L448.65 172.46 L448.77 171.44 L448.90 170.06 L449.02 168.39 L449.15 166.48 L449.27 164.41 L449.40 162.25 L449.52 160.09 L449.65 158.02 L449.77 156.11 L449.90 154.44 L450.02 153.06 L450.15 152.04 L450.27 151.41 L450.40 151.20 L450.52 151.42 L450.65 152.09 L450.77 153.17 L450.90 154.63 L451.02 156.40 L451.15 158.42 L451.27 160.62 L451.40 162.90 L451.52 165.18 L451.65 167.38 L451.77 169.40 L451.90 171.17 L452.02 172.63 L452.15 173.71 L452.27 174.38 L452.40 174.60 L452.52 174.43 L452.64 173.93 L452.76 173.11 L452.88 172.00 L453.01 170.61 L453.13 169.00 L453.25 167.21 L453.37 165.28 L453.49 163.27 L453.61 161.23 L453.73 159.22 L453.85 157.29 L453.97 155.50 L454.09 153.89 L454.22 152.50 L454.34 151.39 L454.46 150.57 L454.58 150.07 L454.70 149.90 L454.82 150.06 L454.95 150.55 L455.07 151.34 L455.20 152.43 L455.32 153.78 L455.45 155.36 L455.57 157.13 L455.70 159.06 L455.82 161.08 L455.95 163.15 L456.07 165.22 L456.20 167.24 L456.32 169.17 L456.45 170.94 L456.57 172.52 L456.70 173.87 L456.82 174.96 L456.95 175.75 L457.07 176.24 L457.20 176.40 L457.32 176.28 L457.44 175.90 L457.56 175.29 L457.68 174.44 L457.80 173.38 L457.93 172.12 L458.05 170.69 L458.17 169.10 L458.29 167.39 L458.41 165.58 L458.53 163.71 L458.65 161.80 L458.77 159.89 L458.89 158.02 L459.01 156.21 L459.13 154.50 L459.25 152.91 L459.38 151.48 L459.50 150.22 L459.62 149.16 L459.74 148.31 L459.86 147.70 L459.98 147.32 L460.10 147.20 L460.22 147.30 L460.35 147.60 L460.47 148.11 L460.60 148.80 L460.72 149.68 L460.84 150.73 L460.97 151.94 L461.09 153.30 L461.22 154.79 L461.34 156.40 L461.47 158.10 L461.59 159.87 L461.71 161.70 L461.84 163.56 L461.96 165.44 L462.09 167.30 L462.21 169.13 L462.33 170.90 L462.46 172.60 L462.58 174.21 L462.71 175.70 L462.83 177.06 L462.96 178.27 L463.08 179.32 L463.20 180.20 L463.33 180.89 L463.45 181.40 L463.58 181.70 L463.70 181.80 L463.82 181.74 L463.94 181.55 L464.07 181.25 L464.19 180.83 L464.31 180.29 L464.44 179.63 L464.56 178.87 L464.68 178.00 L464.80 177.03 L464.93 175.97 L465.05 174.82 L465.17 173.60 L465.29 172.30 L465.42 170.93 L465.54 169.52 L465.66 168.05 L465.78 166.55 L465.91 165.01 L466.03 163.46 L466.15 161.90 L466.27 160.34 L466.39 158.79 L466.52 157.25 L466.64 155.75 L466.76 154.28 L466.88 152.87 L467.01 151.50 L467.13 150.20 L467.25 148.98 L467.38 147.83 L467.50 146.77 L467.62 145.80 L467.74 144.93 L467.87 144.17 L467.99 143.51 L468.11 142.97 L468.23 142.55 L468.36 142.25 L468.48 142.06 L468.60 142.00 L468.72 142.05 L468.84 142.20 L468.96 142.45 L469.09 142.80 L469.21 143.24 L469.33 143.78 L469.45 144.41 L469.57 145.13 L469.69 145.93 L469.81 146.82 L469.93 147.79 L470.06 148.83 L470.18 149.94 L470.30 151.11 L470.42 152.35 L470.54 153.63 L470.66 154.97 L470.78 156.35 L470.90 157.76 L471.03 159.21 L471.15 160.67 L471.27 162.16 L471.39 163.65 L471.51 165.15 L471.63 166.64 L471.75 168.13 L471.87 169.59 L472.00 171.04 L472.12 172.45 L472.24 173.83 L472.36 175.17 L472.48 176.45 L472.60 177.69 L472.72 178.86 L472.84 179.97 L472.97 181.01 L473.09 181.98 L473.21 182.87 L473.33 183.67 L473.45 184.39 L473.57 185.02 L473.69 185.56 L473.81 186.00 L473.94 186.35 L474.06 186.60 L474.18 186.75 L474.30 186.80 L474.42 186.50 L474.58 186.13 L474.77 185.69 L474.98 185.20 L475.21 184.66 L475.45 184.08 L475.68 183.47 L475.91 182.83 L476.12 182.17 L476.30 181.50 L476.46 180.82 L476.60 180.14 L476.73 179.43 L476.85 178.70 L476.96 177.94 L477.08 177.13 L477.21 176.27 L477.35 175.35 L477.51 174.36 L477.70 173.30 L477.91 172.09 L478.15 170.71 L478.41 169.21 L478.69 167.64 L478.97 166.04 L479.25 164.46 L479.53 162.96 L479.81 161.59 L480.06 160.38 L480.30 159.40 L480.52 158.66 L480.72 158.13 L480.90 157.75 L481.08 157.50 L481.26 157.33 L481.43 157.20 L481.61 157.06 L481.79 156.87 L481.99 156.60 L482.20 156.20 L482.42 155.70 L482.64 155.17 L482.86 154.61 L483.09 154.02 L483.33 153.39 L483.58 152.74 L483.84 152.05 L484.11 151.33 L484.39 150.58 L484.70 149.80 L485.03 148.97 L485.38 148.07 L485.74 147.12 L486.13 146.14 L486.52 145.13 L486.92 144.12 L487.32 143.12 L487.72 142.13 L488.11 141.19 L488.50 140.30 L488.88 139.44 L489.27 138.57 L489.66 137.70 L490.05 136.86 L490.44 136.03 L490.82 135.24 L491.20 134.49 L491.58 133.80 L491.94 133.16 L492.30 132.60 L492.65 132.09 L493.00 131.63 L493.34 131.21 L493.68 130.84 L494.01 130.52 L494.33 130.25 L494.64 130.04 L494.94 129.90 L495.23 129.81 L495.50 129.80 L495.76 129.86 L496.01 130.01 L496.24 130.23 L496.47 130.51 L496.68 130.85 L496.88 131.23 L497.08 131.65 L497.26 132.08 L497.44 132.54 L497.60 133.00 L497.75 133.41 L497.89 133.73 L498.01 134.03 L498.12 134.33 L498.22 134.70 L498.32 135.17 L498.41 135.79 L498.50 136.60 L498.60 137.66 L498.70 139.00 L498.80 140.70 L498.90 142.74 L499.00 145.06 L499.09 147.58 L499.19 150.24 L499.28 152.95 L499.38 155.66 L499.48 158.28 L499.59 160.75 L499.70 163.00 L499.82 165.14 L499.96 167.30 L500.11 169.46 L500.26 171.57 L500.41 173.60 L500.56 175.51 L500.70 177.26 L500.82 178.82 L500.92 180.14 L501.00 181.20 L501.13 180.93 L501.25 180.13 L501.38 178.83 L501.51 177.05 L501.63 174.84 L501.76 172.27 L501.88 169.41 L502.01 166.34 L502.14 163.13 L502.26 159.87 L502.39 156.66 L502.52 153.59 L502.64 150.73 L502.77 148.16 L502.89 145.95 L503.02 144.17 L503.15 142.87 L503.27 142.07 L503.40 141.80 L503.52 142.00 L503.65 142.60 L503.77 143.59 L503.90 144.95 L504.02 146.63 L504.14 148.61 L504.27 150.85 L504.39 153.29 L504.51 155.87 L504.64 158.55 L504.76 161.25 L504.89 163.93 L505.01 166.51 L505.13 168.95 L505.26 171.19 L505.38 173.17 L505.50 174.85 L505.63 176.21 L505.75 177.20 L505.88 177.80 L506.00 178.00 L506.13 177.76 L506.25 177.05 L506.38 175.88 L506.51 174.30 L506.63 172.34 L506.76 170.05 L506.88 167.50 L507.01 164.76 L507.14 161.90 L507.26 159.00 L507.39 156.14 L507.52 153.40 L507.64 150.85 L507.77 148.56 L507.89 146.60 L508.02 145.02 L508.15 143.85 L508.27 143.14 L508.40 142.90 L508.52 143.39 L508.65 144.82 L508.77 147.13 L508.89 150.16 L509.02 153.74 L509.14 157.67 L509.26 161.73 L509.38 165.66 L509.51 169.24 L509.63 172.27 L509.75 174.58 L509.88 176.01 L510.00 176.50 L510.12 176.19 L510.25 175.26 L510.38 173.75 L510.50 171.73 L510.62 169.26 L510.75 166.44 L510.88 163.38 L511.00 160.20 L511.12 157.02 L511.25 153.96 L511.38 151.14 L511.50 148.67 L511.62 146.65 L511.75 145.14 L511.88 144.21 L512.00 143.90 L512.12 144.21 L512.25 145.12 L512.38 146.60 L512.50 148.60 L512.62 151.03 L512.75 153.81 L512.88 156.82 L513.00 159.95 L513.12 163.08 L513.25 166.09 L513.38 168.87 L513.50 171.30 L513.62 173.30 L513.75 174.78 L513.88 175.69 L514.00 176.00 L514.12 175.48 L514.25 173.96 L514.38 171.53 L514.50 168.38 L514.62 164.70 L514.75 160.75 L514.88 156.80 L515.00 153.12 L515.12 149.97 L515.25 147.54 L515.38 146.02 L515.50 145.50 L515.63 145.87 L515.76 146.96 L515.89 148.71 L516.01 151.03 L516.14 153.82 L516.27 156.93 L516.40 160.20 L516.53 163.47 L516.66 166.58 L516.79 169.37 L516.91 171.69 L517.04 173.44 L517.17 174.53 L517.30 174.90 L517.43 174.23 L517.56 172.29 L517.69 169.27 L517.82 165.47 L517.95 161.25 L518.08 157.03 L518.21 153.23 L518.34 150.21 L518.47 148.27 L518.60 147.60 L518.67 148.08 L518.77 148.74 L518.89 149.52 L519.02 150.36 L519.16 151.21 L519.30 152.00 L519.45 152.77 L519.60 153.58 L519.77 154.39 L519.94 155.17 L520.12 155.89 L520.30 156.50 L520.50 157.01 L520.73 157.46 L520.96 157.83 L521.18 158.14 L521.37 158.40 L521.50 158.60" fill="none" stroke="#4a4a4a" stroke-width="1.1" stroke-linejoin="round" stroke-linecap="round" />
<path d="M521.50 158.40 L521.67 161.35 L521.85 164.30 L522.03 161.36 L522.20 158.42 L522.38 161.36 L522.55 164.30 L522.73 161.37 L522.90 158.44 L523.08 161.37 L523.25 164.30 L523.43 161.38 L523.60 158.45 L523.78 161.38 L523.95 164.30 L524.13 161.39 L524.30 158.47 L524.48 161.39 L524.65 164.30 L524.83 161.39 L525.00 158.49 L525.18 161.39 L525.35 164.30 L525.53 161.40 L525.70 158.51 L525.88 161.40 L526.05 164.30 L526.23 161.41 L526.40 158.53 L526.58 161.41 L526.75 164.30 L526.93 161.42 L527.10 158.54 L527.28 161.42 L527.45 164.30 L527.63 161.43 L527.80 158.56 L527.98 161.43 L528.15 164.30 L528.33 161.44 L528.50 158.58 L528.68 161.44 L528.85 164.30 L529.03 161.45 L529.20 158.60" fill="none" stroke="#4a4a4a" stroke-width="0.9" stroke-linejoin="round" stroke-linecap="round" />
<path d="M356 162.3H503" stroke="#e070cf" stroke-width="1.1" stroke-dasharray="2.8 2"/>
<rect x="332" y="124.6" width="211.4" height="77.6" fill="none" stroke="#505050" stroke-width="1.1"/>
<path d="M328.4 131.9H332M328.4 160.3H332M328.4 188.7H332M330 146.1H332M330 174.5H332" stroke="#505050" stroke-width="1" fill="none"/>
<text x="327.7" y="134.81" font-size="9.1" text-anchor="end" fill="#262626" letter-spacing="-0.3" stroke="#262626" stroke-width="0.2">214,157</text>
<text x="327.7" y="163.21" font-size="9.1" text-anchor="end" fill="#262626" letter-spacing="-0.3" stroke="#262626" stroke-width="0.2">214,156</text>
<text x="327.7" y="191.61" font-size="9.1" text-anchor="end" fill="#262626" letter-spacing="-0.3" stroke="#262626" stroke-width="0.2">214,155</text>
<path d="M359 202.2V205.4M413.15 202.2V205.4M467.3 202.2V205.4M521.45 202.2V205.4M386.07 202.2V204M440.23 202.2V204M494.38 202.2V204" stroke="#505050" stroke-width="1" fill="none"/>
<text x="359" y="214.8" font-size="9.1" text-anchor="middle" fill="#262626" stroke="#262626" stroke-width="0.2">0</text>
<text x="413.15" y="214.8" font-size="9.1" text-anchor="middle" fill="#262626" stroke="#262626" stroke-width="0.2">5</text>
<text x="467.3" y="214.8" font-size="9.1" text-anchor="middle" fill="#262626" stroke="#262626" stroke-width="0.2">10</text>
<text x="521.45" y="214.8" font-size="9.1" text-anchor="middle" fill="#262626" stroke="#262626" stroke-width="0.2">15</text>
<text x="438.3" y="230.2" font-size="10.2" text-anchor="middle" fill="#262626"  stroke="#262626" stroke-width="0.2">Time (s)</text>
<path d="M346.8 190.4H358.3" stroke="#3a3a3a" stroke-width="1.1"/>
<text x="361" y="193.4" font-size="8.8" text-anchor="start" fill="#262626"  stroke="#262626" stroke-width="0.2">Forward</text>
<path d="M395.4 134V153" stroke="#e040c8" stroke-width="1.3"/>
<path d="M392.2 135.6L395.4 128.6L398.6 135.6Z M392.2 152.3L395.4 158.8L398.6 152.3Z" fill="#e43cc8"/>
<text x="356.2" y="139.2" font-size="10" fill="#e04cc4" style="font-family:Liberation Serif" stroke="#e04cc4" stroke-width="0.2">Ω<tspan font-size="7.5" dy="2.3">2</tspan></text>
<text x="403.3" y="147.3" font-size="10.6" fill="#64883f" style="font-family:Liberation Serif" stroke="#64883f" stroke-width="0.2">ΔΩ<tspan font-size="7.5" dy="2.5">2</tspan><tspan dy="-2.5"> =1.19</tspan></text>
<path d="M472 151.7L484.5 136" stroke="#444" stroke-width="1.2"/>
<path d="M481 133.6L488 131.8L486.4 138.8Z" fill="#444"/>
<text x="15.5" y="233.4" style="font-family:Liberation Serif;font-weight:bold" font-size="14" fill="#111" stroke="#111" stroke-width="0.2">(c)</text>
<path d="M64 348.2H271" stroke="#c9506a" stroke-width="1.3" stroke-dasharray="3.6 2.4"/>
<path d="M82.70 264.85 L83.20 265.24 L83.70 265.62 L84.20 266.01 L84.70 266.40 L85.20 266.79 L85.70 267.17 L86.20 267.56 L86.70 267.95 L87.20 268.34 L87.70 268.72 L88.20 269.11 L88.70 269.50 L89.20 269.89 L89.70 270.27 L90.20 270.66 L90.70 271.05 L91.20 271.44 L91.70 271.82 L92.20 272.21 L92.70 272.60 L93.20 272.99 L93.70 273.37 L94.20 273.76 L94.70 274.15 L95.20 274.54 L95.70 274.92 L96.20 275.31 L96.70 275.70 L97.20 276.09 L97.70 276.47 L98.20 276.86 L98.70 277.25 L99.20 277.64 L99.70 278.02 L100.20 278.41 L100.70 278.79 L101.20 279.17 L101.70 279.56 L102.20 279.94 L102.70 280.32 L103.20 280.70 L103.70 281.09 L104.20 281.47 L104.70 281.85 L105.20 282.23 L105.70 282.61 L106.20 283.00 L106.70 283.38 L107.20 283.76 L107.70 284.14 L108.20 284.52 L108.70 284.91 L109.20 285.29 L109.70 285.67 L110.20 286.05 L110.70 286.44 L111.20 286.82 L111.70 287.20 L112.20 287.58 L112.70 287.96 L113.20 288.35 L113.70 288.73 L114.20 289.11 L114.70 289.49 L115.20 289.87 L115.70 290.25 L116.20 290.63 L116.70 291.00 L117.20 291.38 L117.70 291.76 L118.20 292.14 L118.70 292.51 L119.20 292.89 L119.70 293.27 L120.20 293.64 L120.70 294.02 L121.20 294.40 L121.70 294.78 L122.20 295.15 L122.70 295.53 L123.20 295.91 L123.70 296.28 L124.20 296.66 L124.70 297.04 L125.20 297.42 L125.70 297.79 L126.20 298.17 L126.70 298.55 L127.20 298.93 L127.70 299.30 L128.20 299.68 L128.70 300.06 L129.20 300.43 L129.70 300.81 L130.20 301.19 L130.70 301.56 L131.20 301.93 L131.70 302.30 L132.20 302.67 L132.70 303.04 L133.20 303.41 L133.70 303.78 L134.20 304.15 L134.70 304.52 L135.20 304.89 L135.70 305.26 L136.20 305.63 L136.70 306.00 L137.20 306.37 L137.70 306.74 L138.20 307.11 L138.70 307.48 L139.20 307.85 L139.70 308.22 L139.70 314.50 L139.20 314.08 L138.70 313.65 L138.20 313.22 L137.70 312.80 L137.20 312.37 L136.70 311.95 L136.20 311.52 L135.70 311.09 L135.20 310.67 L134.70 310.24 L134.20 309.82 L133.70 309.39 L133.20 308.96 L132.70 308.54 L132.20 308.11 L131.70 307.69 L131.20 307.26 L130.70 306.83 L130.20 306.41 L129.70 305.99 L129.20 305.56 L128.70 305.14 L128.20 304.72 L127.70 304.30 L127.20 303.88 L126.70 303.46 L126.20 303.04 L125.70 302.62 L125.20 302.20 L124.70 301.78 L124.20 301.36 L123.70 300.94 L123.20 300.52 L122.70 300.10 L122.20 299.68 L121.70 299.26 L121.20 298.84 L120.70 298.42 L120.20 298.00 L119.70 297.58 L119.20 297.16 L118.70 296.74 L118.20 296.32 L117.70 295.90 L117.20 295.48 L116.70 295.06 L116.20 294.64 L115.70 294.22 L115.20 293.80 L114.70 293.38 L114.20 292.96 L113.70 292.55 L113.20 292.13 L112.70 291.71 L112.20 291.30 L111.70 290.88 L111.20 290.47 L110.70 290.05 L110.20 289.63 L109.70 289.22 L109.20 288.80 L108.70 288.38 L108.20 287.97 L107.70 287.55 L107.20 287.14 L106.70 286.72 L106.20 286.30 L105.70 285.89 L105.20 285.47 L104.70 285.06 L104.20 284.64 L103.70 284.22 L103.20 283.81 L102.70 283.39 L102.20 282.98 L101.70 282.56 L101.20 282.14 L100.70 281.73 L100.20 281.31 L99.70 280.90 L99.20 280.49 L98.70 280.07 L98.20 279.66 L97.70 279.25 L97.20 278.84 L96.70 278.43 L96.20 278.02 L95.70 277.61 L95.20 277.19 L94.70 276.78 L94.20 276.37 L93.70 275.96 L93.20 275.55 L92.70 275.14 L92.20 274.72 L91.70 274.31 L91.20 273.90 L90.70 273.49 L90.20 273.08 L89.70 272.67 L89.20 272.26 L88.70 271.84 L88.20 271.43 L87.70 271.02 L87.20 270.61 L86.70 270.20 L86.20 269.79 L85.70 269.37 L85.20 268.96 L84.70 268.55 L84.20 268.14 L83.70 267.73 L83.20 267.32 L82.70 266.90Z" fill="#0d0d0d"/>
<path d="M82.70 265.57 L82.84 265.73 L82.99 266.11 L83.13 266.49 L83.28 266.65 L83.42 266.62 L83.57 266.56 L83.71 266.49 L83.86 266.47 L84.01 266.63 L84.15 267.04 L84.30 267.44 L84.44 267.61 L84.59 267.57 L84.74 267.49 L84.88 267.41 L85.03 267.37 L85.18 267.55 L85.33 267.98 L85.48 268.40 L85.62 268.58 L85.77 268.54 L85.92 268.43 L86.07 268.33 L86.22 268.29 L86.37 268.47 L86.52 268.92 L86.66 269.38 L86.81 269.56 L86.93 269.53 L87.05 269.44 L87.17 269.33 L87.30 269.25 L87.42 269.21 L87.54 269.34 L87.66 269.68 L87.78 270.09 L87.90 270.43 L88.02 270.56 L88.14 270.52 L88.26 270.41 L88.38 270.29 L88.51 270.19 L88.63 270.15 L88.75 270.28 L88.87 270.64 L88.99 271.07 L89.12 271.43 L89.24 271.56 L89.36 271.52 L89.48 271.40 L89.61 271.26 L89.73 271.14 L89.85 271.10 L89.98 271.24 L90.10 271.61 L90.22 272.07 L90.35 272.44 L90.47 272.58 L90.60 272.53 L90.72 272.40 L90.85 272.23 L90.97 272.10 L91.09 272.05 L91.22 272.20 L91.34 272.59 L91.47 273.07 L91.60 273.46 L91.72 273.61 L91.85 273.55 L91.97 273.41 L92.10 273.23 L92.22 273.08 L92.35 273.02 L92.48 273.18 L92.60 273.59 L92.73 274.09 L92.86 274.49 L92.98 274.65 L93.11 274.59 L93.24 274.43 L93.37 274.23 L93.50 274.07 L93.62 274.01 L93.75 274.17 L93.88 274.59 L94.01 275.12 L94.14 275.54 L94.27 275.70 L94.39 275.64 L94.52 275.46 L94.65 275.24 L94.78 275.07 L94.91 275.00 L95.04 275.17 L95.17 275.61 L95.30 276.16 L95.43 276.60 L95.56 276.77 L95.69 276.70 L95.82 276.51 L95.96 276.27 L96.09 276.08 L96.22 276.01 L96.35 276.19 L96.48 276.65 L96.61 277.22 L96.74 277.68 L96.88 277.86 L97.01 277.78 L97.14 277.57 L97.28 277.32 L97.41 277.11 L97.54 277.03 L97.67 277.22 L97.81 277.70 L97.94 278.29 L98.08 278.77 L98.21 278.96 L98.34 278.87 L98.48 278.65 L98.61 278.38 L98.75 278.15 L98.88 278.07 L99.02 278.26 L99.15 278.76 L99.29 279.38 L99.43 279.88 L99.56 280.07 L99.70 279.98 L99.83 279.74 L99.97 279.45 L100.11 279.21 L100.24 279.12 L100.38 279.32 L100.52 279.84 L100.66 280.49 L100.80 281.01 L100.93 281.21 L101.07 281.11 L101.21 280.85 L101.35 280.53 L101.49 280.27 L101.63 280.17 L101.77 280.38 L101.91 280.93 L102.05 281.61 L102.19 282.16 L102.33 282.37 L102.47 282.26 L102.61 281.98 L102.75 281.63 L102.89 281.34 L103.03 281.24 L103.17 281.46 L103.31 282.04 L103.46 282.75 L103.60 283.33 L103.74 283.55 L103.88 283.43 L104.03 283.13 L104.17 282.75 L104.31 282.44 L104.45 282.32 L104.57 282.48 L104.69 282.93 L104.82 283.53 L104.94 284.14 L105.06 284.59 L105.18 284.75 L105.30 284.66 L105.42 284.42 L105.54 284.09 L105.66 283.75 L105.78 283.51 L105.90 283.42 L106.03 283.59 L106.15 284.06 L106.27 284.69 L106.39 285.33 L106.51 285.80 L106.64 285.97 L106.76 285.87 L106.88 285.61 L107.01 285.25 L107.13 284.90 L107.25 284.64 L107.38 284.54 L107.50 284.72 L107.62 285.21 L107.75 285.87 L107.87 286.54 L108.00 287.03 L108.12 287.21 L108.25 287.10 L108.37 286.82 L108.50 286.44 L108.62 286.06 L108.75 285.78 L108.87 285.68 L109.00 285.87 L109.13 286.38 L109.25 287.07 L109.38 287.77 L109.51 288.28 L109.63 288.47 L109.76 288.36 L109.89 288.06 L110.02 287.65 L110.14 287.25 L110.27 286.95 L110.40 286.84 L110.53 287.04 L110.66 287.57 L110.79 288.30 L110.92 289.02 L111.04 289.56 L111.17 289.75 L111.30 289.64 L111.43 289.32 L111.56 288.89 L111.69 288.46 L111.82 288.14 L111.95 288.03 L112.09 288.23 L112.22 288.78 L112.35 289.54 L112.48 290.30 L112.61 290.86 L112.74 291.06 L112.88 290.94 L113.01 290.60 L113.14 290.15 L113.27 289.69 L113.41 289.35 L113.54 289.23 L113.67 289.44 L113.81 290.02 L113.94 290.81 L114.07 291.60 L114.21 292.18 L114.34 292.39 L114.48 292.26 L114.61 291.91 L114.75 291.43 L114.88 290.94 L115.02 290.59 L115.16 290.46 L115.29 290.68 L115.43 291.29 L115.57 292.11 L115.70 292.94 L115.84 293.54 L115.98 293.77 L116.11 293.63 L116.25 293.25 L116.39 292.73 L116.53 292.21 L116.67 291.83 L116.81 291.70 L116.95 291.93 L117.09 292.57 L117.23 293.43 L117.37 294.30 L117.51 294.94 L117.64 295.17 L117.77 295.06 L117.89 294.76 L118.01 294.31 L118.13 293.82 L118.25 293.38 L118.37 293.07 L118.49 292.96 L118.62 293.14 L118.74 293.65 L118.86 294.38 L118.98 295.19 L119.11 295.92 L119.23 296.43 L119.35 296.61 L119.48 296.49 L119.60 296.17 L119.72 295.69 L119.85 295.17 L119.97 294.70 L120.10 294.37 L120.22 294.26 L120.34 294.44 L120.47 294.98 L120.60 295.74 L120.72 296.59 L120.85 297.36 L120.97 297.89 L121.10 298.08 L121.22 297.96 L121.35 297.61 L121.48 297.11 L121.61 296.55 L121.73 296.05 L121.86 295.70 L121.99 295.58 L122.12 295.78 L122.24 296.34 L122.37 297.14 L122.50 298.03 L122.63 298.84 L122.76 299.39 L122.89 299.59 L123.02 299.46 L123.15 299.09 L123.28 298.56 L123.41 297.97 L123.54 297.44 L123.67 297.07 L123.80 296.94 L123.93 297.15 L124.06 297.73 L124.20 298.57 L124.33 299.51 L124.46 300.35 L124.59 300.93 L124.72 301.14 L124.86 301.00 L124.99 300.61 L125.13 300.05 L125.26 299.43 L125.39 298.86 L125.53 298.47 L125.66 298.33 L125.80 298.55 L125.93 299.16 L126.07 300.04 L126.20 301.02 L126.34 301.90 L126.48 302.51 L126.61 302.73 L126.73 302.62 L126.85 302.30 L126.97 301.82 L127.09 301.25 L127.21 300.68 L127.33 300.20 L127.45 299.88 L127.58 299.77 L127.70 299.94 L127.82 300.44 L127.94 301.19 L128.06 302.07 L128.19 302.95 L128.31 303.69 L128.43 304.19 L128.55 304.37 L128.68 304.25 L128.80 303.91 L128.93 303.40 L129.05 302.81 L129.17 302.21 L129.30 301.70 L129.42 301.37 L129.55 301.25 L129.67 301.43 L129.80 301.95 L129.92 302.73 L130.05 303.65 L130.18 304.58 L130.30 305.36 L130.43 305.88 L130.55 306.06 L130.68 305.94 L130.81 305.58 L130.94 305.04 L131.07 304.41 L131.20 303.77 L131.32 303.23 L131.45 302.87 L131.58 302.75 L131.71 302.94 L131.84 303.49 L131.97 304.32 L132.10 305.29 L132.23 306.26 L132.36 307.09 L132.49 307.64 L132.62 307.83 L132.75 307.69 L132.89 307.31 L133.02 306.74 L133.15 306.06 L133.29 305.39 L133.42 304.81 L133.55 304.43 L133.68 304.29 L133.82 304.50 L133.95 305.08 L134.09 305.95 L134.22 306.98 L134.36 308.00 L134.49 308.87 L134.63 309.45 L134.76 309.66 L134.88 309.55 L135.01 309.22 L135.13 308.72 L135.25 308.10 L135.37 307.45 L135.50 306.84 L135.62 306.34 L135.74 306.01 L135.86 305.90 L135.99 306.07 L136.11 306.56 L136.24 307.31 L136.36 308.24 L136.49 309.22 L136.61 310.14 L136.73 310.90 L136.86 311.39 L136.98 311.56 L137.11 311.44 L137.24 311.09 L137.36 310.56 L137.49 309.91 L137.62 309.21 L137.75 308.56 L137.87 308.03 L138.00 307.68 L138.13 307.56 L138.26 307.74 L138.39 308.26 L138.52 309.05 L138.65 310.03 L138.78 311.07 L138.91 312.04 L139.04 312.84 L139.17 313.35 L139.29 313.53 L139.43 313.41 L139.56 313.04 L139.69 312.47 L139.83 311.78 L139.96 311.04 L140.09 310.35 L140.22 309.79 L140.36 309.42 L140.49 309.29 L140.61 309.44 L140.73 309.89 L140.85 310.59 L140.98 311.48 L141.10 312.45 L141.22 313.43 L141.34 314.31 L141.47 315.01 L141.59 315.46 L141.71 315.62 L141.83 315.51 L141.96 315.18 L142.08 314.68 L142.21 314.05 L142.33 313.34 L142.46 312.64 L142.58 312.01 L142.71 311.51 L142.83 311.18 L142.96 311.07 L143.09 311.24 L143.22 311.71 L143.34 312.46 L143.47 313.40 L143.60 314.44 L143.73 315.48 L143.86 316.42 L143.98 317.17 L144.11 317.65 L144.24 317.81 L144.37 317.69 L144.50 317.35 L144.64 316.81 L144.77 316.13 L144.90 315.38 L145.03 314.63 L145.16 313.95 L145.29 313.41 L145.43 313.06 L145.56 312.94 L145.68 313.09 L145.80 313.51 L145.93 314.18 L146.05 315.04 L146.17 316.02 L146.30 317.05 L146.42 318.03 L146.54 318.89 L146.66 319.55 L146.79 319.98 L146.91 320.12 L147.04 320.02 L147.16 319.71 L147.29 319.23 L147.42 318.60 L147.54 317.89 L147.67 317.15 L147.80 316.44 L147.92 315.82 L148.05 315.34 L148.18 315.03 L148.30 314.92 L148.43 315.08 L148.56 315.53 L148.69 316.24 L148.83 317.16 L148.96 318.21 L149.09 319.29 L149.22 320.34 L149.35 321.26 L149.48 321.97 L149.61 322.42 L149.74 322.58 L149.86 322.55 L149.98 322.48 L150.10 322.36 L150.22 322.20 L150.34 322.01 L150.47 321.77 L150.59 321.50 L150.71 321.21 L150.83 320.90 L150.95 320.57 L151.07 320.24 L151.19 319.91 L151.31 319.58 L151.43 319.27 L151.55 318.97 L151.67 318.71 L151.80 318.47 L151.92 318.27 L152.04 318.11 L152.16 317.99 L152.28 317.92 L152.40 317.90 L152.52 318.00 L152.65 318.30 L152.77 318.78 L152.89 319.41 L153.02 320.16 L153.14 320.98 L153.26 321.82 L153.38 322.64 L153.51 323.39 L153.63 324.02 L153.75 324.50 L153.88 324.80 L154.00 324.90 L154.12 324.82 L154.25 324.60 L154.38 324.24 L154.50 323.77 L154.62 323.23 L154.75 322.65 L154.88 322.07 L155.00 321.52 L155.12 321.06 L155.25 320.70 L155.38 320.48 L155.50 320.40 L155.63 320.48 L155.75 320.70 L155.88 321.07 L156.01 321.56 L156.13 322.15 L156.26 322.82 L156.39 323.53 L156.51 324.27 L156.64 324.98 L156.77 325.65 L156.89 326.24 L157.02 326.73 L157.15 327.10 L157.27 327.32 L157.40 327.40 L157.52 327.34 L157.64 327.17 L157.76 326.89 L157.89 326.52 L158.01 326.07 L158.13 325.57 L158.25 325.05 L158.37 324.53 L158.49 324.03 L158.61 323.58 L158.74 323.21 L158.86 322.93 L158.98 322.76 L159.10 322.70 L159.23 322.78 L159.35 323.02 L159.48 323.40 L159.61 323.91 L159.73 324.52 L159.86 325.22 L159.99 325.97 L160.11 326.73 L160.24 327.48 L160.37 328.18 L160.49 328.79 L160.62 329.30 L160.75 329.68 L160.87 329.92 L161.00 330.00 L161.12 329.94 L161.24 329.78 L161.36 329.51 L161.48 329.16 L161.60 328.73 L161.72 328.24 L161.84 327.72 L161.96 327.18 L162.08 326.66 L162.20 326.18 L162.32 325.74 L162.44 325.39 L162.56 325.12 L162.68 324.96 L162.80 324.90 L162.93 324.99 L163.05 325.26 L163.18 325.69 L163.31 326.27 L163.43 326.97 L163.56 327.77 L163.69 328.62 L163.81 329.48 L163.94 330.33 L164.07 331.12 L164.19 331.83 L164.32 332.41 L164.45 332.84 L164.57 333.11 L164.70 333.20 L164.82 333.12 L164.95 332.87 L165.07 332.47 L165.19 331.95 L165.32 331.33 L165.44 330.65 L165.56 329.95 L165.68 329.27 L165.81 328.65 L165.93 328.13 L166.05 327.73 L166.18 327.48 L166.30 327.40 L166.42 327.49 L166.54 327.75 L166.67 328.17 L166.79 328.75 L166.91 329.45 L167.03 330.27 L167.16 331.18 L167.28 332.15 L167.40 333.15 L167.52 334.15 L167.64 335.12 L167.77 336.02 L167.89 336.85 L168.01 337.55 L168.13 338.13 L168.26 338.55 L168.38 338.81 L168.50 338.90 L168.63 338.80 L168.75 338.52 L168.88 338.05 L169.01 337.43 L169.13 336.68 L169.26 335.83 L169.39 334.92 L169.51 333.98 L169.64 333.07 L169.77 332.23 L169.89 331.47 L170.02 330.85 L170.15 330.38 L170.27 330.10 L170.40 330.00 L170.52 330.06 L170.64 330.25 L170.76 330.56 L170.88 330.98 L171.00 331.51 L171.12 332.14 L171.25 332.86 L171.37 333.65 L171.49 334.51 L171.61 335.41 L171.73 336.35 L171.85 337.30 L171.97 338.25 L172.09 339.19 L172.21 340.09 L172.33 340.95 L172.45 341.74 L172.58 342.46 L172.70 343.09 L172.82 343.62 L172.94 344.04 L173.06 344.35 L173.18 344.54 L173.30 344.60 L173.42 344.58 L173.54 344.50 L173.67 344.38 L173.79 344.21 L173.91 344.00 L174.03 343.74 L174.15 343.44 L174.28 343.11 L174.40 342.74 L174.52 342.33 L174.64 341.90 L174.76 341.45 L174.88 340.98 L175.01 340.49 L175.13 340.00 L175.25 339.50 L175.37 339.00 L175.49 338.51 L175.62 338.02 L175.74 337.55 L175.86 337.10 L175.98 336.67 L176.10 336.26 L176.22 335.89 L176.35 335.56 L176.47 335.26 L176.59 335.00 L176.71 334.79 L176.83 334.62 L176.96 334.50 L177.08 334.42 L177.20 334.40 L177.31 334.60 L177.44 334.82 L177.61 335.08 L177.79 335.39 L177.99 335.77 L178.20 336.24 L178.40 336.81 L178.60 337.50 L178.80 338.36 L179.00 339.41 L179.20 340.58 L179.41 341.83 L179.63 343.10 L179.85 344.34 L180.07 345.49 L180.30 346.50 L180.53 347.42 L180.77 348.32 L181.02 349.19 L181.27 349.99 L181.52 350.73 L181.78 351.37 L182.04 351.90 L182.30 352.30 L182.57 352.55 L182.84 352.67 L183.12 352.67 L183.40 352.57 L183.68 352.42 L183.96 352.22 L184.23 352.01 L184.50 351.80 L184.76 351.56 L185.01 351.26 L185.26 350.90 L185.51 350.52 L185.75 350.14 L186.00 349.77 L186.25 349.45 L186.50 349.20 L186.74 349.01 L186.96 348.86 L187.18 348.75 L187.40 348.66 L187.64 348.58 L187.91 348.52 L188.23 348.46 L188.60 348.40 L189.04 348.34 L189.52 348.28 L190.06 348.23 L190.62 348.19 L191.20 348.15 L191.80 348.13 L192.41 348.11 L193.00 348.10 L193.62 348.10 L194.28 348.10 L194.97 348.11 L195.66 348.13 L196.33 348.15 L196.96 348.19 L197.52 348.24 L198.00 348.30 L198.38 348.36 L198.69 348.42 L198.94 348.48 L199.14 348.56 L199.31 348.66 L199.47 348.79 L199.63 348.97 L199.80 349.20 L199.98 349.47 L200.14 349.77 L200.29 350.10 L200.43 350.47 L200.57 350.89 L200.71 351.36 L200.85 351.89 L201.00 352.50 L201.16 353.20 L201.31 354.00 L201.47 354.88 L201.62 355.80 L201.79 356.75 L201.95 357.70 L202.12 358.62 L202.30 359.50 L202.49 360.40 L202.69 361.37 L202.90 362.37 L203.11 363.34 L203.32 364.24 L203.53 365.02 L203.72 365.62 L203.90 366.00 L204.06 366.13 L204.22 366.04 L204.36 365.78 L204.50 365.39 L204.63 364.93 L204.76 364.43 L204.88 363.94 L205.00 363.50 L205.12 363.06 L205.24 362.55 L205.36 362.00 L205.47 361.44 L205.57 360.90 L205.66 360.41 L205.74 360.00 L205.80 359.70 L205.92 359.83 L206.05 360.23 L206.17 360.86 L206.29 361.70 L206.42 362.68 L206.54 363.77 L206.66 364.88 L206.78 365.96 L206.91 366.95 L207.03 367.79 L207.15 368.42 L207.28 368.82 L207.40 368.95 L207.53 368.86 L207.66 368.61 L207.79 368.21 L207.92 367.69 L208.05 367.08 L208.18 366.42 L208.31 365.77 L208.44 365.16 L208.57 364.64 L208.69 364.24 L208.82 363.98 L208.95 363.90 L209.08 364.02 L209.20 364.39 L209.33 364.98 L209.45 365.75 L209.57 366.65 L209.70 367.61 L209.82 368.57 L209.95 369.46 L210.07 370.23 L210.19 370.82 L210.32 371.19 L210.44 371.32 L210.57 371.22 L210.70 370.92 L210.83 370.45 L210.96 369.85 L211.09 369.17 L211.22 368.45 L211.35 367.77 L211.48 367.17 L211.61 366.70 L211.74 366.40 L211.87 366.30 L212.00 366.45 L212.12 366.87 L212.25 367.54 L212.37 368.41 L212.50 369.39 L212.63 370.42 L212.75 371.40 L212.88 372.27 L213.00 372.94 L213.13 373.36 L213.25 373.51 L213.37 373.41 L213.49 373.12 L213.62 372.65 L213.74 372.05 L213.86 371.38 L213.98 370.67 L214.10 369.99 L214.22 369.39 L214.34 368.93 L214.46 368.63 L214.59 368.53 L214.71 368.70 L214.84 369.20 L214.97 369.98 L215.10 370.95 L215.23 372.04 L215.36 373.12 L215.49 374.10 L215.62 374.87 L215.75 375.37 L215.88 375.54 L216.00 375.42 L216.13 375.07 L216.25 374.53 L216.38 373.86 L216.50 373.10 L216.63 372.35 L216.75 371.67 L216.88 371.13 L217.01 370.78 L217.13 370.66 L217.25 370.83 L217.37 371.31 L217.50 372.06 L217.62 373.00 L217.74 374.04 L217.86 375.09 L217.98 376.03 L218.11 376.78 L218.23 377.26 L218.35 377.42 L218.48 377.28 L218.61 376.87 L218.74 376.24 L218.88 375.46 L219.01 374.64 L219.14 373.87 L219.27 373.24 L219.40 372.83 L219.54 372.69 L219.66 372.88 L219.79 373.45 L219.92 374.32 L220.05 375.38 L220.18 376.51 L220.31 377.58 L220.44 378.44 L220.56 379.01 L220.69 379.20 L220.82 379.07 L220.94 378.67 L221.07 378.06 L221.19 377.31 L221.32 376.51 L221.45 375.76 L221.57 375.15 L221.70 374.75 L221.82 374.61 L221.94 374.80 L222.07 375.35 L222.19 376.18 L222.31 377.21 L222.44 378.30 L222.56 379.33 L222.68 380.17 L222.80 380.71 L222.93 380.90 L223.06 380.73 L223.20 380.25 L223.33 379.53 L223.47 378.68 L223.60 377.82 L223.74 377.10 L223.87 376.62 L224.01 376.45 L224.14 376.68 L224.27 377.34 L224.40 378.32 L224.54 379.49 L224.67 380.65 L224.80 381.64 L224.93 382.30 L225.06 382.53 L225.19 382.37 L225.32 381.90 L225.45 381.20 L225.58 380.37 L225.71 379.55 L225.84 378.85 L225.97 378.38 L226.10 378.21 L226.23 378.44 L226.35 379.07 L226.48 380.03 L226.61 381.15 L226.74 382.27 L226.86 383.22 L226.99 383.86 L227.12 384.08 L227.24 383.92 L227.37 383.47 L227.49 382.80 L227.62 382.00 L227.74 381.21 L227.87 380.53 L227.99 380.08 L228.11 379.92 L228.24 380.14 L228.36 380.75 L228.48 381.67 L228.60 382.75 L228.73 383.83 L228.85 384.74 L228.97 385.36 L229.09 385.57 L229.22 385.42 L229.34 384.99 L229.46 384.34 L229.58 383.57 L229.70 382.81 L229.82 382.16 L229.94 381.72 L230.06 381.57 L230.19 381.84 L230.33 382.59 L230.46 383.69 L230.60 384.90 L230.73 385.99 L230.87 386.74 L231.01 387.01 L231.14 386.82 L231.27 386.29 L231.41 385.52 L231.54 384.66 L231.67 383.89 L231.80 383.35 L231.94 383.16 L232.07 383.42 L232.20 384.15 L232.33 385.20 L232.46 386.37 L232.59 387.42 L232.72 388.15 L232.86 388.41 L232.98 388.22 L233.11 387.71 L233.24 386.97 L233.37 386.15 L233.50 385.40 L233.63 384.89 L233.76 384.71 L233.89 384.96 L234.01 385.66 L234.14 386.67 L234.27 387.80 L234.40 388.81 L234.52 389.51 L234.65 389.76 L234.78 389.59 L234.90 389.09 L235.03 388.38 L235.15 387.59 L235.28 386.88 L235.40 386.38 L235.53 386.21 L235.65 386.45 L235.77 387.12 L235.90 388.10 L236.02 389.18 L236.15 390.16 L236.27 390.84 L236.39 391.08 L236.52 390.91 L236.64 390.43 L236.76 389.75 L236.88 388.99 L237.00 388.31 L237.13 387.83 L237.25 387.66 L237.37 387.90 L237.49 388.55 L237.61 389.49 L237.73 390.53 L237.85 391.47 L237.97 392.12 L238.09 392.36 L238.23 392.14 L238.37 391.54 L238.51 390.72 L238.65 389.90 L238.78 389.30 L238.92 389.08 L239.06 389.39 L239.20 390.21 L239.33 391.34 L239.47 392.47 L239.61 393.30 L239.74 393.60 L239.88 393.39 L240.02 392.82 L240.15 392.04 L240.29 391.26 L240.42 390.68 L240.56 390.47 L240.69 390.76 L240.82 391.56 L240.96 392.64 L241.09 393.73 L241.22 394.52 L241.36 394.81 L241.49 394.61 L241.62 394.07 L241.76 393.32 L241.89 392.58 L242.02 392.04 L242.15 391.84 L242.28 392.12 L242.41 392.88 L242.54 393.91 L242.67 394.95 L242.80 395.71 L242.94 395.99 L243.06 395.80 L243.19 395.28 L243.32 394.58 L243.45 393.88 L243.58 393.36 L243.71 393.17 L243.84 393.44 L243.97 394.16 L244.09 395.16 L244.22 396.15 L244.35 396.88 L244.48 397.14 L244.60 396.96 L244.73 396.47 L244.86 395.81 L244.98 395.14 L245.11 394.65 L245.24 394.48 L245.36 394.73 L245.49 395.42 L245.61 396.37 L245.74 397.32 L245.86 398.01 L245.99 398.27 L246.11 398.10 L246.24 397.64 L246.36 397.01 L246.48 396.38 L246.61 395.92 L246.73 395.75 L246.85 396.00 L246.98 396.66 L247.10 397.56 L247.22 398.47 L247.34 399.13 L247.47 399.37 L247.59 399.21 L247.71 398.78 L247.83 398.19 L247.95 397.60 L248.07 397.17 L248.20 397.01 L248.32 397.24 L248.44 397.87 L248.56 398.73 L248.68 399.59 L248.80 400.23 L248.92 400.46 L249.06 400.24 L249.20 399.69 L249.35 399.00 L249.49 398.45 L249.63 398.24 L249.77 398.55 L249.92 399.37 L250.06 400.38 L250.20 401.21 L250.34 401.52 L250.48 401.32 L250.62 400.80 L250.76 400.16 L250.90 399.64 L251.04 399.44 L251.18 399.74 L251.32 400.52 L251.46 401.48 L251.60 402.27 L251.74 402.56 L251.88 402.38 L252.01 401.89 L252.15 401.30 L252.29 400.81 L252.43 400.63" fill="none" stroke="#0d0d0d" stroke-width="1.45" stroke-linejoin="round" stroke-linecap="round" />
<path d="M222.00 375.30 L222.50 375.68 L223.00 376.05 L223.50 376.42 L224.00 376.79 L224.50 377.17 L225.00 377.54 L225.50 377.92 L226.00 378.29 L226.50 378.67 L227.00 379.04 L227.50 379.42 L228.00 379.79 L228.50 380.17 L229.00 380.54 L229.50 380.92 L230.00 381.29 L230.50 381.71 L231.00 382.13 L231.50 382.55 L232.00 382.97 L232.50 383.39 L233.00 383.81 L233.50 384.23 L234.00 384.65 L234.50 385.07 L235.00 385.49 L235.50 385.90 L236.00 386.32 L236.50 386.74 L237.00 387.16 L237.50 387.58 L238.00 388.00 L238.50 388.42 L239.00 388.84 L239.50 389.26 L240.00 389.68 L240.50 390.10 L241.00 390.52 L241.50 390.94 L242.00 391.37 L242.50 391.79 L243.00 392.21 L243.50 392.63 L244.00 393.05 L244.50 393.48 L245.00 393.90 L245.50 394.32 L246.00 394.74 L246.50 395.17 L247.00 395.59 L247.50 396.01 L248.00 396.43 L248.50 396.85 L249.00 397.28 L249.50 397.70 L250.00 398.12 L250.50 398.54 L251.00 398.97 L251.50 399.39 L252.00 399.81 L252.50 400.23 L252.50 403.59 L252.00 403.21 L251.50 402.83 L251.00 402.45 L250.50 402.07 L250.00 401.69 L249.50 401.31 L249.00 400.94 L248.50 400.56 L248.00 400.18 L247.50 399.80 L247.00 399.42 L246.50 399.04 L246.00 398.66 L245.50 398.28 L245.00 397.91 L244.50 397.53 L244.00 397.15 L243.50 396.77 L243.00 396.39 L242.50 396.01 L242.00 395.63 L241.50 395.25 L241.00 394.87 L240.50 394.50 L240.00 394.12 L239.50 393.74 L239.00 393.35 L238.50 392.97 L238.00 392.59 L237.50 392.21 L237.00 391.83 L236.50 391.44 L236.00 391.06 L235.50 390.68 L235.00 390.30 L234.50 389.92 L234.00 389.54 L233.50 389.15 L233.00 388.77 L232.50 388.39 L232.00 388.01 L231.50 387.63 L231.00 387.24 L230.50 386.86 L230.00 386.48 L229.50 386.06 L229.00 385.63 L228.50 385.20 L228.00 384.78 L227.50 384.35 L227.00 383.93 L226.50 383.50 L226.00 383.08 L225.50 382.65 L225.00 382.22 L224.50 381.80 L224.00 381.37 L223.50 380.94 L223.00 380.51 L222.50 380.08 L222.00 379.66Z" fill="#0d0d0d"/>
<path d="M116.8 272.9L159 304.6" stroke="#c45a5a" stroke-width="0.85"/>
<path d="M156.1 307.2L160.8 301.8L164.2 308.8Z" fill="#d40000"/>
<text x="172.4" y="263.1" font-size="10" text-anchor="start" fill="#9a5cc9"  stroke="#9a5cc9" stroke-width="0.2">Frequency locking</text>
<rect x="60.7" y="243.7" width="217.5" height="174.8" fill="none" stroke="#505050" stroke-width="1.1"/>
<path d="M57.1 243.7H60.7M57.1 278.66H60.7M57.1 313.62H60.7M57.1 348.58H60.7M57.1 383.54H60.7M57.1 418.5H60.7M58.7 261.18H60.7M58.7 296.14H60.7M58.7 331.1H60.7M58.7 366.06H60.7M58.7 401.02H60.7M274.6 243.7H278.2M274.6 278.66H278.2M274.6 313.62H278.2M274.6 348.58H278.2M274.6 383.54H278.2M274.6 418.5H278.2M276.2 261.18H278.2M276.2 296.14H278.2M276.2 331.1H278.2M276.2 366.06H278.2M276.2 401.02H278.2" stroke="#505050" stroke-width="1" fill="none"/>
<text x="55.4" y="246.9" font-size="10" text-anchor="end" fill="#262626" stroke="#262626" stroke-width="0.2">1.00006</text>
<text x="55.4" y="281.86" font-size="10" text-anchor="end" fill="#262626" stroke="#262626" stroke-width="0.2">1.00004</text>
<text x="55.4" y="316.82" font-size="10" text-anchor="end" fill="#262626" stroke="#262626" stroke-width="0.2">1.00002</text>
<text x="55.4" y="351.78" font-size="10" text-anchor="end" fill="#262626" stroke="#262626" stroke-width="0.2">1.00000</text>
<text x="55.4" y="386.74" font-size="10" text-anchor="end" fill="#262626" stroke="#262626" stroke-width="0.2">0.99998</text>
<text x="55.4" y="421.7" font-size="10" text-anchor="end" fill="#262626" stroke="#262626" stroke-width="0.2">0.99996</text>
<path d="M82.4 418.5V421.7M125.9 418.5V421.7M169.4 418.5V421.7M212.9 418.5V421.7M256.4 418.5V421.7M104.15 418.5V420.3M147.65 418.5V420.3M191.15 418.5V420.3M234.65 418.5V420.3" stroke="#505050" stroke-width="1" fill="none"/>
<text x="82.4" y="433.3" font-size="10" text-anchor="middle" fill="#262626" stroke="#262626" stroke-width="0.2">0</text>
<text x="125.9" y="433.3" font-size="10" text-anchor="middle" fill="#262626" stroke="#262626" stroke-width="0.2">5</text>
<text x="169.4" y="433.3" font-size="10" text-anchor="middle" fill="#262626" stroke="#262626" stroke-width="0.2">10</text>
<text x="212.9" y="433.3" font-size="10" text-anchor="middle" fill="#262626" stroke="#262626" stroke-width="0.2">15</text>
<text x="256.4" y="433.3" font-size="10" text-anchor="middle" fill="#262626" stroke="#262626" stroke-width="0.2">20</text>
<text x="169.7" y="449.3" font-size="10.4" text-anchor="middle" fill="#262626"  stroke="#262626" stroke-width="0.2">Time (s)</text>
<text transform="translate(13.4,331.5) rotate(-90)" font-size="11" text-anchor="middle" fill="#262626" stroke="#262626" stroke-width="0.2">Ω<tspan font-size="6.8" dy="2.2">s</tspan><tspan dy="-2.2">/Ω</tspan></text>
<text x="299.3" y="231" style="font-family:Liberation Serif;font-weight:bold" font-size="14" fill="#111" stroke="#111" stroke-width="0.2">(d)</text>
<path d="M333 303.5H540" stroke="#b04a55" stroke-width="1.1" stroke-dasharray="3.4 2.6"/>
<path d="M352.00 406.25 L352.13 406.26 L352.25 406.28 L352.38 406.31 L352.51 406.34 L352.63 406.36 L352.76 406.37 L352.89 406.28 L353.01 406.04 L353.14 405.70 L353.27 405.37 L353.40 405.13 L353.52 405.04 L353.65 405.05 L353.78 405.08 L353.91 405.12 L354.04 405.15 L354.16 405.18 L354.29 405.19 L354.42 405.10 L354.55 404.85 L354.68 404.51 L354.81 404.16 L354.94 403.91 L355.07 403.82 L355.19 403.83 L355.32 403.87 L355.45 403.91 L355.58 403.96 L355.71 403.99 L355.84 404.00 L355.97 403.91 L356.10 403.65 L356.23 403.29 L356.36 402.94 L356.49 402.68 L356.62 402.59 L356.75 402.60 L356.88 402.64 L357.02 402.69 L357.15 402.75 L357.28 402.79 L357.41 402.80 L357.54 402.70 L357.67 402.43 L357.80 402.07 L357.93 401.70 L358.07 401.44 L358.20 401.34 L358.33 401.35 L358.46 401.40 L358.59 401.46 L358.73 401.52 L358.86 401.57 L358.99 401.58 L359.13 401.48 L359.26 401.21 L359.39 400.83 L359.52 400.45 L359.66 400.18 L359.79 400.08 L359.92 400.09 L360.06 400.15 L360.19 400.21 L360.33 400.28 L360.46 400.34 L360.59 400.35 L360.73 400.25 L360.86 399.97 L361.00 399.58 L361.13 399.19 L361.27 398.90 L361.40 398.80 L361.54 398.82 L361.67 398.88 L361.81 398.95 L361.94 399.03 L362.08 399.09 L362.22 399.11 L362.35 399.00 L362.49 398.71 L362.62 398.31 L362.76 397.91 L362.90 397.61 L363.03 397.51 L363.17 397.53 L363.31 397.59 L363.44 397.68 L363.58 397.76 L363.72 397.83 L363.86 397.85 L363.99 397.74 L364.13 397.44 L364.27 397.02 L364.41 396.61 L364.55 396.31 L364.68 396.20 L364.82 396.22 L364.96 396.29 L365.10 396.39 L365.24 396.48 L365.38 396.55 L365.52 396.58 L365.66 396.46 L365.80 396.15 L365.94 395.72 L366.08 395.30 L366.22 394.99 L366.36 394.87 L366.48 394.89 L366.60 394.95 L366.72 395.03 L366.84 395.12 L366.96 395.21 L367.08 395.26 L367.20 395.28 L367.32 395.20 L367.44 394.95 L367.56 394.60 L367.69 394.21 L367.81 393.86 L367.93 393.62 L368.05 393.53 L368.17 393.55 L368.29 393.61 L368.42 393.70 L368.54 393.80 L368.66 393.89 L368.78 393.95 L368.90 393.98 L369.03 393.89 L369.15 393.64 L369.27 393.27 L369.40 392.87 L369.52 392.51 L369.64 392.26 L369.77 392.17 L369.89 392.19 L370.01 392.26 L370.14 392.36 L370.26 392.46 L370.38 392.56 L370.51 392.63 L370.63 392.65 L370.76 392.56 L370.88 392.30 L371.01 391.93 L371.13 391.51 L371.25 391.14 L371.38 390.88 L371.50 390.79 L371.63 390.82 L371.76 390.89 L371.88 390.99 L372.01 391.11 L372.13 391.21 L372.26 391.28 L372.38 391.31 L372.51 391.21 L372.64 390.95 L372.76 390.56 L372.89 390.14 L373.01 389.76 L373.14 389.49 L373.27 389.40 L373.40 389.42 L373.52 389.50 L373.65 389.61 L373.78 389.73 L373.90 389.84 L374.03 389.92 L374.16 389.94 L374.29 389.85 L374.42 389.57 L374.54 389.18 L374.67 388.74 L374.80 388.35 L374.93 388.07 L375.06 387.98 L375.19 388.01 L375.31 388.09 L375.44 388.20 L375.57 388.33 L375.70 388.45 L375.83 388.53 L375.96 388.56 L376.09 388.46 L376.22 388.18 L376.35 387.77 L376.48 387.32 L376.61 386.92 L376.74 386.64 L376.87 386.54 L377.00 386.57 L377.13 386.66 L377.27 386.78 L377.40 386.92 L377.53 387.04 L377.66 387.13 L377.79 387.16 L377.92 387.05 L378.05 386.77 L378.19 386.35 L378.32 385.89 L378.45 385.47 L378.58 385.18 L378.71 385.08 L378.85 385.11 L378.98 385.20 L379.11 385.33 L379.25 385.48 L379.38 385.61 L379.51 385.70 L379.65 385.73 L379.78 385.62 L379.92 385.33 L380.05 384.90 L380.18 384.42 L380.32 383.99 L380.45 383.69 L380.59 383.59 L380.72 383.62 L380.86 383.72 L380.99 383.87 L381.13 384.03 L381.26 384.17 L381.40 384.27 L381.53 384.30 L381.67 384.19 L381.81 383.88 L381.94 383.43 L382.08 382.93 L382.22 382.48 L382.35 382.16 L382.49 382.05 L382.61 382.08 L382.73 382.17 L382.85 382.30 L382.97 382.46 L383.09 382.61 L383.21 382.74 L383.33 382.83 L383.45 382.86 L383.57 382.77 L383.70 382.51 L383.82 382.13 L383.94 381.68 L384.06 381.22 L384.18 380.84 L384.30 380.58 L384.42 380.49 L384.55 380.53 L384.67 380.62 L384.79 380.77 L384.91 380.94 L385.04 381.11 L385.16 381.26 L385.28 381.36 L385.40 381.39 L385.53 381.29 L385.65 381.03 L385.77 380.62 L385.90 380.15 L386.02 379.67 L386.14 379.27 L386.27 379.00 L386.39 378.90 L386.52 378.94 L386.64 379.05 L386.77 379.21 L386.89 379.40 L387.02 379.59 L387.14 379.75 L387.26 379.86 L387.39 379.89 L387.52 379.79 L387.64 379.51 L387.77 379.09 L387.89 378.59 L388.02 378.09 L388.14 377.67 L388.27 377.39 L388.40 377.29 L388.52 377.33 L388.65 377.45 L388.78 377.62 L388.90 377.83 L389.03 378.04 L389.16 378.21 L389.28 378.33 L389.41 378.37 L389.54 378.27 L389.67 377.97 L389.80 377.53 L389.92 377.01 L390.05 376.48 L390.18 376.04 L390.31 375.75 L390.44 375.64 L390.57 375.69 L390.70 375.81 L390.82 376.00 L390.95 376.23 L391.08 376.45 L391.21 376.65 L391.34 376.77 L391.47 376.82 L391.60 376.71 L391.73 376.40 L391.86 375.94 L391.99 375.39 L392.13 374.84 L392.26 374.38 L392.39 374.07 L392.52 373.96 L392.65 374.01 L392.78 374.15 L392.91 374.36 L393.04 374.60 L393.18 374.84 L393.31 375.05 L393.44 375.19 L393.57 375.24 L393.71 375.12 L393.84 374.80 L393.97 374.31 L394.11 373.74 L394.24 373.17 L394.37 372.69 L394.51 372.36 L394.64 372.25 L394.77 372.30 L394.91 372.45 L395.04 372.68 L395.18 372.95 L395.31 373.21 L395.45 373.44 L395.58 373.59 L395.72 373.64 L395.84 373.55 L395.96 373.27 L396.08 372.84 L396.20 372.32 L396.32 371.77 L396.44 371.24 L396.56 370.82 L396.69 370.54 L396.81 370.44 L396.93 370.49 L397.05 370.63 L397.17 370.85 L397.30 371.11 L397.42 371.40 L397.54 371.66 L397.66 371.88 L397.79 372.02 L397.91 372.07 L398.03 371.96 L398.16 371.66 L398.28 371.20 L398.40 370.63 L398.53 370.02 L398.65 369.45 L398.77 368.99 L398.90 368.69 L399.02 368.58 L399.15 368.64 L399.27 368.80 L399.40 369.05 L399.52 369.36 L399.65 369.68 L399.77 369.99 L399.90 370.23 L400.02 370.40 L400.15 370.45 L400.27 370.34 L400.40 370.01 L400.53 369.51 L400.65 368.89 L400.78 368.24 L400.91 367.62 L401.03 367.12 L401.16 366.79 L401.29 366.68 L401.41 366.74 L401.54 366.93 L401.67 367.21 L401.80 367.56 L401.93 367.93 L402.06 368.27 L402.18 368.56 L402.31 368.74 L402.44 368.80 L402.57 368.68 L402.70 368.33 L402.83 367.79 L402.96 367.12 L403.09 366.41 L403.22 365.75 L403.35 365.21 L403.48 364.85 L403.61 364.73 L403.74 364.80 L403.87 365.01 L404.00 365.33 L404.13 365.71 L404.26 366.13 L404.39 366.52 L404.53 366.83 L404.66 367.04 L404.79 367.11 L404.92 366.98 L405.05 366.60 L405.19 366.02 L405.32 365.30 L405.45 364.54 L405.59 363.83 L405.72 363.25 L405.85 362.86 L405.98 362.73 L406.11 362.80 L406.23 362.99 L406.35 363.28 L406.47 363.65 L406.59 364.06 L406.71 364.46 L406.83 364.83 L406.95 365.13 L407.08 365.31 L407.20 365.38 L407.32 365.26 L407.44 364.93 L407.57 364.41 L407.69 363.76 L407.81 363.03 L407.93 362.30 L408.06 361.65 L408.18 361.13 L408.30 360.80 L408.43 360.68 L408.55 360.75 L408.68 360.96 L408.80 361.28 L408.92 361.69 L409.05 362.14 L409.17 362.59 L409.30 363.00 L409.42 363.32 L409.55 363.52 L409.67 363.60 L409.80 363.47 L409.93 363.11 L410.05 362.55 L410.18 361.85 L410.30 361.07 L410.43 360.29 L410.56 359.59 L410.68 359.03 L410.81 358.67 L410.94 358.55 L411.06 358.63 L411.19 358.86 L411.32 359.22 L411.45 359.68 L411.58 360.19 L411.71 360.69 L411.83 361.15 L411.96 361.52 L412.09 361.75 L412.22 361.83 L412.35 361.69 L412.48 361.30 L412.61 360.69 L412.74 359.92 L412.87 359.06 L413.00 358.21 L413.13 357.44 L413.26 356.82 L413.39 356.43 L413.52 356.30 L413.64 356.37 L413.76 356.59 L413.88 356.94 L414.00 357.38 L414.12 357.89 L414.24 358.42 L414.36 358.93 L414.48 359.38 L414.60 359.72 L414.72 359.94 L414.84 360.02 L414.97 359.90 L415.09 359.54 L415.21 358.98 L415.33 358.25 L415.45 357.43 L415.58 356.57 L415.70 355.74 L415.82 355.02 L415.94 354.46 L416.07 354.10 L416.19 353.98 L416.31 354.06 L416.44 354.31 L416.56 354.70 L416.68 355.20 L416.81 355.77 L416.93 356.36 L417.06 356.93 L417.18 357.43 L417.31 357.82 L417.43 358.06 L417.55 358.15 L417.68 358.01 L417.81 357.63 L417.93 357.01 L418.06 356.23 L418.19 355.33 L418.31 354.40 L418.44 353.50 L418.56 352.71 L418.69 352.10 L418.82 351.71 L418.94 351.58 L419.07 351.67 L419.20 351.95 L419.33 352.38 L419.46 352.93 L419.59 353.57 L419.72 354.23 L419.84 354.86 L419.97 355.42 L420.10 355.85 L420.23 356.12 L420.36 356.22 L420.48 356.09 L420.60 355.74 L420.72 355.17 L420.84 354.43 L420.96 353.57 L421.08 352.65 L421.20 351.72 L421.32 350.86 L421.44 350.12 L421.56 349.55 L421.68 349.20 L421.80 349.08 L421.92 349.16 L422.04 349.42 L422.17 349.83 L422.29 350.37 L422.41 350.99 L422.53 351.66 L422.66 352.33 L422.78 352.95 L422.90 353.48 L423.02 353.89 L423.15 354.15 L423.27 354.24 L423.39 354.15 L423.51 353.88 L423.63 353.44 L423.75 352.86 L423.87 352.14 L423.99 351.32 L424.11 350.44 L424.23 349.52 L424.35 348.60 L424.48 347.71 L424.60 346.90 L424.72 346.18 L424.84 345.60 L424.96 345.16 L425.08 344.89 L425.20 344.80 L425.33 344.94 L425.45 345.34 L425.58 345.97 L425.71 346.79 L425.84 347.72 L425.96 348.68 L426.09 349.61 L426.22 350.43 L426.35 351.06 L426.47 351.46 L426.60 351.60 L426.73 351.50 L426.85 351.20 L426.98 350.72 L427.11 350.08 L427.23 349.30 L427.36 348.42 L427.49 347.48 L427.61 346.52 L427.74 345.58 L427.87 344.70 L427.99 343.92 L428.12 343.28 L428.25 342.80 L428.37 342.50 L428.50 342.40 L428.63 342.58 L428.76 343.10 L428.89 343.90 L429.02 344.92 L429.15 346.05 L429.28 347.18 L429.41 348.20 L429.54 349.00 L429.67 349.52 L429.80 349.70 L429.93 349.59 L430.05 349.28 L430.18 348.76 L430.31 348.08 L430.43 347.25 L430.56 346.31 L430.69 345.31 L430.81 344.29 L430.94 343.29 L431.07 342.35 L431.19 341.52 L431.32 340.84 L431.45 340.32 L431.57 340.01 L431.70 339.90 L431.82 339.99 L431.94 340.27 L432.06 340.71 L432.19 341.29 L432.31 341.99 L432.43 342.78 L432.55 343.60 L432.67 344.42 L432.79 345.21 L432.91 345.91 L433.04 346.49 L433.16 346.93 L433.28 347.21 L433.40 347.30 L433.52 347.16 L433.65 346.74 L433.77 346.07 L433.89 345.18 L434.02 344.14 L434.14 342.99 L434.26 341.81 L434.38 340.66 L434.51 339.62 L434.63 338.73 L434.75 338.06 L434.88 337.64 L435.00 337.50 L435.12 337.61 L435.25 337.92 L435.37 338.42 L435.49 339.08 L435.62 339.86 L435.74 340.71 L435.86 341.59 L435.98 342.44 L436.11 343.22 L436.23 343.88 L436.35 344.38 L436.48 344.69 L436.60 344.80 L436.72 344.72 L436.84 344.48 L436.97 344.09 L437.09 343.56 L437.21 342.91 L437.33 342.15 L437.46 341.31 L437.58 340.42 L437.70 339.50 L437.82 338.58 L437.94 337.69 L438.07 336.85 L438.19 336.09 L438.31 335.44 L438.43 334.91 L438.56 334.52 L438.68 334.28 L438.80 334.20 L438.92 334.31 L439.05 334.65 L439.17 335.18 L439.29 335.88 L439.42 336.72 L439.54 337.63 L439.66 338.57 L439.78 339.48 L439.91 340.32 L440.03 341.02 L440.15 341.55 L440.28 341.89 L440.40 342.00 L440.52 341.89 L440.65 341.58 L440.77 341.06 L440.90 340.37 L441.02 339.53 L441.15 338.57 L441.27 337.53 L441.40 336.45 L441.52 335.37 L441.65 334.33 L441.77 333.37 L441.90 332.53 L442.02 331.84 L442.15 331.32 L442.27 331.01 L442.40 330.90 L442.52 331.02 L442.65 331.37 L442.77 331.93 L442.89 332.67 L443.02 333.55 L443.14 334.51 L443.26 335.49 L443.38 336.45 L443.51 337.33 L443.63 338.07 L443.75 338.63 L443.88 338.98 L444.00 339.10 L444.12 339.03 L444.25 338.81 L444.38 338.46 L444.50 337.97 L444.62 337.37 L444.75 336.67 L444.88 335.88 L445.00 335.02 L445.12 334.12 L445.25 333.20 L445.38 332.28 L445.50 331.38 L445.62 330.52 L445.75 329.73 L445.88 329.03 L446.00 328.43 L446.12 327.94 L446.25 327.59 L446.38 327.37 L446.50 327.30 L446.62 327.44 L446.75 327.83 L446.87 328.47 L446.99 329.31 L447.12 330.30 L447.24 331.39 L447.36 332.51 L447.48 333.60 L447.61 334.59 L447.73 335.43 L447.85 336.07 L447.98 336.46 L448.10 336.60 L448.22 336.54 L448.34 336.36 L448.47 336.06 L448.59 335.65 L448.71 335.13 L448.83 334.52 L448.95 333.83 L449.07 333.06 L449.20 332.24 L449.32 331.38 L449.44 330.50 L449.56 329.60 L449.68 328.72 L449.80 327.86 L449.93 327.04 L450.05 326.27 L450.17 325.58 L450.29 324.97 L450.41 324.45 L450.53 324.04 L450.66 323.74 L450.78 323.56 L450.90 323.50 L451.02 323.57 L451.15 323.78 L451.27 324.11 L451.39 324.57 L451.52 325.13 L451.64 325.77 L451.76 326.48 L451.89 327.22 L452.01 327.98 L452.14 328.72 L452.26 329.43 L452.38 330.07 L452.51 330.63 L452.63 331.09 L452.75 331.42 L452.88 331.63 L453.00 331.70 L453.12 331.66 L453.24 331.52 L453.37 331.30 L453.49 331.00 L453.61 330.62 L453.73 330.17 L453.86 329.64 L453.98 329.06 L454.10 328.43 L454.22 327.74 L454.34 327.03 L454.47 326.29 L454.59 325.53 L454.71 324.77 L454.83 324.01 L454.96 323.27 L455.08 322.56 L455.20 321.88 L455.32 321.24 L455.44 320.66 L455.57 320.13 L455.69 319.68 L455.81 319.30 L455.93 319.00 L456.06 318.78 L456.18 318.64 L456.30 318.60 L456.43 318.66 L456.55 318.84 L456.68 319.14 L456.81 319.55 L456.93 320.05 L457.06 320.64 L457.18 321.29 L457.31 322.00 L457.44 322.73 L457.56 323.47 L457.69 324.20 L457.82 324.91 L457.94 325.56 L458.07 326.15 L458.19 326.65 L458.32 327.06 L458.45 327.36 L458.57 327.54 L458.70 327.60 L458.82 327.54 L458.94 327.37 L459.07 327.08 L459.19 326.69 L459.31 326.19 L459.43 325.60 L459.56 324.92 L459.68 324.16 L459.80 323.33 L459.92 322.44 L460.04 321.50 L460.17 320.53 L460.29 319.55 L460.41 318.55 L460.53 317.57 L460.66 316.60 L460.78 315.66 L460.90 314.78 L461.02 313.94 L461.14 313.18 L461.27 312.50 L461.39 311.91 L461.51 311.41 L461.63 311.02 L461.76 310.73 L461.88 310.56 L462.00 310.50 L462.12 310.52 L462.25 310.57 L462.37 310.66 L462.49 310.78 L462.61 310.93 L462.74 311.12 L462.86 311.34 L462.98 311.59 L463.10 311.87 L463.23 312.17 L463.35 312.50 L463.47 312.85 L463.59 313.22 L463.71 313.61 L463.84 314.02 L463.96 314.44 L464.08 314.87 L464.20 315.31 L464.33 315.75 L464.45 316.20 L464.57 316.65 L464.69 317.09 L464.82 317.53 L464.94 317.96 L465.06 318.38 L465.19 318.79 L465.31 319.18 L465.43 319.55 L465.55 319.90 L465.67 320.23 L465.80 320.53 L465.92 320.81 L466.04 321.06 L466.16 321.28 L466.29 321.47 L466.41 321.62 L466.53 321.74 L466.65 321.83 L466.78 321.88 L466.90 321.90 L467.02 321.88 L467.14 321.83 L467.26 321.74 L467.38 321.61 L467.50 321.45 L467.62 321.26 L467.74 321.03 L467.86 320.77 L467.98 320.47 L468.10 320.15 L468.22 319.79 L468.34 319.40 L468.46 318.99 L468.58 318.55 L468.70 318.09 L468.82 317.60 L468.94 317.09 L469.06 316.56 L469.18 316.01 L469.30 315.44 L469.42 314.86 L469.54 314.26 L469.66 313.66 L469.78 313.04 L469.90 312.42 L470.02 311.80 L470.14 311.17 L470.26 310.53 L470.38 309.90 L470.50 309.28 L470.62 308.66 L470.74 308.04 L470.86 307.44 L470.98 306.84 L471.10 306.26 L471.22 305.69 L471.34 305.14 L471.46 304.61 L471.58 304.10 L471.70 303.61 L471.82 303.15 L471.94 302.71 L472.06 302.30 L472.18 301.91 L472.30 301.55 L472.42 301.23 L472.54 300.93 L472.66 300.67 L472.78 300.44 L472.90 300.25 L473.02 300.09 L473.14 299.96 L473.26 299.87 L473.38 299.82 L473.50 299.80 L473.69 299.97 L473.94 300.18 L474.23 300.44 L474.56 300.73 L474.92 301.03 L475.28 301.36 L475.65 301.68 L476.00 302.00 L476.35 302.34 L476.71 302.71 L477.09 303.11 L477.47 303.51 L477.85 303.90 L478.24 304.25 L478.62 304.56 L479.00 304.80 L479.35 304.97 L479.68 305.08 L479.99 305.15 L480.31 305.19 L480.66 305.20 L481.04 305.20 L481.48 305.20 L482.00 305.20 L482.61 305.21 L483.29 305.20 L484.03 305.18 L484.81 305.15 L485.62 305.12 L486.43 305.08 L487.23 305.04 L488.00 305.00 L488.77 304.97 L489.58 304.97 L490.40 304.96 L491.22 304.95 L492.01 304.92 L492.75 304.86 L493.42 304.76 L494.00 304.60 L494.48 304.43 L494.88 304.28 L495.22 304.11 L495.50 303.90 L495.75 303.61 L495.99 303.22 L496.24 302.69 L496.50 302.00 L496.77 301.11 L497.03 300.04 L497.28 298.84 L497.53 297.52 L497.76 296.15 L498.00 294.74 L498.25 293.35 L498.50 292.00 L498.76 290.61 L499.04 289.10 L499.32 287.53 L499.59 285.97 L499.87 284.47 L500.13 283.11 L500.38 281.93 L500.60 281.00 L500.81 280.35 L501.01 279.92 L501.20 279.68 L501.38 279.56 L501.54 279.54 L501.69 279.55 L501.81 279.55 L501.90 279.50 L502.02 279.61 L502.15 279.94 L502.27 280.48 L502.39 281.21 L502.52 282.10 L502.64 283.13 L502.76 284.26 L502.89 285.45 L503.01 286.65 L503.14 287.84 L503.26 288.97 L503.38 290.00 L503.51 290.89 L503.63 291.62 L503.75 292.16 L503.88 292.49 L504.00 292.60 L504.12 292.55 L504.24 292.39 L504.37 292.14 L504.49 291.79 L504.61 291.34 L504.73 290.81 L504.86 290.20 L504.98 289.52 L505.10 288.78 L505.22 287.98 L505.34 287.14 L505.47 286.28 L505.59 285.39 L505.71 284.51 L505.83 283.62 L505.96 282.76 L506.08 281.92 L506.20 281.12 L506.32 280.38 L506.44 279.70 L506.57 279.09 L506.69 278.56 L506.81 278.11 L506.93 277.76 L507.06 277.51 L507.18 277.35 L507.30 277.30 L507.42 277.37 L507.55 277.57 L507.67 277.89 L507.79 278.34 L507.91 278.90 L508.04 279.56 L508.16 280.31 L508.28 281.13 L508.40 282.00 L508.53 282.92 L508.65 283.85 L508.77 284.78 L508.90 285.70 L509.02 286.57 L509.14 287.39 L509.26 288.14 L509.39 288.80 L509.51 289.36 L509.63 289.81 L509.75 290.13 L509.88 290.33 L510.00 290.40 L510.12 290.32 L510.24 290.10 L510.37 289.72 L510.49 289.21 L510.61 288.56 L510.73 287.80 L510.85 286.93 L510.97 285.97 L511.10 284.95 L511.22 283.87 L511.34 282.76 L511.46 281.64 L511.58 280.53 L511.70 279.45 L511.83 278.43 L511.95 277.47 L512.07 276.60 L512.19 275.84 L512.31 275.19 L512.43 274.68 L512.56 274.30 L512.68 274.08 L512.80 274.00 L512.92 274.07 L513.05 274.29 L513.17 274.64 L513.30 275.13 L513.42 275.74 L513.54 276.45 L513.67 277.25 L513.79 278.13 L513.91 279.05 L514.04 280.01 L514.16 280.99 L514.29 281.95 L514.41 282.87 L514.53 283.75 L514.66 284.55 L514.78 285.26 L514.90 285.87 L515.03 286.36 L515.15 286.71 L515.28 286.93 L515.40 287.00 L515.52 286.93 L515.64 286.72 L515.76 286.38 L515.88 285.91 L516.00 285.32 L516.12 284.61 L516.25 283.81 L516.37 282.93 L516.49 281.97 L516.61 280.96 L516.73 279.91 L516.85 278.85 L516.97 277.79 L517.09 276.74 L517.21 275.73 L517.33 274.77 L517.45 273.89 L517.57 273.09 L517.70 272.38 L517.82 271.79 L517.94 271.32 L518.06 270.98 L518.18 270.77 L518.30 270.70 L518.42 270.77 L518.55 270.96 L518.67 271.28 L518.79 271.70 L518.92 272.23 L519.04 272.83 L519.16 273.50 L519.29 274.19 L519.41 274.91 L519.54 275.60 L519.66 276.27 L519.78 276.87 L519.91 277.40 L520.03 277.82 L520.15 278.14 L520.28 278.33 L520.40 278.40 L520.56 277.99 L520.76 277.43 L521.01 276.76 L521.30 276.03 L521.63 275.26 L522.00 274.50 L522.42 273.71 L522.90 272.86 L523.41 271.98 L523.95 271.10 L524.48 270.26 L525.00 269.50 L525.50 268.82 L525.99 268.20 L526.48 267.62 L526.97 267.07 L527.48 266.53 L528.00 266.00 L528.58 265.45 L529.23 264.88 L529.89 264.33 L530.50 263.83 L531.03 263.41 L531.40 263.10" fill="none" stroke="#2626d6" stroke-width="1.35" stroke-linejoin="round" stroke-linecap="round" />
<path d="M352.00 405.35 L352.50 404.95 L353.00 404.56 L353.50 404.16 L354.00 403.77 L354.50 403.37 L355.00 402.97 L355.50 402.58 L356.00 402.18 L356.50 401.78 L357.00 401.39 L357.50 400.99 L358.00 400.60 L358.50 400.20 L359.00 399.80 L359.50 399.41 L360.00 399.01 L360.50 398.61 L361.00 398.22 L361.50 397.82 L362.00 397.43 L362.50 397.03 L363.00 396.63 L363.50 396.24 L364.00 395.84 L364.50 395.44 L365.00 395.05 L365.50 394.65 L366.00 394.26 L366.50 393.86 L367.00 393.46 L367.50 393.07 L368.00 392.67 L368.50 392.27 L369.00 391.88 L369.50 391.48 L370.00 391.09 L370.50 390.69 L371.00 390.29 L371.50 389.90 L372.00 389.50 L372.50 389.10 L373.00 388.71 L373.50 388.31 L374.00 387.92 L374.50 387.52 L375.00 387.12 L375.50 386.74 L376.00 386.36 L376.50 385.98 L377.00 385.60 L377.50 385.22 L378.00 384.84 L378.50 384.45 L379.00 384.07 L379.50 383.69 L380.00 383.31 L380.50 382.92 L381.00 382.53 L381.50 382.15 L382.00 381.76 L382.50 381.37 L383.00 380.98 L383.50 380.59 L384.00 380.20 L384.50 379.81 L385.00 379.43 L385.50 379.05 L386.00 378.67 L386.50 378.28 L387.00 377.90 L387.50 377.52 L388.00 377.14 L388.50 376.76 L389.00 376.38 L389.50 376.00 L390.00 375.62 L390.50 375.24 L391.00 374.86 L391.50 374.48 L392.00 374.10 L392.50 373.71 L393.00 373.33 L393.50 372.95 L394.00 372.57 L394.50 372.19 L395.00 371.81 L395.50 371.41 L396.00 371.01 L396.50 370.62 L397.00 370.22 L397.50 369.82 L398.00 369.43 L398.50 369.03 L399.00 368.63 L399.50 368.23 L400.00 367.84 L400.50 367.44 L401.00 367.04 L401.50 366.64 L402.00 366.25 L402.50 365.85 L403.00 365.45 L403.50 365.05 L404.00 364.66 L404.50 364.26 L405.00 363.86 L405.00 366.66 L404.50 367.04 L404.00 367.43 L403.50 367.81 L403.00 368.19 L402.50 368.57 L402.00 368.95 L401.50 369.34 L401.00 369.72 L400.50 370.10 L400.00 370.49 L399.50 370.87 L399.00 371.25 L398.50 371.63 L398.00 372.01 L397.50 372.40 L397.00 372.78 L396.50 373.16 L396.00 373.55 L395.50 373.93 L395.00 374.31 L394.50 374.71 L394.00 375.11 L393.50 375.51 L393.00 375.91 L392.50 376.31 L392.00 376.71 L391.50 377.10 L391.00 377.50 L390.50 377.90 L390.00 378.30 L389.50 378.70 L389.00 379.10 L388.50 379.50 L388.00 379.90 L387.50 380.30 L387.00 380.70 L386.50 381.10 L386.00 381.50 L385.50 381.89 L385.00 382.29 L384.50 382.69 L384.00 383.08 L383.50 383.47 L383.00 383.86 L382.50 384.25 L382.00 384.64 L381.50 385.04 L381.00 385.43 L380.50 385.82 L380.00 386.21 L379.50 386.61 L379.00 387.01 L378.50 387.41 L378.00 387.81 L377.50 388.20 L377.00 388.60 L376.50 389.00 L376.00 389.40 L375.50 389.80 L375.00 390.20 L374.50 390.58 L374.00 390.96 L373.50 391.35 L373.00 391.73 L372.50 392.12 L372.00 392.50 L371.50 392.88 L371.00 393.27 L370.50 393.65 L370.00 394.03 L369.50 394.42 L369.00 394.80 L368.50 395.19 L368.00 395.57 L367.50 395.95 L367.00 396.34 L366.50 396.72 L366.00 397.10 L365.50 397.49 L365.00 397.87 L364.50 398.26 L364.00 398.64 L363.50 399.02 L363.00 399.41 L362.50 399.79 L362.00 400.18 L361.50 400.56 L361.00 400.94 L360.50 401.33 L360.00 401.71 L359.50 402.09 L359.00 402.48 L358.50 402.86 L358.00 403.25 L357.50 403.63 L357.00 404.01 L356.50 404.40 L356.00 404.78 L355.50 405.16 L355.00 405.55 L354.50 405.93 L354.00 406.31 L353.50 406.70 L353.00 407.08 L352.50 407.47 L352.00 407.85Z" fill="#2626d6"/>
<path d="M521.50 273.30 L521.89 272.88 L522.43 272.30 L523.06 271.62 L523.74 270.89 L524.41 270.16 L525.00 269.50 L525.52 268.89 L526.02 268.29 L526.51 267.69 L526.99 267.11 L527.48 266.55 L528.00 266.00 L528.58 265.45 L529.23 264.88 L529.89 264.33 L530.50 263.83 L531.03 263.41 L531.40 263.10" fill="none" stroke="#2626d6" stroke-width="2.2" stroke-linejoin="round" stroke-linecap="round" />
<text x="360.1" y="262.8" font-size="10" text-anchor="start" fill="#9a5cc9"  stroke="#9a5cc9" stroke-width="0.2">Phase locking</text>
<rect x="329.1" y="245.3" width="217.2" height="174.9" fill="none" stroke="#505050" stroke-width="1.1"/>
<path d="M325.5 420.2H329.1M325.5 396.9H329.1M325.5 373.6H329.1M325.5 350.3H329.1M325.5 327H329.1M325.5 303.7H329.1M325.5 280.4H329.1M325.5 257.1H329.1M327.1 408.55H329.1M327.1 385.25H329.1M327.1 361.95H329.1M327.1 338.65H329.1M327.1 315.35H329.1M327.1 292.05H329.1M327.1 268.75H329.1" stroke="#505050" stroke-width="1" fill="none"/>
<text x="322.6" y="423.4" font-size="10" text-anchor="end" fill="#262626" stroke="#262626" stroke-width="0.2">160</text>
<text x="322.6" y="400.1" font-size="10" text-anchor="end" fill="#262626" stroke="#262626" stroke-width="0.2">164</text>
<text x="322.6" y="376.8" font-size="10" text-anchor="end" fill="#262626" stroke="#262626" stroke-width="0.2">168</text>
<text x="322.6" y="353.5" font-size="10" text-anchor="end" fill="#262626" stroke="#262626" stroke-width="0.2">172</text>
<text x="322.6" y="330.2" font-size="10" text-anchor="end" fill="#262626" stroke="#262626" stroke-width="0.2">176</text>
<text x="322.6" y="306.9" font-size="10" text-anchor="end" fill="#262626" stroke="#262626" stroke-width="0.2">180</text>
<text x="322.6" y="283.6" font-size="10" text-anchor="end" fill="#262626" stroke="#262626" stroke-width="0.2">184</text>
<text x="322.6" y="260.3" font-size="10" text-anchor="end" fill="#262626" stroke="#262626" stroke-width="0.2">188</text>
<path d="M351.4 420.2V423.4M408.7 420.2V423.4M466 420.2V423.4M523.3 420.2V423.4M380.05 420.2V422M437.35 420.2V422M494.65 420.2V422" stroke="#505050" stroke-width="1" fill="none"/>
<text x="351.4" y="434" font-size="10" text-anchor="middle" fill="#262626" stroke="#262626" stroke-width="0.2">0</text>
<text x="408.7" y="434" font-size="10" text-anchor="middle" fill="#262626" stroke="#262626" stroke-width="0.2">5</text>
<text x="466" y="434" font-size="10" text-anchor="middle" fill="#262626" stroke="#262626" stroke-width="0.2">10</text>
<text x="523.3" y="434" font-size="10" text-anchor="middle" fill="#262626" stroke="#262626" stroke-width="0.2">15</text>
<text x="437.7" y="449.8" font-size="10.7" text-anchor="middle" fill="#262626"  stroke="#262626" stroke-width="0.2">Time (s)</text>
<text transform="translate(299,325) rotate(-90)" font-size="10.4" text-anchor="middle" fill="#262626" stroke="#262626" stroke-width="0.2">Phase difference <tspan font-style="italic" style="font-family:Liberation Serif" font-size="12.5">φ</tspan><tspan font-size="7.8" dy="2.3">2</tspan></text>
<text x="14.1" y="446.6" style="font-family:Liberation Serif;font-weight:bold" font-size="14" fill="#111" stroke="#111" stroke-width="0.2">(e)</text>
<path d="M77.30 604.90 L92.80 589.20 L108.30 576.20 L123.80 566.40 L139.30 556.20 L154.80 547.50 L170.30 537.90 L185.80 529.10 L201.30 521.90 L216.80 514.00 L232.30 508.20 L247.80 501.80 L263.30 496.50" fill="none" stroke="#4a4a4a" stroke-width="1.2" stroke-linejoin="round" stroke-linecap="round" />
<rect x="75.00" y="602.60" width="4.6" height="4.6" fill="#3a3a3a"/>
<rect x="90.50" y="586.90" width="4.6" height="4.6" fill="#3a3a3a"/>
<rect x="106.00" y="573.90" width="4.6" height="4.6" fill="#3a3a3a"/>
<rect x="121.50" y="564.10" width="4.6" height="4.6" fill="#3a3a3a"/>
<rect x="137.00" y="553.90" width="4.6" height="4.6" fill="#3a3a3a"/>
<rect x="152.50" y="545.20" width="4.6" height="4.6" fill="#3a3a3a"/>
<rect x="168.00" y="535.60" width="4.6" height="4.6" fill="#3a3a3a"/>
<rect x="183.50" y="526.80" width="4.6" height="4.6" fill="#3a3a3a"/>
<rect x="199.00" y="519.60" width="4.6" height="4.6" fill="#3a3a3a"/>
<rect x="214.50" y="511.70" width="4.6" height="4.6" fill="#3a3a3a"/>
<rect x="230.00" y="505.90" width="4.6" height="4.6" fill="#3a3a3a"/>
<rect x="245.50" y="499.50" width="4.6" height="4.6" fill="#3a3a3a"/>
<rect x="261.00" y="494.20" width="4.6" height="4.6" fill="#3a3a3a"/>
<path d="M77.30 578.70 L92.80 566.20 L108.30 555.00 L123.80 544.50 L139.30 535.80 L154.80 527.70 L170.30 520.40 L185.80 513.10 L201.30 506.70 L216.80 500.90 L232.30 495.10 L247.80 489.90 L263.30 484.30" fill="none" stroke="#e2474f" stroke-width="1.2" stroke-linejoin="round" stroke-linecap="round" />
<circle cx="77.30" cy="578.70" r="2.6" fill="#e8343c"/>
<circle cx="92.80" cy="566.20" r="2.6" fill="#e8343c"/>
<circle cx="108.30" cy="555.00" r="2.6" fill="#e8343c"/>
<circle cx="123.80" cy="544.50" r="2.6" fill="#e8343c"/>
<circle cx="139.30" cy="535.80" r="2.6" fill="#e8343c"/>
<circle cx="154.80" cy="527.70" r="2.6" fill="#e8343c"/>
<circle cx="170.30" cy="520.40" r="2.6" fill="#e8343c"/>
<circle cx="185.80" cy="513.10" r="2.6" fill="#e8343c"/>
<circle cx="201.30" cy="506.70" r="2.6" fill="#e8343c"/>
<circle cx="216.80" cy="500.90" r="2.6" fill="#e8343c"/>
<circle cx="232.30" cy="495.10" r="2.6" fill="#e8343c"/>
<circle cx="247.80" cy="489.90" r="2.6" fill="#e8343c"/>
<circle cx="263.30" cy="484.30" r="2.6" fill="#e8343c"/>
<path d="M77.30 549.70 L92.80 541.00 L108.30 532.80 L123.80 526.20 L139.30 516.90 L154.80 511.10 L170.30 504.10 L185.80 498.90 L201.30 492.80 L216.80 487.20 L232.30 482.00 L247.80 476.80 L263.30 470.90" fill="none" stroke="#3a80d8" stroke-width="1.2" stroke-linejoin="round" stroke-linecap="round" />
<path d="M74.40 551.90L77.30 546.90L80.20 551.90Z" fill="#1e6fd8"/>
<path d="M89.90 543.20L92.80 538.20L95.70 543.20Z" fill="#1e6fd8"/>
<path d="M105.40 535.00L108.30 530.00L111.20 535.00Z" fill="#1e6fd8"/>
<path d="M120.90 528.40L123.80 523.40L126.70 528.40Z" fill="#1e6fd8"/>
<path d="M136.40 519.10L139.30 514.10L142.20 519.10Z" fill="#1e6fd8"/>
<path d="M151.90 513.30L154.80 508.30L157.70 513.30Z" fill="#1e6fd8"/>
<path d="M167.40 506.30L170.30 501.30L173.20 506.30Z" fill="#1e6fd8"/>
<path d="M182.90 501.10L185.80 496.10L188.70 501.10Z" fill="#1e6fd8"/>
<path d="M198.40 495.00L201.30 490.00L204.20 495.00Z" fill="#1e6fd8"/>
<path d="M213.90 489.40L216.80 484.40L219.70 489.40Z" fill="#1e6fd8"/>
<path d="M229.40 484.20L232.30 479.20L235.20 484.20Z" fill="#1e6fd8"/>
<path d="M244.90 479.00L247.80 474.00L250.70 479.00Z" fill="#1e6fd8"/>
<path d="M260.40 473.10L263.30 468.10L266.20 473.10Z" fill="#1e6fd8"/>
<rect x="61.8" y="456" width="217.1" height="174.5" fill="none" stroke="#505050" stroke-width="1.1"/>
<path d="M58.2 630.5H61.8M58.2 597.6H61.8M58.2 564.7H61.8M58.2 531.8H61.8M58.2 498.9H61.8M58.2 466H61.8M59.8 614.05H61.8M59.8 581.15H61.8M59.8 548.25H61.8M59.8 515.35H61.8M59.8 482.45H61.8" stroke="#505050" stroke-width="1" fill="none"/>
<text x="56.4" y="633.41" font-size="9.1" text-anchor="end" fill="#262626" letter-spacing="-0.3" stroke="#262626" stroke-width="0.2">214,143</text>
<text x="56.4" y="600.51" font-size="9.1" text-anchor="end" fill="#262626" letter-spacing="-0.3" stroke="#262626" stroke-width="0.2">214,146</text>
<text x="56.4" y="567.61" font-size="9.1" text-anchor="end" fill="#262626" letter-spacing="-0.3" stroke="#262626" stroke-width="0.2">214,149</text>
<text x="56.4" y="534.71" font-size="9.1" text-anchor="end" fill="#262626" letter-spacing="-0.3" stroke="#262626" stroke-width="0.2">214,152</text>
<text x="56.4" y="501.81" font-size="9.1" text-anchor="end" fill="#262626" letter-spacing="-0.3" stroke="#262626" stroke-width="0.2">214,155</text>
<text x="56.4" y="468.91" font-size="9.1" text-anchor="end" fill="#262626" letter-spacing="-0.3" stroke="#262626" stroke-width="0.2">214,158</text>
<path d="M77.3 630.5V633.7M108.3 630.5V633.7M139.3 630.5V633.7M170.3 630.5V633.7M201.3 630.5V633.7M232.3 630.5V633.7M263.3 630.5V633.7M92.8 630.5V632.3M123.8 630.5V632.3M154.8 630.5V632.3M185.8 630.5V632.3M216.8 630.5V632.3M247.8 630.5V632.3" stroke="#505050" stroke-width="1" fill="none"/>
<text x="77.3" y="644.6" font-size="9" text-anchor="middle" fill="#262626" stroke="#262626" stroke-width="0.2">30</text>
<text x="108.3" y="644.6" font-size="9" text-anchor="middle" fill="#262626" stroke="#262626" stroke-width="0.2">40</text>
<text x="139.3" y="644.6" font-size="9" text-anchor="middle" fill="#262626" stroke="#262626" stroke-width="0.2">50</text>
<text x="170.3" y="644.6" font-size="9" text-anchor="middle" fill="#262626" stroke="#262626" stroke-width="0.2">60</text>
<text x="201.3" y="644.6" font-size="9" text-anchor="middle" fill="#262626" stroke="#262626" stroke-width="0.2">70</text>
<text x="232.3" y="644.6" font-size="9" text-anchor="middle" fill="#262626" stroke="#262626" stroke-width="0.2">80</text>
<text x="263.3" y="644.6" font-size="9" text-anchor="middle" fill="#262626" stroke="#262626" stroke-width="0.2">90</text>
<text x="170.6" y="658.9" font-size="9.9" text-anchor="middle" fill="#262626"  stroke="#262626" stroke-width="0.2">Phase delay (°)</text>
<text transform="translate(15.9,543) rotate(-90)" font-size="9.8" text-anchor="middle" fill="#262626"  stroke="#262626" stroke-width="0.2">Frequency (Hz)</text>
<text x="74.3" y="472" font-size="10.3" fill="#9658c2" stroke="#9658c2" stroke-width="0.2"><tspan font-style="italic">V</tspan><tspan font-size="7" font-style="italic" dy="2">f</tspan><tspan dy="-2" dx="0.5">= 10 mV, </tspan><tspan font-style="italic">V</tspan><tspan font-size="7" font-style="italic" dy="2">p</tspan><tspan dy="-2" dx="0.3">= 1 mV</tspan></text>
<path d="M225 575.0H245.8" stroke="#4a4a4a" stroke-width="1.2"/>
<rect x="233.29999999999998" y="572.7" width="4.6" height="4.6" fill="#3a3a3a"/>
<text x="248" y="578.6" font-size="10.8" fill="#262626" style="font-family:Liberation Serif" stroke="#262626" stroke-width="0.2">Ω<tspan font-size="7" dy="2.2">1</tspan></text>
<path d="M225 589.1H245.8" stroke="#e2474f" stroke-width="1.2"/>
<circle cx="235.6" cy="589.1" r="2.6" fill="#e8343c"/>
<text x="248" y="592.7" font-size="10.8" fill="#262626" style="font-family:Liberation Serif" stroke="#262626" stroke-width="0.2">Ω<tspan font-size="7" dy="2.2">0</tspan></text>
<path d="M225 603.2H245.8" stroke="#3a80d8" stroke-width="1.2"/>
<path d="M232.7 605.4000000000001L235.6 600.4000000000001L238.5 605.4000000000001Z" fill="#1e6fd8"/>
<text x="248" y="606.8000000000001" font-size="10.8" fill="#262626" style="font-family:Liberation Serif" stroke="#262626" stroke-width="0.2">Ω<tspan font-size="7" dy="2.2">2</tspan></text>
<text x="297.8" y="452.8" style="font-family:Liberation Serif;font-weight:bold" font-size="14" fill="#111" stroke="#111" stroke-width="0.2">(f)</text>
<path d="M349.50 547.20 L392.94 541.40 L436.38 543.20 L479.82 548.30 L523.26 549.50" fill="none" stroke="#4a4a4a" stroke-width="1.2" stroke-linejoin="round" stroke-linecap="round" />
<rect x="347.20" y="544.90" width="4.6" height="4.6" fill="#3a3a3a"/>
<rect x="390.64" y="539.10" width="4.6" height="4.6" fill="#3a3a3a"/>
<rect x="434.08" y="540.90" width="4.6" height="4.6" fill="#3a3a3a"/>
<rect x="477.52" y="546.00" width="4.6" height="4.6" fill="#3a3a3a"/>
<rect x="520.96" y="547.20" width="4.6" height="4.6" fill="#3a3a3a"/>
<path d="M349.50 539.90 L392.94 541.40 L436.38 541.00 L479.82 544.10 L523.26 547.20" fill="none" stroke="#e2474f" stroke-width="1.2" stroke-linejoin="round" stroke-linecap="round" />
<circle cx="349.50" cy="539.90" r="2.6" fill="#e8343c"/>
<circle cx="392.94" cy="541.40" r="2.6" fill="#e8343c"/>
<circle cx="436.38" cy="541.00" r="2.6" fill="#e8343c"/>
<circle cx="479.82" cy="544.10" r="2.6" fill="#e8343c"/>
<circle cx="523.26" cy="547.20" r="2.6" fill="#e8343c"/>
<path d="M349.50 542.30 L392.94 541.40 L436.38 538.60 L479.82 538.60 L523.26 538.60" fill="none" stroke="#3a80d8" stroke-width="1.2" stroke-linejoin="round" stroke-linecap="round" />
<path d="M346.60 544.50L349.50 539.50L352.40 544.50Z" fill="#1e6fd8"/>
<path d="M390.04 543.60L392.94 538.60L395.84 543.60Z" fill="#1e6fd8"/>
<path d="M433.48 540.80L436.38 535.80L439.28 540.80Z" fill="#1e6fd8"/>
<path d="M476.92 540.80L479.82 535.80L482.72 540.80Z" fill="#1e6fd8"/>
<path d="M520.36 540.80L523.26 535.80L526.16 540.80Z" fill="#1e6fd8"/>
<rect x="328" y="456" width="217.1" height="174.9" fill="none" stroke="#505050" stroke-width="1.1"/>
<path d="M324.4 456.05H328M324.4 485.2H328M324.4 514.35H328M324.4 543.5H328M324.4 572.65H328M324.4 601.8H328M324.4 630.95H328M326 470.62H328M326 499.77H328M326 528.92H328M326 558.08H328M326 587.23H328M326 616.38H328" stroke="#505050" stroke-width="1" fill="none"/>
<text x="321.6" y="458.99" font-size="9.2" text-anchor="end" fill="#262626" stroke="#262626" stroke-width="0.2">3</text>
<text x="321.6" y="488.14" font-size="9.2" text-anchor="end" fill="#262626" stroke="#262626" stroke-width="0.2">2</text>
<text x="321.6" y="517.29" font-size="9.2" text-anchor="end" fill="#262626" stroke="#262626" stroke-width="0.2">1</text>
<text x="321.6" y="546.44" font-size="9.2" text-anchor="end" fill="#262626" stroke="#262626" stroke-width="0.2">0</text>
<text x="321.6" y="575.59" font-size="9.2" text-anchor="end" fill="#262626" stroke="#262626" stroke-width="0.2">−1</text>
<text x="321.6" y="604.74" font-size="9.2" text-anchor="end" fill="#262626" stroke="#262626" stroke-width="0.2">−2</text>
<text x="321.6" y="633.89" font-size="9.2" text-anchor="end" fill="#262626" stroke="#262626" stroke-width="0.2">−3</text>
<path d="M349.5 630.9V634.1M392.94 630.9V634.1M436.38 630.9V634.1M479.82 630.9V634.1M523.26 630.9V634.1M371.22 630.9V632.7M414.66 630.9V632.7M458.1 630.9V632.7M501.54 630.9V632.7" stroke="#505050" stroke-width="1" fill="none"/>
<text x="349.5" y="643.8" font-size="9" text-anchor="middle" fill="#262626" stroke="#262626" stroke-width="0.2">2</text>
<text x="392.94" y="643.8" font-size="9" text-anchor="middle" fill="#262626" stroke="#262626" stroke-width="0.2">4</text>
<text x="436.38" y="643.8" font-size="9" text-anchor="middle" fill="#262626" stroke="#262626" stroke-width="0.2">6</text>
<text x="479.82" y="643.8" font-size="9" text-anchor="middle" fill="#262626" stroke="#262626" stroke-width="0.2">8</text>
<text x="523.26" y="643.8" font-size="9" text-anchor="middle" fill="#262626" stroke="#262626" stroke-width="0.2">10</text>
<text x="436.4" y="659.3" font-size="9.9" text-anchor="middle" fill="#262626"  stroke="#262626" stroke-width="0.2">Excitation voltage (mV)</text>
<text x="342" y="472" font-size="10.3" fill="#9658c2" stroke="#9658c2" stroke-width="0.2"><tspan font-style="italic">V</tspan><tspan font-size="7" font-style="italic" dy="2">f</tspan><tspan dy="-2" dx="0.5">= 10 mV, </tspan><tspan font-style="italic">V</tspan><tspan font-size="7" font-style="italic" dy="2">p</tspan><tspan dy="-2" dx="0.3">= 1 mV</tspan></text>
<text transform="translate(306,542.4) rotate(-90)" font-size="9.5" text-anchor="middle" fill="#262626" stroke="#262626" stroke-width="0.2"><tspan style="font-family:Liberation Serif">ΔΩ</tspan><tspan font-size="6" dy="2">2</tspan><tspan dy="-2">−</tspan><tspan style="font-family:Liberation Serif">ΔΩ</tspan><tspan font-size="6" dy="2">1</tspan><tspan dy="-2"> (Hz)</tspan></text>
<path d="M492.7 468.4H513.7" stroke="#4a4a4a" stroke-width="1.2"/>
<rect x="501.2" y="466.09999999999997" width="4.6" height="4.6" fill="#3a3a3a"/>
<text x="516.6" y="471.6" font-size="9" text-anchor="start" fill="#262626"  stroke="#262626" stroke-width="0.2">30°</text>
<path d="M492.7 479.7H513.7" stroke="#e2474f" stroke-width="1.2"/>
<circle cx="503.5" cy="479.7" r="2.6" fill="#e8343c"/>
<text x="516.6" y="482.9" font-size="9" text-anchor="start" fill="#262626"  stroke="#262626" stroke-width="0.2">60°</text>
<path d="M492.7 491.0H513.7" stroke="#3a80d8" stroke-width="1.2"/>
<path d="M500.6 493.2L503.5 488.2L506.4 493.2Z" fill="#1e6fd8"/>
<text x="516.6" y="494.2" font-size="9" text-anchor="start" fill="#262626"  stroke="#262626" stroke-width="0.2">90°</text>
</svg>
</body></html>
